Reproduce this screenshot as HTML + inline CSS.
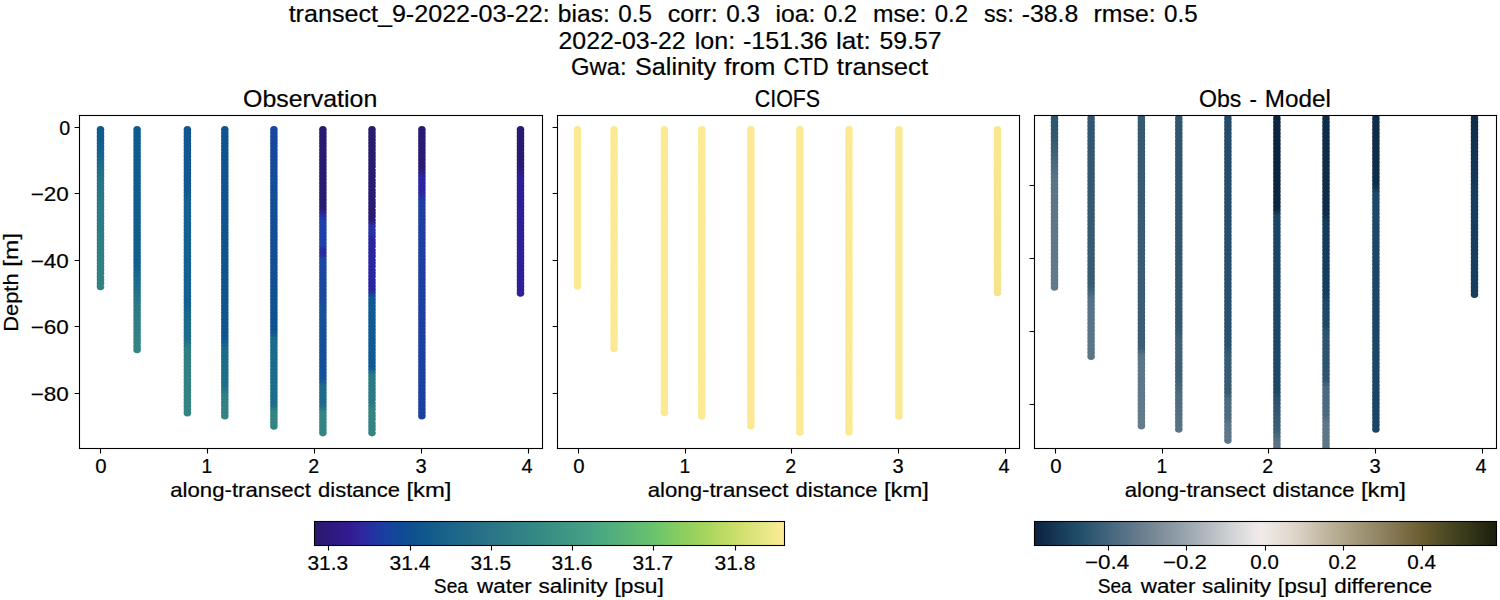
<!DOCTYPE html>
<html><head><meta charset="utf-8"><title>transect</title>
<style>html,body{margin:0;padding:0;background:#fff;}svg{display:block;}text{font-family:"Liberation Sans", sans-serif;fill:#000;white-space:pre;stroke:#000;stroke-width:0.2px;}</style>
</head><body>
<svg width="1500" height="600" viewBox="0 0 1500 600">
<defs><clipPath id="c0"><rect x="79.5" y="115.5" width="463.0" height="333.0"/></clipPath><clipPath id="c1"><rect x="557.5" y="115.5" width="462.0" height="333.0"/></clipPath><clipPath id="c2"><rect x="1034.5" y="115.5" width="462.0" height="333.0"/></clipPath><linearGradient id="g1" gradientUnits="userSpaceOnUse" x1="0" y1="125.90" x2="0" y2="290.30"><stop offset="0.0006" stop-color="#0f5a8c"/><stop offset="0.1344" stop-color="#12608d"/><stop offset="0.2987" stop-color="#237289"/><stop offset="0.4507" stop-color="#2b7a86"/><stop offset="0.9982" stop-color="#338282"/></linearGradient><linearGradient id="g2" gradientUnits="userSpaceOnUse" x1="0" y1="125.90" x2="0" y2="353.30"><stop offset="0.0004" stop-color="#0f5a8f"/><stop offset="0.5985" stop-color="#125f8e"/><stop offset="0.6996" stop-color="#1d6d8a"/><stop offset="0.7876" stop-color="#2a7a86"/><stop offset="0.8755" stop-color="#2f7f84"/><stop offset="0.9987" stop-color="#348483"/></linearGradient><linearGradient id="g3" gradientUnits="userSpaceOnUse" x1="0" y1="125.90" x2="0" y2="416.60"><stop offset="0.0003" stop-color="#0f5890"/><stop offset="0.2205" stop-color="#0f5890"/><stop offset="0.2549" stop-color="#14608e"/><stop offset="0.6161" stop-color="#14608e"/><stop offset="0.6402" stop-color="#1a688a"/><stop offset="0.7365" stop-color="#1e6d89"/><stop offset="0.7709" stop-color="#2e8080"/><stop offset="0.9979" stop-color="#348483"/></linearGradient><linearGradient id="g4" gradientUnits="userSpaceOnUse" x1="0" y1="125.90" x2="0" y2="419.60"><stop offset="0.0003" stop-color="#0e5490"/><stop offset="0.7222" stop-color="#0f5690"/><stop offset="0.7562" stop-color="#1a6a8a"/><stop offset="0.8822" stop-color="#1f6f89"/><stop offset="0.9162" stop-color="#2e8084"/><stop offset="1.0000" stop-color="#348483"/></linearGradient><linearGradient id="g5" gradientUnits="userSpaceOnUse" x1="0" y1="125.90" x2="0" y2="429.70"><stop offset="0.0003" stop-color="#1a44a0"/><stop offset="0.1122" stop-color="#154a9a"/><stop offset="0.2439" stop-color="#124e96"/><stop offset="0.6718" stop-color="#0f5290"/><stop offset="0.7047" stop-color="#1a6a8c"/><stop offset="0.9187" stop-color="#1d6c8a"/><stop offset="0.9417" stop-color="#348483"/><stop offset="1.0000" stop-color="#348483"/></linearGradient><linearGradient id="g6" gradientUnits="userSpaceOnUse" x1="0" y1="125.90" x2="0" y2="436.40"><stop offset="0.0003" stop-color="#2a1a70"/><stop offset="0.2676" stop-color="#2a1a72"/><stop offset="0.2870" stop-color="#2a2aa8"/><stop offset="0.3063" stop-color="#1e40a8"/><stop offset="0.3836" stop-color="#1e40a8"/><stop offset="0.3965" stop-color="#2a2aa0"/><stop offset="0.4158" stop-color="#2a2aa0"/><stop offset="0.4287" stop-color="#1a48a0"/><stop offset="0.5607" stop-color="#1a48a0"/><stop offset="0.5800" stop-color="#165098"/><stop offset="0.8119" stop-color="#12509a"/><stop offset="0.8377" stop-color="#1d6a8c"/><stop offset="0.8989" stop-color="#1d6a8c"/><stop offset="0.9214" stop-color="#348483"/><stop offset="0.9987" stop-color="#348483"/></linearGradient><linearGradient id="g7" gradientUnits="userSpaceOnUse" x1="0" y1="125.90" x2="0" y2="436.40"><stop offset="0.0003" stop-color="#2a1a70"/><stop offset="0.3031" stop-color="#2a1a72"/><stop offset="0.3224" stop-color="#2a30a8"/><stop offset="0.3481" stop-color="#2a30a8"/><stop offset="0.3610" stop-color="#2a24a0"/><stop offset="0.5285" stop-color="#2a26a0"/><stop offset="0.5543" stop-color="#0f5a95"/><stop offset="0.7797" stop-color="#0f5a95"/><stop offset="0.8023" stop-color="#2a7a86"/><stop offset="0.8892" stop-color="#2a7a86"/><stop offset="0.9118" stop-color="#348483"/><stop offset="0.9987" stop-color="#348483"/></linearGradient><linearGradient id="g8" gradientUnits="userSpaceOnUse" x1="0" y1="125.90" x2="0" y2="419.60"><stop offset="0.0003" stop-color="#2a1a74"/><stop offset="0.1433" stop-color="#2a1a74"/><stop offset="0.1706" stop-color="#2c24a0"/><stop offset="0.2251" stop-color="#2c24a0"/><stop offset="0.2523" stop-color="#1e3ea0"/><stop offset="1.0000" stop-color="#1d40a0"/></linearGradient><linearGradient id="g9" gradientUnits="userSpaceOnUse" x1="0" y1="125.90" x2="0" y2="296.80"><stop offset="0.0006" stop-color="#2a1a70"/><stop offset="0.2288" stop-color="#2a1a74"/><stop offset="0.3166" stop-color="#2c2098"/><stop offset="1.0000" stop-color="#2e209a"/></linearGradient><linearGradient id="g10" gradientUnits="userSpaceOnUse" x1="0" y1="125.90" x2="0" y2="296.30"><stop offset="0.0006" stop-color="#fae891"/><stop offset="0.4349" stop-color="#f8e68e"/><stop offset="1.0000" stop-color="#f5e48b"/></linearGradient><linearGradient id="g11" gradientUnits="userSpaceOnUse" x1="0" y1="111.10" x2="0" y2="290.84"><stop offset="0.0273" stop-color="#2e5570"/><stop offset="0.1608" stop-color="#34596f"/><stop offset="0.2999" stop-color="#4a6a80"/><stop offset="0.3833" stop-color="#5a7586"/><stop offset="0.9953" stop-color="#627a8a"/></linearGradient><linearGradient id="g12" gradientUnits="userSpaceOnUse" x1="0" y1="111.10" x2="0" y2="360.00"><stop offset="0.0197" stop-color="#31566f"/><stop offset="0.6987" stop-color="#375b72"/><stop offset="0.7589" stop-color="#56708a"/><stop offset="0.9960" stop-color="#5e7786"/></linearGradient><linearGradient id="g13" gradientUnits="userSpaceOnUse" x1="0" y1="111.10" x2="0" y2="429.49"><stop offset="0.0154" stop-color="#35596f"/><stop offset="0.7441" stop-color="#3b5e76"/><stop offset="0.7692" stop-color="#5a7586"/><stop offset="0.9985" stop-color="#667c8c"/></linearGradient><linearGradient id="g14" gradientUnits="userSpaceOnUse" x1="0" y1="111.10" x2="0" y2="432.78"><stop offset="0.0152" stop-color="#30556f"/><stop offset="0.6743" stop-color="#34586f"/><stop offset="0.7116" stop-color="#3e6178"/><stop offset="0.8328" stop-color="#3e6178"/><stop offset="0.8826" stop-color="#4e6c80"/><stop offset="0.9976" stop-color="#5a7385"/></linearGradient><linearGradient id="g15" gradientUnits="userSpaceOnUse" x1="0" y1="111.10" x2="0" y2="443.87"><stop offset="0.0147" stop-color="#244c6a"/><stop offset="0.7029" stop-color="#2a5270"/><stop offset="0.7329" stop-color="#365b73"/><stop offset="0.8471" stop-color="#365b73"/><stop offset="0.8682" stop-color="#4e6c80"/><stop offset="0.9253" stop-color="#4e6c80"/><stop offset="0.9433" stop-color="#5e7788"/><stop offset="1.0000" stop-color="#5e7788"/></linearGradient><linearGradient id="g16" gradientUnits="userSpaceOnUse" x1="0" y1="111.10" x2="0" y2="451.22"><stop offset="0.0144" stop-color="#0b2540"/><stop offset="0.2849" stop-color="#0b2540"/><stop offset="0.3084" stop-color="#1a4565"/><stop offset="0.8200" stop-color="#1d4868"/><stop offset="0.8494" stop-color="#2a5270"/><stop offset="0.9435" stop-color="#3e6178"/><stop offset="0.9729" stop-color="#5a7385"/><stop offset="0.9964" stop-color="#5a7385"/></linearGradient><linearGradient id="g17" gradientUnits="userSpaceOnUse" x1="0" y1="111.10" x2="0" y2="451.22"><stop offset="0.0144" stop-color="#0f2c48"/><stop offset="0.2996" stop-color="#0f2c48"/><stop offset="0.3231" stop-color="#133a5a"/><stop offset="0.5377" stop-color="#163e5e"/><stop offset="0.5613" stop-color="#1e4868"/><stop offset="0.6289" stop-color="#1e4868"/><stop offset="0.6495" stop-color="#2e5570"/><stop offset="0.7906" stop-color="#2e5570"/><stop offset="0.8112" stop-color="#4a6a80"/><stop offset="0.8964" stop-color="#4a6a80"/><stop offset="0.9170" stop-color="#5e7788"/><stop offset="0.9964" stop-color="#5e7788"/></linearGradient><linearGradient id="g18" gradientUnits="userSpaceOnUse" x1="0" y1="111.10" x2="0" y2="432.78"><stop offset="0.0152" stop-color="#0f2c48"/><stop offset="0.2266" stop-color="#0f2c48"/><stop offset="0.2577" stop-color="#1d4868"/><stop offset="1.0000" stop-color="#1b4565"/></linearGradient><linearGradient id="g19" gradientUnits="userSpaceOnUse" x1="0" y1="111.10" x2="0" y2="297.98"><stop offset="0.0262" stop-color="#102c48"/><stop offset="0.2617" stop-color="#143455"/><stop offset="0.4757" stop-color="#173e5e"/><stop offset="0.9948" stop-color="#173e5e"/></linearGradient><linearGradient id="cm1" x1="0" y1="0" x2="1" y2="0"><stop offset="0.0" stop-color="#2a186c"/><stop offset="0.04" stop-color="#2e1a80"/><stop offset="0.08" stop-color="#331c94"/><stop offset="0.106" stop-color="#2c28a0"/><stop offset="0.129" stop-color="#2035a0"/><stop offset="0.151" stop-color="#1a40a0"/><stop offset="0.184" stop-color="#0f4a96"/><stop offset="0.208" stop-color="#0f5090"/><stop offset="0.242" stop-color="#0f5a8c"/><stop offset="0.287" stop-color="#1a648a"/><stop offset="0.333" stop-color="#226c88"/><stop offset="0.412" stop-color="#2e7d86"/><stop offset="0.48" stop-color="#368a85"/><stop offset="0.524" stop-color="#3d9485"/><stop offset="0.571" stop-color="#449e84"/><stop offset="0.616" stop-color="#4caa80"/><stop offset="0.658" stop-color="#58b478"/><stop offset="0.727" stop-color="#6cc46c"/><stop offset="0.771" stop-color="#86cc62"/><stop offset="0.817" stop-color="#9ed25c"/><stop offset="0.863" stop-color="#b8da62"/><stop offset="0.907" stop-color="#d0e06e"/><stop offset="0.953" stop-color="#e5e684"/><stop offset="0.988" stop-color="#f8ea92"/><stop offset="1.0" stop-color="#fdec98"/></linearGradient><linearGradient id="cm2" x1="0" y1="0" x2="1" y2="0"><stop offset="0.0" stop-color="#0b2240"/><stop offset="0.088" stop-color="#1e4a68"/><stop offset="0.164" stop-color="#45677e"/><stop offset="0.233" stop-color="#6a7e8e"/><stop offset="0.302" stop-color="#8c9aa4"/><stop offset="0.371" stop-color="#b2b8be"/><stop offset="0.44" stop-color="#d8d9db"/><stop offset="0.49" stop-color="#f1ecea"/><stop offset="0.557" stop-color="#e0d8cc"/><stop offset="0.626" stop-color="#c2b8a2"/><stop offset="0.695" stop-color="#a49a7a"/><stop offset="0.764" stop-color="#8a7d5a"/><stop offset="0.834" stop-color="#6c5f32"/><stop offset="0.903" stop-color="#464522"/><stop offset="1.0" stop-color="#1c1e0b"/></linearGradient></defs>
<rect width="1500" height="600" fill="#fff"/>
<g clip-path="url(#c0)">
<path fill="url(#g1)" d="M96.7 129.7a3.8 3.8 0 1 0 7.6 0a3.8 3.8 0 1 0 -7.6 0M96.7 133.0a3.8 3.8 0 1 0 7.6 0a3.8 3.8 0 1 0 -7.6 0M96.7 136.4a3.8 3.8 0 1 0 7.6 0a3.8 3.8 0 1 0 -7.6 0M96.7 139.7a3.8 3.8 0 1 0 7.6 0a3.8 3.8 0 1 0 -7.6 0M96.7 143.0a3.8 3.8 0 1 0 7.6 0a3.8 3.8 0 1 0 -7.6 0M96.7 146.4a3.8 3.8 0 1 0 7.6 0a3.8 3.8 0 1 0 -7.6 0M96.7 149.7a3.8 3.8 0 1 0 7.6 0a3.8 3.8 0 1 0 -7.6 0M96.7 153.1a3.8 3.8 0 1 0 7.6 0a3.8 3.8 0 1 0 -7.6 0M96.7 156.4a3.8 3.8 0 1 0 7.6 0a3.8 3.8 0 1 0 -7.6 0M96.7 159.7a3.8 3.8 0 1 0 7.6 0a3.8 3.8 0 1 0 -7.6 0M96.7 163.1a3.8 3.8 0 1 0 7.6 0a3.8 3.8 0 1 0 -7.6 0M96.7 166.4a3.8 3.8 0 1 0 7.6 0a3.8 3.8 0 1 0 -7.6 0M96.7 169.7a3.8 3.8 0 1 0 7.6 0a3.8 3.8 0 1 0 -7.6 0M96.7 173.1a3.8 3.8 0 1 0 7.6 0a3.8 3.8 0 1 0 -7.6 0M96.7 176.4a3.8 3.8 0 1 0 7.6 0a3.8 3.8 0 1 0 -7.6 0M96.7 179.7a3.8 3.8 0 1 0 7.6 0a3.8 3.8 0 1 0 -7.6 0M96.7 183.1a3.8 3.8 0 1 0 7.6 0a3.8 3.8 0 1 0 -7.6 0M96.7 186.4a3.8 3.8 0 1 0 7.6 0a3.8 3.8 0 1 0 -7.6 0M96.7 189.8a3.8 3.8 0 1 0 7.6 0a3.8 3.8 0 1 0 -7.6 0M96.7 193.1a3.8 3.8 0 1 0 7.6 0a3.8 3.8 0 1 0 -7.6 0M96.7 196.4a3.8 3.8 0 1 0 7.6 0a3.8 3.8 0 1 0 -7.6 0M96.7 199.8a3.8 3.8 0 1 0 7.6 0a3.8 3.8 0 1 0 -7.6 0M96.7 203.1a3.8 3.8 0 1 0 7.6 0a3.8 3.8 0 1 0 -7.6 0M96.7 206.4a3.8 3.8 0 1 0 7.6 0a3.8 3.8 0 1 0 -7.6 0M96.7 209.8a3.8 3.8 0 1 0 7.6 0a3.8 3.8 0 1 0 -7.6 0M96.7 213.1a3.8 3.8 0 1 0 7.6 0a3.8 3.8 0 1 0 -7.6 0M96.7 216.4a3.8 3.8 0 1 0 7.6 0a3.8 3.8 0 1 0 -7.6 0M96.7 219.8a3.8 3.8 0 1 0 7.6 0a3.8 3.8 0 1 0 -7.6 0M96.7 223.1a3.8 3.8 0 1 0 7.6 0a3.8 3.8 0 1 0 -7.6 0M96.7 226.4a3.8 3.8 0 1 0 7.6 0a3.8 3.8 0 1 0 -7.6 0M96.7 229.8a3.8 3.8 0 1 0 7.6 0a3.8 3.8 0 1 0 -7.6 0M96.7 233.1a3.8 3.8 0 1 0 7.6 0a3.8 3.8 0 1 0 -7.6 0M96.7 236.5a3.8 3.8 0 1 0 7.6 0a3.8 3.8 0 1 0 -7.6 0M96.7 239.8a3.8 3.8 0 1 0 7.6 0a3.8 3.8 0 1 0 -7.6 0M96.7 243.1a3.8 3.8 0 1 0 7.6 0a3.8 3.8 0 1 0 -7.6 0M96.7 246.5a3.8 3.8 0 1 0 7.6 0a3.8 3.8 0 1 0 -7.6 0M96.7 249.8a3.8 3.8 0 1 0 7.6 0a3.8 3.8 0 1 0 -7.6 0M96.7 253.1a3.8 3.8 0 1 0 7.6 0a3.8 3.8 0 1 0 -7.6 0M96.7 256.5a3.8 3.8 0 1 0 7.6 0a3.8 3.8 0 1 0 -7.6 0M96.7 259.8a3.8 3.8 0 1 0 7.6 0a3.8 3.8 0 1 0 -7.6 0M96.7 263.1a3.8 3.8 0 1 0 7.6 0a3.8 3.8 0 1 0 -7.6 0M96.7 266.5a3.8 3.8 0 1 0 7.6 0a3.8 3.8 0 1 0 -7.6 0M96.7 269.8a3.8 3.8 0 1 0 7.6 0a3.8 3.8 0 1 0 -7.6 0M96.7 273.2a3.8 3.8 0 1 0 7.6 0a3.8 3.8 0 1 0 -7.6 0M96.7 276.5a3.8 3.8 0 1 0 7.6 0a3.8 3.8 0 1 0 -7.6 0M96.7 279.8a3.8 3.8 0 1 0 7.6 0a3.8 3.8 0 1 0 -7.6 0M96.7 283.2a3.8 3.8 0 1 0 7.6 0a3.8 3.8 0 1 0 -7.6 0M96.7 286.5a3.8 3.8 0 1 0 7.6 0a3.8 3.8 0 1 0 -7.6 0"/>
<path fill="url(#g2)" d="M133.3 129.7a3.8 3.8 0 1 0 7.6 0a3.8 3.8 0 1 0 -7.6 0M133.3 133.0a3.8 3.8 0 1 0 7.6 0a3.8 3.8 0 1 0 -7.6 0M133.3 136.4a3.8 3.8 0 1 0 7.6 0a3.8 3.8 0 1 0 -7.6 0M133.3 139.7a3.8 3.8 0 1 0 7.6 0a3.8 3.8 0 1 0 -7.6 0M133.3 143.0a3.8 3.8 0 1 0 7.6 0a3.8 3.8 0 1 0 -7.6 0M133.3 146.4a3.8 3.8 0 1 0 7.6 0a3.8 3.8 0 1 0 -7.6 0M133.3 149.7a3.8 3.8 0 1 0 7.6 0a3.8 3.8 0 1 0 -7.6 0M133.3 153.0a3.8 3.8 0 1 0 7.6 0a3.8 3.8 0 1 0 -7.6 0M133.3 156.3a3.8 3.8 0 1 0 7.6 0a3.8 3.8 0 1 0 -7.6 0M133.3 159.7a3.8 3.8 0 1 0 7.6 0a3.8 3.8 0 1 0 -7.6 0M133.3 163.0a3.8 3.8 0 1 0 7.6 0a3.8 3.8 0 1 0 -7.6 0M133.3 166.3a3.8 3.8 0 1 0 7.6 0a3.8 3.8 0 1 0 -7.6 0M133.3 169.7a3.8 3.8 0 1 0 7.6 0a3.8 3.8 0 1 0 -7.6 0M133.3 173.0a3.8 3.8 0 1 0 7.6 0a3.8 3.8 0 1 0 -7.6 0M133.3 176.3a3.8 3.8 0 1 0 7.6 0a3.8 3.8 0 1 0 -7.6 0M133.3 179.7a3.8 3.8 0 1 0 7.6 0a3.8 3.8 0 1 0 -7.6 0M133.3 183.0a3.8 3.8 0 1 0 7.6 0a3.8 3.8 0 1 0 -7.6 0M133.3 186.3a3.8 3.8 0 1 0 7.6 0a3.8 3.8 0 1 0 -7.6 0M133.3 189.6a3.8 3.8 0 1 0 7.6 0a3.8 3.8 0 1 0 -7.6 0M133.3 193.0a3.8 3.8 0 1 0 7.6 0a3.8 3.8 0 1 0 -7.6 0M133.3 196.3a3.8 3.8 0 1 0 7.6 0a3.8 3.8 0 1 0 -7.6 0M133.3 199.6a3.8 3.8 0 1 0 7.6 0a3.8 3.8 0 1 0 -7.6 0M133.3 203.0a3.8 3.8 0 1 0 7.6 0a3.8 3.8 0 1 0 -7.6 0M133.3 206.3a3.8 3.8 0 1 0 7.6 0a3.8 3.8 0 1 0 -7.6 0M133.3 209.6a3.8 3.8 0 1 0 7.6 0a3.8 3.8 0 1 0 -7.6 0M133.3 213.0a3.8 3.8 0 1 0 7.6 0a3.8 3.8 0 1 0 -7.6 0M133.3 216.3a3.8 3.8 0 1 0 7.6 0a3.8 3.8 0 1 0 -7.6 0M133.3 219.6a3.8 3.8 0 1 0 7.6 0a3.8 3.8 0 1 0 -7.6 0M133.3 222.9a3.8 3.8 0 1 0 7.6 0a3.8 3.8 0 1 0 -7.6 0M133.3 226.3a3.8 3.8 0 1 0 7.6 0a3.8 3.8 0 1 0 -7.6 0M133.3 229.6a3.8 3.8 0 1 0 7.6 0a3.8 3.8 0 1 0 -7.6 0M133.3 232.9a3.8 3.8 0 1 0 7.6 0a3.8 3.8 0 1 0 -7.6 0M133.3 236.3a3.8 3.8 0 1 0 7.6 0a3.8 3.8 0 1 0 -7.6 0M133.3 239.6a3.8 3.8 0 1 0 7.6 0a3.8 3.8 0 1 0 -7.6 0M133.3 242.9a3.8 3.8 0 1 0 7.6 0a3.8 3.8 0 1 0 -7.6 0M133.3 246.3a3.8 3.8 0 1 0 7.6 0a3.8 3.8 0 1 0 -7.6 0M133.3 249.6a3.8 3.8 0 1 0 7.6 0a3.8 3.8 0 1 0 -7.6 0M133.3 252.9a3.8 3.8 0 1 0 7.6 0a3.8 3.8 0 1 0 -7.6 0M133.3 256.3a3.8 3.8 0 1 0 7.6 0a3.8 3.8 0 1 0 -7.6 0M133.3 259.6a3.8 3.8 0 1 0 7.6 0a3.8 3.8 0 1 0 -7.6 0M133.3 262.9a3.8 3.8 0 1 0 7.6 0a3.8 3.8 0 1 0 -7.6 0M133.3 266.2a3.8 3.8 0 1 0 7.6 0a3.8 3.8 0 1 0 -7.6 0M133.3 269.6a3.8 3.8 0 1 0 7.6 0a3.8 3.8 0 1 0 -7.6 0M133.3 272.9a3.8 3.8 0 1 0 7.6 0a3.8 3.8 0 1 0 -7.6 0M133.3 276.2a3.8 3.8 0 1 0 7.6 0a3.8 3.8 0 1 0 -7.6 0M133.3 279.6a3.8 3.8 0 1 0 7.6 0a3.8 3.8 0 1 0 -7.6 0M133.3 282.9a3.8 3.8 0 1 0 7.6 0a3.8 3.8 0 1 0 -7.6 0M133.3 286.2a3.8 3.8 0 1 0 7.6 0a3.8 3.8 0 1 0 -7.6 0M133.3 289.6a3.8 3.8 0 1 0 7.6 0a3.8 3.8 0 1 0 -7.6 0M133.3 292.9a3.8 3.8 0 1 0 7.6 0a3.8 3.8 0 1 0 -7.6 0M133.3 296.2a3.8 3.8 0 1 0 7.6 0a3.8 3.8 0 1 0 -7.6 0M133.3 299.5a3.8 3.8 0 1 0 7.6 0a3.8 3.8 0 1 0 -7.6 0M133.3 302.9a3.8 3.8 0 1 0 7.6 0a3.8 3.8 0 1 0 -7.6 0M133.3 306.2a3.8 3.8 0 1 0 7.6 0a3.8 3.8 0 1 0 -7.6 0M133.3 309.5a3.8 3.8 0 1 0 7.6 0a3.8 3.8 0 1 0 -7.6 0M133.3 312.9a3.8 3.8 0 1 0 7.6 0a3.8 3.8 0 1 0 -7.6 0M133.3 316.2a3.8 3.8 0 1 0 7.6 0a3.8 3.8 0 1 0 -7.6 0M133.3 319.5a3.8 3.8 0 1 0 7.6 0a3.8 3.8 0 1 0 -7.6 0M133.3 322.9a3.8 3.8 0 1 0 7.6 0a3.8 3.8 0 1 0 -7.6 0M133.3 326.2a3.8 3.8 0 1 0 7.6 0a3.8 3.8 0 1 0 -7.6 0M133.3 329.5a3.8 3.8 0 1 0 7.6 0a3.8 3.8 0 1 0 -7.6 0M133.3 332.8a3.8 3.8 0 1 0 7.6 0a3.8 3.8 0 1 0 -7.6 0M133.3 336.2a3.8 3.8 0 1 0 7.6 0a3.8 3.8 0 1 0 -7.6 0M133.3 339.5a3.8 3.8 0 1 0 7.6 0a3.8 3.8 0 1 0 -7.6 0M133.3 342.8a3.8 3.8 0 1 0 7.6 0a3.8 3.8 0 1 0 -7.6 0M133.3 346.2a3.8 3.8 0 1 0 7.6 0a3.8 3.8 0 1 0 -7.6 0M133.3 349.5a3.8 3.8 0 1 0 7.6 0a3.8 3.8 0 1 0 -7.6 0"/>
<path fill="url(#g3)" d="M183.6 129.7a3.8 3.8 0 1 0 7.6 0a3.8 3.8 0 1 0 -7.6 0M183.6 133.0a3.8 3.8 0 1 0 7.6 0a3.8 3.8 0 1 0 -7.6 0M183.6 136.4a3.8 3.8 0 1 0 7.6 0a3.8 3.8 0 1 0 -7.6 0M183.6 139.7a3.8 3.8 0 1 0 7.6 0a3.8 3.8 0 1 0 -7.6 0M183.6 143.0a3.8 3.8 0 1 0 7.6 0a3.8 3.8 0 1 0 -7.6 0M183.6 146.4a3.8 3.8 0 1 0 7.6 0a3.8 3.8 0 1 0 -7.6 0M183.6 149.7a3.8 3.8 0 1 0 7.6 0a3.8 3.8 0 1 0 -7.6 0M183.6 153.0a3.8 3.8 0 1 0 7.6 0a3.8 3.8 0 1 0 -7.6 0M183.6 156.3a3.8 3.8 0 1 0 7.6 0a3.8 3.8 0 1 0 -7.6 0M183.6 159.7a3.8 3.8 0 1 0 7.6 0a3.8 3.8 0 1 0 -7.6 0M183.6 163.0a3.8 3.8 0 1 0 7.6 0a3.8 3.8 0 1 0 -7.6 0M183.6 166.3a3.8 3.8 0 1 0 7.6 0a3.8 3.8 0 1 0 -7.6 0M183.6 169.7a3.8 3.8 0 1 0 7.6 0a3.8 3.8 0 1 0 -7.6 0M183.6 173.0a3.8 3.8 0 1 0 7.6 0a3.8 3.8 0 1 0 -7.6 0M183.6 176.3a3.8 3.8 0 1 0 7.6 0a3.8 3.8 0 1 0 -7.6 0M183.6 179.7a3.8 3.8 0 1 0 7.6 0a3.8 3.8 0 1 0 -7.6 0M183.6 183.0a3.8 3.8 0 1 0 7.6 0a3.8 3.8 0 1 0 -7.6 0M183.6 186.3a3.8 3.8 0 1 0 7.6 0a3.8 3.8 0 1 0 -7.6 0M183.6 189.7a3.8 3.8 0 1 0 7.6 0a3.8 3.8 0 1 0 -7.6 0M183.6 193.0a3.8 3.8 0 1 0 7.6 0a3.8 3.8 0 1 0 -7.6 0M183.6 196.3a3.8 3.8 0 1 0 7.6 0a3.8 3.8 0 1 0 -7.6 0M183.6 199.6a3.8 3.8 0 1 0 7.6 0a3.8 3.8 0 1 0 -7.6 0M183.6 203.0a3.8 3.8 0 1 0 7.6 0a3.8 3.8 0 1 0 -7.6 0M183.6 206.3a3.8 3.8 0 1 0 7.6 0a3.8 3.8 0 1 0 -7.6 0M183.6 209.6a3.8 3.8 0 1 0 7.6 0a3.8 3.8 0 1 0 -7.6 0M183.6 213.0a3.8 3.8 0 1 0 7.6 0a3.8 3.8 0 1 0 -7.6 0M183.6 216.3a3.8 3.8 0 1 0 7.6 0a3.8 3.8 0 1 0 -7.6 0M183.6 219.6a3.8 3.8 0 1 0 7.6 0a3.8 3.8 0 1 0 -7.6 0M183.6 223.0a3.8 3.8 0 1 0 7.6 0a3.8 3.8 0 1 0 -7.6 0M183.6 226.3a3.8 3.8 0 1 0 7.6 0a3.8 3.8 0 1 0 -7.6 0M183.6 229.6a3.8 3.8 0 1 0 7.6 0a3.8 3.8 0 1 0 -7.6 0M183.6 232.9a3.8 3.8 0 1 0 7.6 0a3.8 3.8 0 1 0 -7.6 0M183.6 236.3a3.8 3.8 0 1 0 7.6 0a3.8 3.8 0 1 0 -7.6 0M183.6 239.6a3.8 3.8 0 1 0 7.6 0a3.8 3.8 0 1 0 -7.6 0M183.6 242.9a3.8 3.8 0 1 0 7.6 0a3.8 3.8 0 1 0 -7.6 0M183.6 246.3a3.8 3.8 0 1 0 7.6 0a3.8 3.8 0 1 0 -7.6 0M183.6 249.6a3.8 3.8 0 1 0 7.6 0a3.8 3.8 0 1 0 -7.6 0M183.6 252.9a3.8 3.8 0 1 0 7.6 0a3.8 3.8 0 1 0 -7.6 0M183.6 256.3a3.8 3.8 0 1 0 7.6 0a3.8 3.8 0 1 0 -7.6 0M183.6 259.6a3.8 3.8 0 1 0 7.6 0a3.8 3.8 0 1 0 -7.6 0M183.6 262.9a3.8 3.8 0 1 0 7.6 0a3.8 3.8 0 1 0 -7.6 0M183.6 266.3a3.8 3.8 0 1 0 7.6 0a3.8 3.8 0 1 0 -7.6 0M183.6 269.6a3.8 3.8 0 1 0 7.6 0a3.8 3.8 0 1 0 -7.6 0M183.6 272.9a3.8 3.8 0 1 0 7.6 0a3.8 3.8 0 1 0 -7.6 0M183.6 276.2a3.8 3.8 0 1 0 7.6 0a3.8 3.8 0 1 0 -7.6 0M183.6 279.6a3.8 3.8 0 1 0 7.6 0a3.8 3.8 0 1 0 -7.6 0M183.6 282.9a3.8 3.8 0 1 0 7.6 0a3.8 3.8 0 1 0 -7.6 0M183.6 286.2a3.8 3.8 0 1 0 7.6 0a3.8 3.8 0 1 0 -7.6 0M183.6 289.6a3.8 3.8 0 1 0 7.6 0a3.8 3.8 0 1 0 -7.6 0M183.6 292.9a3.8 3.8 0 1 0 7.6 0a3.8 3.8 0 1 0 -7.6 0M183.6 296.2a3.8 3.8 0 1 0 7.6 0a3.8 3.8 0 1 0 -7.6 0M183.6 299.6a3.8 3.8 0 1 0 7.6 0a3.8 3.8 0 1 0 -7.6 0M183.6 302.9a3.8 3.8 0 1 0 7.6 0a3.8 3.8 0 1 0 -7.6 0M183.6 306.2a3.8 3.8 0 1 0 7.6 0a3.8 3.8 0 1 0 -7.6 0M183.6 309.6a3.8 3.8 0 1 0 7.6 0a3.8 3.8 0 1 0 -7.6 0M183.6 312.9a3.8 3.8 0 1 0 7.6 0a3.8 3.8 0 1 0 -7.6 0M183.6 316.2a3.8 3.8 0 1 0 7.6 0a3.8 3.8 0 1 0 -7.6 0M183.6 319.5a3.8 3.8 0 1 0 7.6 0a3.8 3.8 0 1 0 -7.6 0M183.6 322.9a3.8 3.8 0 1 0 7.6 0a3.8 3.8 0 1 0 -7.6 0M183.6 326.2a3.8 3.8 0 1 0 7.6 0a3.8 3.8 0 1 0 -7.6 0M183.6 329.5a3.8 3.8 0 1 0 7.6 0a3.8 3.8 0 1 0 -7.6 0M183.6 332.9a3.8 3.8 0 1 0 7.6 0a3.8 3.8 0 1 0 -7.6 0M183.6 336.2a3.8 3.8 0 1 0 7.6 0a3.8 3.8 0 1 0 -7.6 0M183.6 339.5a3.8 3.8 0 1 0 7.6 0a3.8 3.8 0 1 0 -7.6 0M183.6 342.9a3.8 3.8 0 1 0 7.6 0a3.8 3.8 0 1 0 -7.6 0M183.6 346.2a3.8 3.8 0 1 0 7.6 0a3.8 3.8 0 1 0 -7.6 0M183.6 349.5a3.8 3.8 0 1 0 7.6 0a3.8 3.8 0 1 0 -7.6 0M183.6 352.8a3.8 3.8 0 1 0 7.6 0a3.8 3.8 0 1 0 -7.6 0M183.6 356.2a3.8 3.8 0 1 0 7.6 0a3.8 3.8 0 1 0 -7.6 0M183.6 359.5a3.8 3.8 0 1 0 7.6 0a3.8 3.8 0 1 0 -7.6 0M183.6 362.8a3.8 3.8 0 1 0 7.6 0a3.8 3.8 0 1 0 -7.6 0M183.6 366.2a3.8 3.8 0 1 0 7.6 0a3.8 3.8 0 1 0 -7.6 0M183.6 369.5a3.8 3.8 0 1 0 7.6 0a3.8 3.8 0 1 0 -7.6 0M183.6 372.8a3.8 3.8 0 1 0 7.6 0a3.8 3.8 0 1 0 -7.6 0M183.6 376.2a3.8 3.8 0 1 0 7.6 0a3.8 3.8 0 1 0 -7.6 0M183.6 379.5a3.8 3.8 0 1 0 7.6 0a3.8 3.8 0 1 0 -7.6 0M183.6 382.8a3.8 3.8 0 1 0 7.6 0a3.8 3.8 0 1 0 -7.6 0M183.6 386.2a3.8 3.8 0 1 0 7.6 0a3.8 3.8 0 1 0 -7.6 0M183.6 389.5a3.8 3.8 0 1 0 7.6 0a3.8 3.8 0 1 0 -7.6 0M183.6 392.8a3.8 3.8 0 1 0 7.6 0a3.8 3.8 0 1 0 -7.6 0M183.6 396.1a3.8 3.8 0 1 0 7.6 0a3.8 3.8 0 1 0 -7.6 0M183.6 399.5a3.8 3.8 0 1 0 7.6 0a3.8 3.8 0 1 0 -7.6 0M183.6 402.8a3.8 3.8 0 1 0 7.6 0a3.8 3.8 0 1 0 -7.6 0M183.6 406.1a3.8 3.8 0 1 0 7.6 0a3.8 3.8 0 1 0 -7.6 0M183.6 409.5a3.8 3.8 0 1 0 7.6 0a3.8 3.8 0 1 0 -7.6 0M183.6 412.8a3.8 3.8 0 1 0 7.6 0a3.8 3.8 0 1 0 -7.6 0"/>
<path fill="url(#g4)" d="M221.0 129.7a3.8 3.8 0 1 0 7.6 0a3.8 3.8 0 1 0 -7.6 0M221.0 133.0a3.8 3.8 0 1 0 7.6 0a3.8 3.8 0 1 0 -7.6 0M221.0 136.4a3.8 3.8 0 1 0 7.6 0a3.8 3.8 0 1 0 -7.6 0M221.0 139.7a3.8 3.8 0 1 0 7.6 0a3.8 3.8 0 1 0 -7.6 0M221.0 143.0a3.8 3.8 0 1 0 7.6 0a3.8 3.8 0 1 0 -7.6 0M221.0 146.3a3.8 3.8 0 1 0 7.6 0a3.8 3.8 0 1 0 -7.6 0M221.0 149.7a3.8 3.8 0 1 0 7.6 0a3.8 3.8 0 1 0 -7.6 0M221.0 153.0a3.8 3.8 0 1 0 7.6 0a3.8 3.8 0 1 0 -7.6 0M221.0 156.3a3.8 3.8 0 1 0 7.6 0a3.8 3.8 0 1 0 -7.6 0M221.0 159.6a3.8 3.8 0 1 0 7.6 0a3.8 3.8 0 1 0 -7.6 0M221.0 163.0a3.8 3.8 0 1 0 7.6 0a3.8 3.8 0 1 0 -7.6 0M221.0 166.3a3.8 3.8 0 1 0 7.6 0a3.8 3.8 0 1 0 -7.6 0M221.0 169.6a3.8 3.8 0 1 0 7.6 0a3.8 3.8 0 1 0 -7.6 0M221.0 172.9a3.8 3.8 0 1 0 7.6 0a3.8 3.8 0 1 0 -7.6 0M221.0 176.3a3.8 3.8 0 1 0 7.6 0a3.8 3.8 0 1 0 -7.6 0M221.0 179.6a3.8 3.8 0 1 0 7.6 0a3.8 3.8 0 1 0 -7.6 0M221.0 182.9a3.8 3.8 0 1 0 7.6 0a3.8 3.8 0 1 0 -7.6 0M221.0 186.3a3.8 3.8 0 1 0 7.6 0a3.8 3.8 0 1 0 -7.6 0M221.0 189.6a3.8 3.8 0 1 0 7.6 0a3.8 3.8 0 1 0 -7.6 0M221.0 192.9a3.8 3.8 0 1 0 7.6 0a3.8 3.8 0 1 0 -7.6 0M221.0 196.2a3.8 3.8 0 1 0 7.6 0a3.8 3.8 0 1 0 -7.6 0M221.0 199.6a3.8 3.8 0 1 0 7.6 0a3.8 3.8 0 1 0 -7.6 0M221.0 202.9a3.8 3.8 0 1 0 7.6 0a3.8 3.8 0 1 0 -7.6 0M221.0 206.2a3.8 3.8 0 1 0 7.6 0a3.8 3.8 0 1 0 -7.6 0M221.0 209.5a3.8 3.8 0 1 0 7.6 0a3.8 3.8 0 1 0 -7.6 0M221.0 212.9a3.8 3.8 0 1 0 7.6 0a3.8 3.8 0 1 0 -7.6 0M221.0 216.2a3.8 3.8 0 1 0 7.6 0a3.8 3.8 0 1 0 -7.6 0M221.0 219.5a3.8 3.8 0 1 0 7.6 0a3.8 3.8 0 1 0 -7.6 0M221.0 222.8a3.8 3.8 0 1 0 7.6 0a3.8 3.8 0 1 0 -7.6 0M221.0 226.2a3.8 3.8 0 1 0 7.6 0a3.8 3.8 0 1 0 -7.6 0M221.0 229.5a3.8 3.8 0 1 0 7.6 0a3.8 3.8 0 1 0 -7.6 0M221.0 232.8a3.8 3.8 0 1 0 7.6 0a3.8 3.8 0 1 0 -7.6 0M221.0 236.2a3.8 3.8 0 1 0 7.6 0a3.8 3.8 0 1 0 -7.6 0M221.0 239.5a3.8 3.8 0 1 0 7.6 0a3.8 3.8 0 1 0 -7.6 0M221.0 242.8a3.8 3.8 0 1 0 7.6 0a3.8 3.8 0 1 0 -7.6 0M221.0 246.1a3.8 3.8 0 1 0 7.6 0a3.8 3.8 0 1 0 -7.6 0M221.0 249.5a3.8 3.8 0 1 0 7.6 0a3.8 3.8 0 1 0 -7.6 0M221.0 252.8a3.8 3.8 0 1 0 7.6 0a3.8 3.8 0 1 0 -7.6 0M221.0 256.1a3.8 3.8 0 1 0 7.6 0a3.8 3.8 0 1 0 -7.6 0M221.0 259.4a3.8 3.8 0 1 0 7.6 0a3.8 3.8 0 1 0 -7.6 0M221.0 262.8a3.8 3.8 0 1 0 7.6 0a3.8 3.8 0 1 0 -7.6 0M221.0 266.1a3.8 3.8 0 1 0 7.6 0a3.8 3.8 0 1 0 -7.6 0M221.0 269.4a3.8 3.8 0 1 0 7.6 0a3.8 3.8 0 1 0 -7.6 0M221.0 272.8a3.8 3.8 0 1 0 7.6 0a3.8 3.8 0 1 0 -7.6 0M221.0 276.1a3.8 3.8 0 1 0 7.6 0a3.8 3.8 0 1 0 -7.6 0M221.0 279.4a3.8 3.8 0 1 0 7.6 0a3.8 3.8 0 1 0 -7.6 0M221.0 282.7a3.8 3.8 0 1 0 7.6 0a3.8 3.8 0 1 0 -7.6 0M221.0 286.1a3.8 3.8 0 1 0 7.6 0a3.8 3.8 0 1 0 -7.6 0M221.0 289.4a3.8 3.8 0 1 0 7.6 0a3.8 3.8 0 1 0 -7.6 0M221.0 292.7a3.8 3.8 0 1 0 7.6 0a3.8 3.8 0 1 0 -7.6 0M221.0 296.0a3.8 3.8 0 1 0 7.6 0a3.8 3.8 0 1 0 -7.6 0M221.0 299.4a3.8 3.8 0 1 0 7.6 0a3.8 3.8 0 1 0 -7.6 0M221.0 302.7a3.8 3.8 0 1 0 7.6 0a3.8 3.8 0 1 0 -7.6 0M221.0 306.0a3.8 3.8 0 1 0 7.6 0a3.8 3.8 0 1 0 -7.6 0M221.0 309.3a3.8 3.8 0 1 0 7.6 0a3.8 3.8 0 1 0 -7.6 0M221.0 312.7a3.8 3.8 0 1 0 7.6 0a3.8 3.8 0 1 0 -7.6 0M221.0 316.0a3.8 3.8 0 1 0 7.6 0a3.8 3.8 0 1 0 -7.6 0M221.0 319.3a3.8 3.8 0 1 0 7.6 0a3.8 3.8 0 1 0 -7.6 0M221.0 322.7a3.8 3.8 0 1 0 7.6 0a3.8 3.8 0 1 0 -7.6 0M221.0 326.0a3.8 3.8 0 1 0 7.6 0a3.8 3.8 0 1 0 -7.6 0M221.0 329.3a3.8 3.8 0 1 0 7.6 0a3.8 3.8 0 1 0 -7.6 0M221.0 332.6a3.8 3.8 0 1 0 7.6 0a3.8 3.8 0 1 0 -7.6 0M221.0 336.0a3.8 3.8 0 1 0 7.6 0a3.8 3.8 0 1 0 -7.6 0M221.0 339.3a3.8 3.8 0 1 0 7.6 0a3.8 3.8 0 1 0 -7.6 0M221.0 342.6a3.8 3.8 0 1 0 7.6 0a3.8 3.8 0 1 0 -7.6 0M221.0 345.9a3.8 3.8 0 1 0 7.6 0a3.8 3.8 0 1 0 -7.6 0M221.0 349.3a3.8 3.8 0 1 0 7.6 0a3.8 3.8 0 1 0 -7.6 0M221.0 352.6a3.8 3.8 0 1 0 7.6 0a3.8 3.8 0 1 0 -7.6 0M221.0 355.9a3.8 3.8 0 1 0 7.6 0a3.8 3.8 0 1 0 -7.6 0M221.0 359.2a3.8 3.8 0 1 0 7.6 0a3.8 3.8 0 1 0 -7.6 0M221.0 362.6a3.8 3.8 0 1 0 7.6 0a3.8 3.8 0 1 0 -7.6 0M221.0 365.9a3.8 3.8 0 1 0 7.6 0a3.8 3.8 0 1 0 -7.6 0M221.0 369.2a3.8 3.8 0 1 0 7.6 0a3.8 3.8 0 1 0 -7.6 0M221.0 372.6a3.8 3.8 0 1 0 7.6 0a3.8 3.8 0 1 0 -7.6 0M221.0 375.9a3.8 3.8 0 1 0 7.6 0a3.8 3.8 0 1 0 -7.6 0M221.0 379.2a3.8 3.8 0 1 0 7.6 0a3.8 3.8 0 1 0 -7.6 0M221.0 382.5a3.8 3.8 0 1 0 7.6 0a3.8 3.8 0 1 0 -7.6 0M221.0 385.9a3.8 3.8 0 1 0 7.6 0a3.8 3.8 0 1 0 -7.6 0M221.0 389.2a3.8 3.8 0 1 0 7.6 0a3.8 3.8 0 1 0 -7.6 0M221.0 392.5a3.8 3.8 0 1 0 7.6 0a3.8 3.8 0 1 0 -7.6 0M221.0 395.8a3.8 3.8 0 1 0 7.6 0a3.8 3.8 0 1 0 -7.6 0M221.0 399.2a3.8 3.8 0 1 0 7.6 0a3.8 3.8 0 1 0 -7.6 0M221.0 402.5a3.8 3.8 0 1 0 7.6 0a3.8 3.8 0 1 0 -7.6 0M221.0 405.8a3.8 3.8 0 1 0 7.6 0a3.8 3.8 0 1 0 -7.6 0M221.0 409.1a3.8 3.8 0 1 0 7.6 0a3.8 3.8 0 1 0 -7.6 0M221.0 412.5a3.8 3.8 0 1 0 7.6 0a3.8 3.8 0 1 0 -7.6 0M221.0 415.8a3.8 3.8 0 1 0 7.6 0a3.8 3.8 0 1 0 -7.6 0"/>
<path fill="url(#g5)" d="M270.1 129.7a3.8 3.8 0 1 0 7.6 0a3.8 3.8 0 1 0 -7.6 0M270.1 133.0a3.8 3.8 0 1 0 7.6 0a3.8 3.8 0 1 0 -7.6 0M270.1 136.4a3.8 3.8 0 1 0 7.6 0a3.8 3.8 0 1 0 -7.6 0M270.1 139.7a3.8 3.8 0 1 0 7.6 0a3.8 3.8 0 1 0 -7.6 0M270.1 143.0a3.8 3.8 0 1 0 7.6 0a3.8 3.8 0 1 0 -7.6 0M270.1 146.3a3.8 3.8 0 1 0 7.6 0a3.8 3.8 0 1 0 -7.6 0M270.1 149.7a3.8 3.8 0 1 0 7.6 0a3.8 3.8 0 1 0 -7.6 0M270.1 153.0a3.8 3.8 0 1 0 7.6 0a3.8 3.8 0 1 0 -7.6 0M270.1 156.3a3.8 3.8 0 1 0 7.6 0a3.8 3.8 0 1 0 -7.6 0M270.1 159.7a3.8 3.8 0 1 0 7.6 0a3.8 3.8 0 1 0 -7.6 0M270.1 163.0a3.8 3.8 0 1 0 7.6 0a3.8 3.8 0 1 0 -7.6 0M270.1 166.3a3.8 3.8 0 1 0 7.6 0a3.8 3.8 0 1 0 -7.6 0M270.1 169.6a3.8 3.8 0 1 0 7.6 0a3.8 3.8 0 1 0 -7.6 0M270.1 173.0a3.8 3.8 0 1 0 7.6 0a3.8 3.8 0 1 0 -7.6 0M270.1 176.3a3.8 3.8 0 1 0 7.6 0a3.8 3.8 0 1 0 -7.6 0M270.1 179.6a3.8 3.8 0 1 0 7.6 0a3.8 3.8 0 1 0 -7.6 0M270.1 182.9a3.8 3.8 0 1 0 7.6 0a3.8 3.8 0 1 0 -7.6 0M270.1 186.3a3.8 3.8 0 1 0 7.6 0a3.8 3.8 0 1 0 -7.6 0M270.1 189.6a3.8 3.8 0 1 0 7.6 0a3.8 3.8 0 1 0 -7.6 0M270.1 192.9a3.8 3.8 0 1 0 7.6 0a3.8 3.8 0 1 0 -7.6 0M270.1 196.3a3.8 3.8 0 1 0 7.6 0a3.8 3.8 0 1 0 -7.6 0M270.1 199.6a3.8 3.8 0 1 0 7.6 0a3.8 3.8 0 1 0 -7.6 0M270.1 202.9a3.8 3.8 0 1 0 7.6 0a3.8 3.8 0 1 0 -7.6 0M270.1 206.2a3.8 3.8 0 1 0 7.6 0a3.8 3.8 0 1 0 -7.6 0M270.1 209.6a3.8 3.8 0 1 0 7.6 0a3.8 3.8 0 1 0 -7.6 0M270.1 212.9a3.8 3.8 0 1 0 7.6 0a3.8 3.8 0 1 0 -7.6 0M270.1 216.2a3.8 3.8 0 1 0 7.6 0a3.8 3.8 0 1 0 -7.6 0M270.1 219.6a3.8 3.8 0 1 0 7.6 0a3.8 3.8 0 1 0 -7.6 0M270.1 222.9a3.8 3.8 0 1 0 7.6 0a3.8 3.8 0 1 0 -7.6 0M270.1 226.2a3.8 3.8 0 1 0 7.6 0a3.8 3.8 0 1 0 -7.6 0M270.1 229.5a3.8 3.8 0 1 0 7.6 0a3.8 3.8 0 1 0 -7.6 0M270.1 232.9a3.8 3.8 0 1 0 7.6 0a3.8 3.8 0 1 0 -7.6 0M270.1 236.2a3.8 3.8 0 1 0 7.6 0a3.8 3.8 0 1 0 -7.6 0M270.1 239.5a3.8 3.8 0 1 0 7.6 0a3.8 3.8 0 1 0 -7.6 0M270.1 242.9a3.8 3.8 0 1 0 7.6 0a3.8 3.8 0 1 0 -7.6 0M270.1 246.2a3.8 3.8 0 1 0 7.6 0a3.8 3.8 0 1 0 -7.6 0M270.1 249.5a3.8 3.8 0 1 0 7.6 0a3.8 3.8 0 1 0 -7.6 0M270.1 252.8a3.8 3.8 0 1 0 7.6 0a3.8 3.8 0 1 0 -7.6 0M270.1 256.2a3.8 3.8 0 1 0 7.6 0a3.8 3.8 0 1 0 -7.6 0M270.1 259.5a3.8 3.8 0 1 0 7.6 0a3.8 3.8 0 1 0 -7.6 0M270.1 262.8a3.8 3.8 0 1 0 7.6 0a3.8 3.8 0 1 0 -7.6 0M270.1 266.2a3.8 3.8 0 1 0 7.6 0a3.8 3.8 0 1 0 -7.6 0M270.1 269.5a3.8 3.8 0 1 0 7.6 0a3.8 3.8 0 1 0 -7.6 0M270.1 272.8a3.8 3.8 0 1 0 7.6 0a3.8 3.8 0 1 0 -7.6 0M270.1 276.1a3.8 3.8 0 1 0 7.6 0a3.8 3.8 0 1 0 -7.6 0M270.1 279.5a3.8 3.8 0 1 0 7.6 0a3.8 3.8 0 1 0 -7.6 0M270.1 282.8a3.8 3.8 0 1 0 7.6 0a3.8 3.8 0 1 0 -7.6 0M270.1 286.1a3.8 3.8 0 1 0 7.6 0a3.8 3.8 0 1 0 -7.6 0M270.1 289.4a3.8 3.8 0 1 0 7.6 0a3.8 3.8 0 1 0 -7.6 0M270.1 292.8a3.8 3.8 0 1 0 7.6 0a3.8 3.8 0 1 0 -7.6 0M270.1 296.1a3.8 3.8 0 1 0 7.6 0a3.8 3.8 0 1 0 -7.6 0M270.1 299.4a3.8 3.8 0 1 0 7.6 0a3.8 3.8 0 1 0 -7.6 0M270.1 302.8a3.8 3.8 0 1 0 7.6 0a3.8 3.8 0 1 0 -7.6 0M270.1 306.1a3.8 3.8 0 1 0 7.6 0a3.8 3.8 0 1 0 -7.6 0M270.1 309.4a3.8 3.8 0 1 0 7.6 0a3.8 3.8 0 1 0 -7.6 0M270.1 312.7a3.8 3.8 0 1 0 7.6 0a3.8 3.8 0 1 0 -7.6 0M270.1 316.1a3.8 3.8 0 1 0 7.6 0a3.8 3.8 0 1 0 -7.6 0M270.1 319.4a3.8 3.8 0 1 0 7.6 0a3.8 3.8 0 1 0 -7.6 0M270.1 322.7a3.8 3.8 0 1 0 7.6 0a3.8 3.8 0 1 0 -7.6 0M270.1 326.1a3.8 3.8 0 1 0 7.6 0a3.8 3.8 0 1 0 -7.6 0M270.1 329.4a3.8 3.8 0 1 0 7.6 0a3.8 3.8 0 1 0 -7.6 0M270.1 332.7a3.8 3.8 0 1 0 7.6 0a3.8 3.8 0 1 0 -7.6 0M270.1 336.0a3.8 3.8 0 1 0 7.6 0a3.8 3.8 0 1 0 -7.6 0M270.1 339.4a3.8 3.8 0 1 0 7.6 0a3.8 3.8 0 1 0 -7.6 0M270.1 342.7a3.8 3.8 0 1 0 7.6 0a3.8 3.8 0 1 0 -7.6 0M270.1 346.0a3.8 3.8 0 1 0 7.6 0a3.8 3.8 0 1 0 -7.6 0M270.1 349.4a3.8 3.8 0 1 0 7.6 0a3.8 3.8 0 1 0 -7.6 0M270.1 352.7a3.8 3.8 0 1 0 7.6 0a3.8 3.8 0 1 0 -7.6 0M270.1 356.0a3.8 3.8 0 1 0 7.6 0a3.8 3.8 0 1 0 -7.6 0M270.1 359.3a3.8 3.8 0 1 0 7.6 0a3.8 3.8 0 1 0 -7.6 0M270.1 362.7a3.8 3.8 0 1 0 7.6 0a3.8 3.8 0 1 0 -7.6 0M270.1 366.0a3.8 3.8 0 1 0 7.6 0a3.8 3.8 0 1 0 -7.6 0M270.1 369.3a3.8 3.8 0 1 0 7.6 0a3.8 3.8 0 1 0 -7.6 0M270.1 372.7a3.8 3.8 0 1 0 7.6 0a3.8 3.8 0 1 0 -7.6 0M270.1 376.0a3.8 3.8 0 1 0 7.6 0a3.8 3.8 0 1 0 -7.6 0M270.1 379.3a3.8 3.8 0 1 0 7.6 0a3.8 3.8 0 1 0 -7.6 0M270.1 382.6a3.8 3.8 0 1 0 7.6 0a3.8 3.8 0 1 0 -7.6 0M270.1 386.0a3.8 3.8 0 1 0 7.6 0a3.8 3.8 0 1 0 -7.6 0M270.1 389.3a3.8 3.8 0 1 0 7.6 0a3.8 3.8 0 1 0 -7.6 0M270.1 392.6a3.8 3.8 0 1 0 7.6 0a3.8 3.8 0 1 0 -7.6 0M270.1 395.9a3.8 3.8 0 1 0 7.6 0a3.8 3.8 0 1 0 -7.6 0M270.1 399.3a3.8 3.8 0 1 0 7.6 0a3.8 3.8 0 1 0 -7.6 0M270.1 402.6a3.8 3.8 0 1 0 7.6 0a3.8 3.8 0 1 0 -7.6 0M270.1 405.9a3.8 3.8 0 1 0 7.6 0a3.8 3.8 0 1 0 -7.6 0M270.1 409.3a3.8 3.8 0 1 0 7.6 0a3.8 3.8 0 1 0 -7.6 0M270.1 412.6a3.8 3.8 0 1 0 7.6 0a3.8 3.8 0 1 0 -7.6 0M270.1 415.9a3.8 3.8 0 1 0 7.6 0a3.8 3.8 0 1 0 -7.6 0M270.1 419.2a3.8 3.8 0 1 0 7.6 0a3.8 3.8 0 1 0 -7.6 0M270.1 422.6a3.8 3.8 0 1 0 7.6 0a3.8 3.8 0 1 0 -7.6 0M270.1 425.9a3.8 3.8 0 1 0 7.6 0a3.8 3.8 0 1 0 -7.6 0"/>
<path fill="url(#g6)" d="M319.1 129.7a3.8 3.8 0 1 0 7.6 0a3.8 3.8 0 1 0 -7.6 0M319.1 133.0a3.8 3.8 0 1 0 7.6 0a3.8 3.8 0 1 0 -7.6 0M319.1 136.4a3.8 3.8 0 1 0 7.6 0a3.8 3.8 0 1 0 -7.6 0M319.1 139.7a3.8 3.8 0 1 0 7.6 0a3.8 3.8 0 1 0 -7.6 0M319.1 143.0a3.8 3.8 0 1 0 7.6 0a3.8 3.8 0 1 0 -7.6 0M319.1 146.3a3.8 3.8 0 1 0 7.6 0a3.8 3.8 0 1 0 -7.6 0M319.1 149.7a3.8 3.8 0 1 0 7.6 0a3.8 3.8 0 1 0 -7.6 0M319.1 153.0a3.8 3.8 0 1 0 7.6 0a3.8 3.8 0 1 0 -7.6 0M319.1 156.3a3.8 3.8 0 1 0 7.6 0a3.8 3.8 0 1 0 -7.6 0M319.1 159.7a3.8 3.8 0 1 0 7.6 0a3.8 3.8 0 1 0 -7.6 0M319.1 163.0a3.8 3.8 0 1 0 7.6 0a3.8 3.8 0 1 0 -7.6 0M319.1 166.3a3.8 3.8 0 1 0 7.6 0a3.8 3.8 0 1 0 -7.6 0M319.1 169.6a3.8 3.8 0 1 0 7.6 0a3.8 3.8 0 1 0 -7.6 0M319.1 173.0a3.8 3.8 0 1 0 7.6 0a3.8 3.8 0 1 0 -7.6 0M319.1 176.3a3.8 3.8 0 1 0 7.6 0a3.8 3.8 0 1 0 -7.6 0M319.1 179.6a3.8 3.8 0 1 0 7.6 0a3.8 3.8 0 1 0 -7.6 0M319.1 183.0a3.8 3.8 0 1 0 7.6 0a3.8 3.8 0 1 0 -7.6 0M319.1 186.3a3.8 3.8 0 1 0 7.6 0a3.8 3.8 0 1 0 -7.6 0M319.1 189.6a3.8 3.8 0 1 0 7.6 0a3.8 3.8 0 1 0 -7.6 0M319.1 192.9a3.8 3.8 0 1 0 7.6 0a3.8 3.8 0 1 0 -7.6 0M319.1 196.3a3.8 3.8 0 1 0 7.6 0a3.8 3.8 0 1 0 -7.6 0M319.1 199.6a3.8 3.8 0 1 0 7.6 0a3.8 3.8 0 1 0 -7.6 0M319.1 202.9a3.8 3.8 0 1 0 7.6 0a3.8 3.8 0 1 0 -7.6 0M319.1 206.3a3.8 3.8 0 1 0 7.6 0a3.8 3.8 0 1 0 -7.6 0M319.1 209.6a3.8 3.8 0 1 0 7.6 0a3.8 3.8 0 1 0 -7.6 0M319.1 212.9a3.8 3.8 0 1 0 7.6 0a3.8 3.8 0 1 0 -7.6 0M319.1 216.2a3.8 3.8 0 1 0 7.6 0a3.8 3.8 0 1 0 -7.6 0M319.1 219.6a3.8 3.8 0 1 0 7.6 0a3.8 3.8 0 1 0 -7.6 0M319.1 222.9a3.8 3.8 0 1 0 7.6 0a3.8 3.8 0 1 0 -7.6 0M319.1 226.2a3.8 3.8 0 1 0 7.6 0a3.8 3.8 0 1 0 -7.6 0M319.1 229.6a3.8 3.8 0 1 0 7.6 0a3.8 3.8 0 1 0 -7.6 0M319.1 232.9a3.8 3.8 0 1 0 7.6 0a3.8 3.8 0 1 0 -7.6 0M319.1 236.2a3.8 3.8 0 1 0 7.6 0a3.8 3.8 0 1 0 -7.6 0M319.1 239.5a3.8 3.8 0 1 0 7.6 0a3.8 3.8 0 1 0 -7.6 0M319.1 242.9a3.8 3.8 0 1 0 7.6 0a3.8 3.8 0 1 0 -7.6 0M319.1 246.2a3.8 3.8 0 1 0 7.6 0a3.8 3.8 0 1 0 -7.6 0M319.1 249.5a3.8 3.8 0 1 0 7.6 0a3.8 3.8 0 1 0 -7.6 0M319.1 252.9a3.8 3.8 0 1 0 7.6 0a3.8 3.8 0 1 0 -7.6 0M319.1 256.2a3.8 3.8 0 1 0 7.6 0a3.8 3.8 0 1 0 -7.6 0M319.1 259.5a3.8 3.8 0 1 0 7.6 0a3.8 3.8 0 1 0 -7.6 0M319.1 262.8a3.8 3.8 0 1 0 7.6 0a3.8 3.8 0 1 0 -7.6 0M319.1 266.2a3.8 3.8 0 1 0 7.6 0a3.8 3.8 0 1 0 -7.6 0M319.1 269.5a3.8 3.8 0 1 0 7.6 0a3.8 3.8 0 1 0 -7.6 0M319.1 272.8a3.8 3.8 0 1 0 7.6 0a3.8 3.8 0 1 0 -7.6 0M319.1 276.2a3.8 3.8 0 1 0 7.6 0a3.8 3.8 0 1 0 -7.6 0M319.1 279.5a3.8 3.8 0 1 0 7.6 0a3.8 3.8 0 1 0 -7.6 0M319.1 282.8a3.8 3.8 0 1 0 7.6 0a3.8 3.8 0 1 0 -7.6 0M319.1 286.1a3.8 3.8 0 1 0 7.6 0a3.8 3.8 0 1 0 -7.6 0M319.1 289.5a3.8 3.8 0 1 0 7.6 0a3.8 3.8 0 1 0 -7.6 0M319.1 292.8a3.8 3.8 0 1 0 7.6 0a3.8 3.8 0 1 0 -7.6 0M319.1 296.1a3.8 3.8 0 1 0 7.6 0a3.8 3.8 0 1 0 -7.6 0M319.1 299.5a3.8 3.8 0 1 0 7.6 0a3.8 3.8 0 1 0 -7.6 0M319.1 302.8a3.8 3.8 0 1 0 7.6 0a3.8 3.8 0 1 0 -7.6 0M319.1 306.1a3.8 3.8 0 1 0 7.6 0a3.8 3.8 0 1 0 -7.6 0M319.1 309.4a3.8 3.8 0 1 0 7.6 0a3.8 3.8 0 1 0 -7.6 0M319.1 312.8a3.8 3.8 0 1 0 7.6 0a3.8 3.8 0 1 0 -7.6 0M319.1 316.1a3.8 3.8 0 1 0 7.6 0a3.8 3.8 0 1 0 -7.6 0M319.1 319.4a3.8 3.8 0 1 0 7.6 0a3.8 3.8 0 1 0 -7.6 0M319.1 322.8a3.8 3.8 0 1 0 7.6 0a3.8 3.8 0 1 0 -7.6 0M319.1 326.1a3.8 3.8 0 1 0 7.6 0a3.8 3.8 0 1 0 -7.6 0M319.1 329.4a3.8 3.8 0 1 0 7.6 0a3.8 3.8 0 1 0 -7.6 0M319.1 332.7a3.8 3.8 0 1 0 7.6 0a3.8 3.8 0 1 0 -7.6 0M319.1 336.1a3.8 3.8 0 1 0 7.6 0a3.8 3.8 0 1 0 -7.6 0M319.1 339.4a3.8 3.8 0 1 0 7.6 0a3.8 3.8 0 1 0 -7.6 0M319.1 342.7a3.8 3.8 0 1 0 7.6 0a3.8 3.8 0 1 0 -7.6 0M319.1 346.1a3.8 3.8 0 1 0 7.6 0a3.8 3.8 0 1 0 -7.6 0M319.1 349.4a3.8 3.8 0 1 0 7.6 0a3.8 3.8 0 1 0 -7.6 0M319.1 352.7a3.8 3.8 0 1 0 7.6 0a3.8 3.8 0 1 0 -7.6 0M319.1 356.0a3.8 3.8 0 1 0 7.6 0a3.8 3.8 0 1 0 -7.6 0M319.1 359.4a3.8 3.8 0 1 0 7.6 0a3.8 3.8 0 1 0 -7.6 0M319.1 362.7a3.8 3.8 0 1 0 7.6 0a3.8 3.8 0 1 0 -7.6 0M319.1 366.0a3.8 3.8 0 1 0 7.6 0a3.8 3.8 0 1 0 -7.6 0M319.1 369.4a3.8 3.8 0 1 0 7.6 0a3.8 3.8 0 1 0 -7.6 0M319.1 372.7a3.8 3.8 0 1 0 7.6 0a3.8 3.8 0 1 0 -7.6 0M319.1 376.0a3.8 3.8 0 1 0 7.6 0a3.8 3.8 0 1 0 -7.6 0M319.1 379.3a3.8 3.8 0 1 0 7.6 0a3.8 3.8 0 1 0 -7.6 0M319.1 382.7a3.8 3.8 0 1 0 7.6 0a3.8 3.8 0 1 0 -7.6 0M319.1 386.0a3.8 3.8 0 1 0 7.6 0a3.8 3.8 0 1 0 -7.6 0M319.1 389.3a3.8 3.8 0 1 0 7.6 0a3.8 3.8 0 1 0 -7.6 0M319.1 392.7a3.8 3.8 0 1 0 7.6 0a3.8 3.8 0 1 0 -7.6 0M319.1 396.0a3.8 3.8 0 1 0 7.6 0a3.8 3.8 0 1 0 -7.6 0M319.1 399.3a3.8 3.8 0 1 0 7.6 0a3.8 3.8 0 1 0 -7.6 0M319.1 402.6a3.8 3.8 0 1 0 7.6 0a3.8 3.8 0 1 0 -7.6 0M319.1 406.0a3.8 3.8 0 1 0 7.6 0a3.8 3.8 0 1 0 -7.6 0M319.1 409.3a3.8 3.8 0 1 0 7.6 0a3.8 3.8 0 1 0 -7.6 0M319.1 412.6a3.8 3.8 0 1 0 7.6 0a3.8 3.8 0 1 0 -7.6 0M319.1 416.0a3.8 3.8 0 1 0 7.6 0a3.8 3.8 0 1 0 -7.6 0M319.1 419.3a3.8 3.8 0 1 0 7.6 0a3.8 3.8 0 1 0 -7.6 0M319.1 422.6a3.8 3.8 0 1 0 7.6 0a3.8 3.8 0 1 0 -7.6 0M319.1 425.9a3.8 3.8 0 1 0 7.6 0a3.8 3.8 0 1 0 -7.6 0M319.1 429.3a3.8 3.8 0 1 0 7.6 0a3.8 3.8 0 1 0 -7.6 0M319.1 432.6a3.8 3.8 0 1 0 7.6 0a3.8 3.8 0 1 0 -7.6 0"/>
<path fill="url(#g7)" d="M368.2 129.7a3.8 3.8 0 1 0 7.6 0a3.8 3.8 0 1 0 -7.6 0M368.2 133.0a3.8 3.8 0 1 0 7.6 0a3.8 3.8 0 1 0 -7.6 0M368.2 136.4a3.8 3.8 0 1 0 7.6 0a3.8 3.8 0 1 0 -7.6 0M368.2 139.7a3.8 3.8 0 1 0 7.6 0a3.8 3.8 0 1 0 -7.6 0M368.2 143.0a3.8 3.8 0 1 0 7.6 0a3.8 3.8 0 1 0 -7.6 0M368.2 146.3a3.8 3.8 0 1 0 7.6 0a3.8 3.8 0 1 0 -7.6 0M368.2 149.7a3.8 3.8 0 1 0 7.6 0a3.8 3.8 0 1 0 -7.6 0M368.2 153.0a3.8 3.8 0 1 0 7.6 0a3.8 3.8 0 1 0 -7.6 0M368.2 156.3a3.8 3.8 0 1 0 7.6 0a3.8 3.8 0 1 0 -7.6 0M368.2 159.7a3.8 3.8 0 1 0 7.6 0a3.8 3.8 0 1 0 -7.6 0M368.2 163.0a3.8 3.8 0 1 0 7.6 0a3.8 3.8 0 1 0 -7.6 0M368.2 166.3a3.8 3.8 0 1 0 7.6 0a3.8 3.8 0 1 0 -7.6 0M368.2 169.6a3.8 3.8 0 1 0 7.6 0a3.8 3.8 0 1 0 -7.6 0M368.2 173.0a3.8 3.8 0 1 0 7.6 0a3.8 3.8 0 1 0 -7.6 0M368.2 176.3a3.8 3.8 0 1 0 7.6 0a3.8 3.8 0 1 0 -7.6 0M368.2 179.6a3.8 3.8 0 1 0 7.6 0a3.8 3.8 0 1 0 -7.6 0M368.2 183.0a3.8 3.8 0 1 0 7.6 0a3.8 3.8 0 1 0 -7.6 0M368.2 186.3a3.8 3.8 0 1 0 7.6 0a3.8 3.8 0 1 0 -7.6 0M368.2 189.6a3.8 3.8 0 1 0 7.6 0a3.8 3.8 0 1 0 -7.6 0M368.2 192.9a3.8 3.8 0 1 0 7.6 0a3.8 3.8 0 1 0 -7.6 0M368.2 196.3a3.8 3.8 0 1 0 7.6 0a3.8 3.8 0 1 0 -7.6 0M368.2 199.6a3.8 3.8 0 1 0 7.6 0a3.8 3.8 0 1 0 -7.6 0M368.2 202.9a3.8 3.8 0 1 0 7.6 0a3.8 3.8 0 1 0 -7.6 0M368.2 206.3a3.8 3.8 0 1 0 7.6 0a3.8 3.8 0 1 0 -7.6 0M368.2 209.6a3.8 3.8 0 1 0 7.6 0a3.8 3.8 0 1 0 -7.6 0M368.2 212.9a3.8 3.8 0 1 0 7.6 0a3.8 3.8 0 1 0 -7.6 0M368.2 216.2a3.8 3.8 0 1 0 7.6 0a3.8 3.8 0 1 0 -7.6 0M368.2 219.6a3.8 3.8 0 1 0 7.6 0a3.8 3.8 0 1 0 -7.6 0M368.2 222.9a3.8 3.8 0 1 0 7.6 0a3.8 3.8 0 1 0 -7.6 0M368.2 226.2a3.8 3.8 0 1 0 7.6 0a3.8 3.8 0 1 0 -7.6 0M368.2 229.6a3.8 3.8 0 1 0 7.6 0a3.8 3.8 0 1 0 -7.6 0M368.2 232.9a3.8 3.8 0 1 0 7.6 0a3.8 3.8 0 1 0 -7.6 0M368.2 236.2a3.8 3.8 0 1 0 7.6 0a3.8 3.8 0 1 0 -7.6 0M368.2 239.5a3.8 3.8 0 1 0 7.6 0a3.8 3.8 0 1 0 -7.6 0M368.2 242.9a3.8 3.8 0 1 0 7.6 0a3.8 3.8 0 1 0 -7.6 0M368.2 246.2a3.8 3.8 0 1 0 7.6 0a3.8 3.8 0 1 0 -7.6 0M368.2 249.5a3.8 3.8 0 1 0 7.6 0a3.8 3.8 0 1 0 -7.6 0M368.2 252.9a3.8 3.8 0 1 0 7.6 0a3.8 3.8 0 1 0 -7.6 0M368.2 256.2a3.8 3.8 0 1 0 7.6 0a3.8 3.8 0 1 0 -7.6 0M368.2 259.5a3.8 3.8 0 1 0 7.6 0a3.8 3.8 0 1 0 -7.6 0M368.2 262.8a3.8 3.8 0 1 0 7.6 0a3.8 3.8 0 1 0 -7.6 0M368.2 266.2a3.8 3.8 0 1 0 7.6 0a3.8 3.8 0 1 0 -7.6 0M368.2 269.5a3.8 3.8 0 1 0 7.6 0a3.8 3.8 0 1 0 -7.6 0M368.2 272.8a3.8 3.8 0 1 0 7.6 0a3.8 3.8 0 1 0 -7.6 0M368.2 276.2a3.8 3.8 0 1 0 7.6 0a3.8 3.8 0 1 0 -7.6 0M368.2 279.5a3.8 3.8 0 1 0 7.6 0a3.8 3.8 0 1 0 -7.6 0M368.2 282.8a3.8 3.8 0 1 0 7.6 0a3.8 3.8 0 1 0 -7.6 0M368.2 286.1a3.8 3.8 0 1 0 7.6 0a3.8 3.8 0 1 0 -7.6 0M368.2 289.5a3.8 3.8 0 1 0 7.6 0a3.8 3.8 0 1 0 -7.6 0M368.2 292.8a3.8 3.8 0 1 0 7.6 0a3.8 3.8 0 1 0 -7.6 0M368.2 296.1a3.8 3.8 0 1 0 7.6 0a3.8 3.8 0 1 0 -7.6 0M368.2 299.5a3.8 3.8 0 1 0 7.6 0a3.8 3.8 0 1 0 -7.6 0M368.2 302.8a3.8 3.8 0 1 0 7.6 0a3.8 3.8 0 1 0 -7.6 0M368.2 306.1a3.8 3.8 0 1 0 7.6 0a3.8 3.8 0 1 0 -7.6 0M368.2 309.4a3.8 3.8 0 1 0 7.6 0a3.8 3.8 0 1 0 -7.6 0M368.2 312.8a3.8 3.8 0 1 0 7.6 0a3.8 3.8 0 1 0 -7.6 0M368.2 316.1a3.8 3.8 0 1 0 7.6 0a3.8 3.8 0 1 0 -7.6 0M368.2 319.4a3.8 3.8 0 1 0 7.6 0a3.8 3.8 0 1 0 -7.6 0M368.2 322.8a3.8 3.8 0 1 0 7.6 0a3.8 3.8 0 1 0 -7.6 0M368.2 326.1a3.8 3.8 0 1 0 7.6 0a3.8 3.8 0 1 0 -7.6 0M368.2 329.4a3.8 3.8 0 1 0 7.6 0a3.8 3.8 0 1 0 -7.6 0M368.2 332.7a3.8 3.8 0 1 0 7.6 0a3.8 3.8 0 1 0 -7.6 0M368.2 336.1a3.8 3.8 0 1 0 7.6 0a3.8 3.8 0 1 0 -7.6 0M368.2 339.4a3.8 3.8 0 1 0 7.6 0a3.8 3.8 0 1 0 -7.6 0M368.2 342.7a3.8 3.8 0 1 0 7.6 0a3.8 3.8 0 1 0 -7.6 0M368.2 346.1a3.8 3.8 0 1 0 7.6 0a3.8 3.8 0 1 0 -7.6 0M368.2 349.4a3.8 3.8 0 1 0 7.6 0a3.8 3.8 0 1 0 -7.6 0M368.2 352.7a3.8 3.8 0 1 0 7.6 0a3.8 3.8 0 1 0 -7.6 0M368.2 356.0a3.8 3.8 0 1 0 7.6 0a3.8 3.8 0 1 0 -7.6 0M368.2 359.4a3.8 3.8 0 1 0 7.6 0a3.8 3.8 0 1 0 -7.6 0M368.2 362.7a3.8 3.8 0 1 0 7.6 0a3.8 3.8 0 1 0 -7.6 0M368.2 366.0a3.8 3.8 0 1 0 7.6 0a3.8 3.8 0 1 0 -7.6 0M368.2 369.4a3.8 3.8 0 1 0 7.6 0a3.8 3.8 0 1 0 -7.6 0M368.2 372.7a3.8 3.8 0 1 0 7.6 0a3.8 3.8 0 1 0 -7.6 0M368.2 376.0a3.8 3.8 0 1 0 7.6 0a3.8 3.8 0 1 0 -7.6 0M368.2 379.3a3.8 3.8 0 1 0 7.6 0a3.8 3.8 0 1 0 -7.6 0M368.2 382.7a3.8 3.8 0 1 0 7.6 0a3.8 3.8 0 1 0 -7.6 0M368.2 386.0a3.8 3.8 0 1 0 7.6 0a3.8 3.8 0 1 0 -7.6 0M368.2 389.3a3.8 3.8 0 1 0 7.6 0a3.8 3.8 0 1 0 -7.6 0M368.2 392.7a3.8 3.8 0 1 0 7.6 0a3.8 3.8 0 1 0 -7.6 0M368.2 396.0a3.8 3.8 0 1 0 7.6 0a3.8 3.8 0 1 0 -7.6 0M368.2 399.3a3.8 3.8 0 1 0 7.6 0a3.8 3.8 0 1 0 -7.6 0M368.2 402.6a3.8 3.8 0 1 0 7.6 0a3.8 3.8 0 1 0 -7.6 0M368.2 406.0a3.8 3.8 0 1 0 7.6 0a3.8 3.8 0 1 0 -7.6 0M368.2 409.3a3.8 3.8 0 1 0 7.6 0a3.8 3.8 0 1 0 -7.6 0M368.2 412.6a3.8 3.8 0 1 0 7.6 0a3.8 3.8 0 1 0 -7.6 0M368.2 416.0a3.8 3.8 0 1 0 7.6 0a3.8 3.8 0 1 0 -7.6 0M368.2 419.3a3.8 3.8 0 1 0 7.6 0a3.8 3.8 0 1 0 -7.6 0M368.2 422.6a3.8 3.8 0 1 0 7.6 0a3.8 3.8 0 1 0 -7.6 0M368.2 425.9a3.8 3.8 0 1 0 7.6 0a3.8 3.8 0 1 0 -7.6 0M368.2 429.3a3.8 3.8 0 1 0 7.6 0a3.8 3.8 0 1 0 -7.6 0M368.2 432.6a3.8 3.8 0 1 0 7.6 0a3.8 3.8 0 1 0 -7.6 0"/>
<path fill="url(#g8)" d="M418.1 129.7a3.8 3.8 0 1 0 7.6 0a3.8 3.8 0 1 0 -7.6 0M418.1 133.0a3.8 3.8 0 1 0 7.6 0a3.8 3.8 0 1 0 -7.6 0M418.1 136.4a3.8 3.8 0 1 0 7.6 0a3.8 3.8 0 1 0 -7.6 0M418.1 139.7a3.8 3.8 0 1 0 7.6 0a3.8 3.8 0 1 0 -7.6 0M418.1 143.0a3.8 3.8 0 1 0 7.6 0a3.8 3.8 0 1 0 -7.6 0M418.1 146.3a3.8 3.8 0 1 0 7.6 0a3.8 3.8 0 1 0 -7.6 0M418.1 149.7a3.8 3.8 0 1 0 7.6 0a3.8 3.8 0 1 0 -7.6 0M418.1 153.0a3.8 3.8 0 1 0 7.6 0a3.8 3.8 0 1 0 -7.6 0M418.1 156.3a3.8 3.8 0 1 0 7.6 0a3.8 3.8 0 1 0 -7.6 0M418.1 159.6a3.8 3.8 0 1 0 7.6 0a3.8 3.8 0 1 0 -7.6 0M418.1 163.0a3.8 3.8 0 1 0 7.6 0a3.8 3.8 0 1 0 -7.6 0M418.1 166.3a3.8 3.8 0 1 0 7.6 0a3.8 3.8 0 1 0 -7.6 0M418.1 169.6a3.8 3.8 0 1 0 7.6 0a3.8 3.8 0 1 0 -7.6 0M418.1 172.9a3.8 3.8 0 1 0 7.6 0a3.8 3.8 0 1 0 -7.6 0M418.1 176.3a3.8 3.8 0 1 0 7.6 0a3.8 3.8 0 1 0 -7.6 0M418.1 179.6a3.8 3.8 0 1 0 7.6 0a3.8 3.8 0 1 0 -7.6 0M418.1 182.9a3.8 3.8 0 1 0 7.6 0a3.8 3.8 0 1 0 -7.6 0M418.1 186.3a3.8 3.8 0 1 0 7.6 0a3.8 3.8 0 1 0 -7.6 0M418.1 189.6a3.8 3.8 0 1 0 7.6 0a3.8 3.8 0 1 0 -7.6 0M418.1 192.9a3.8 3.8 0 1 0 7.6 0a3.8 3.8 0 1 0 -7.6 0M418.1 196.2a3.8 3.8 0 1 0 7.6 0a3.8 3.8 0 1 0 -7.6 0M418.1 199.6a3.8 3.8 0 1 0 7.6 0a3.8 3.8 0 1 0 -7.6 0M418.1 202.9a3.8 3.8 0 1 0 7.6 0a3.8 3.8 0 1 0 -7.6 0M418.1 206.2a3.8 3.8 0 1 0 7.6 0a3.8 3.8 0 1 0 -7.6 0M418.1 209.5a3.8 3.8 0 1 0 7.6 0a3.8 3.8 0 1 0 -7.6 0M418.1 212.9a3.8 3.8 0 1 0 7.6 0a3.8 3.8 0 1 0 -7.6 0M418.1 216.2a3.8 3.8 0 1 0 7.6 0a3.8 3.8 0 1 0 -7.6 0M418.1 219.5a3.8 3.8 0 1 0 7.6 0a3.8 3.8 0 1 0 -7.6 0M418.1 222.8a3.8 3.8 0 1 0 7.6 0a3.8 3.8 0 1 0 -7.6 0M418.1 226.2a3.8 3.8 0 1 0 7.6 0a3.8 3.8 0 1 0 -7.6 0M418.1 229.5a3.8 3.8 0 1 0 7.6 0a3.8 3.8 0 1 0 -7.6 0M418.1 232.8a3.8 3.8 0 1 0 7.6 0a3.8 3.8 0 1 0 -7.6 0M418.1 236.2a3.8 3.8 0 1 0 7.6 0a3.8 3.8 0 1 0 -7.6 0M418.1 239.5a3.8 3.8 0 1 0 7.6 0a3.8 3.8 0 1 0 -7.6 0M418.1 242.8a3.8 3.8 0 1 0 7.6 0a3.8 3.8 0 1 0 -7.6 0M418.1 246.1a3.8 3.8 0 1 0 7.6 0a3.8 3.8 0 1 0 -7.6 0M418.1 249.5a3.8 3.8 0 1 0 7.6 0a3.8 3.8 0 1 0 -7.6 0M418.1 252.8a3.8 3.8 0 1 0 7.6 0a3.8 3.8 0 1 0 -7.6 0M418.1 256.1a3.8 3.8 0 1 0 7.6 0a3.8 3.8 0 1 0 -7.6 0M418.1 259.4a3.8 3.8 0 1 0 7.6 0a3.8 3.8 0 1 0 -7.6 0M418.1 262.8a3.8 3.8 0 1 0 7.6 0a3.8 3.8 0 1 0 -7.6 0M418.1 266.1a3.8 3.8 0 1 0 7.6 0a3.8 3.8 0 1 0 -7.6 0M418.1 269.4a3.8 3.8 0 1 0 7.6 0a3.8 3.8 0 1 0 -7.6 0M418.1 272.8a3.8 3.8 0 1 0 7.6 0a3.8 3.8 0 1 0 -7.6 0M418.1 276.1a3.8 3.8 0 1 0 7.6 0a3.8 3.8 0 1 0 -7.6 0M418.1 279.4a3.8 3.8 0 1 0 7.6 0a3.8 3.8 0 1 0 -7.6 0M418.1 282.7a3.8 3.8 0 1 0 7.6 0a3.8 3.8 0 1 0 -7.6 0M418.1 286.1a3.8 3.8 0 1 0 7.6 0a3.8 3.8 0 1 0 -7.6 0M418.1 289.4a3.8 3.8 0 1 0 7.6 0a3.8 3.8 0 1 0 -7.6 0M418.1 292.7a3.8 3.8 0 1 0 7.6 0a3.8 3.8 0 1 0 -7.6 0M418.1 296.0a3.8 3.8 0 1 0 7.6 0a3.8 3.8 0 1 0 -7.6 0M418.1 299.4a3.8 3.8 0 1 0 7.6 0a3.8 3.8 0 1 0 -7.6 0M418.1 302.7a3.8 3.8 0 1 0 7.6 0a3.8 3.8 0 1 0 -7.6 0M418.1 306.0a3.8 3.8 0 1 0 7.6 0a3.8 3.8 0 1 0 -7.6 0M418.1 309.3a3.8 3.8 0 1 0 7.6 0a3.8 3.8 0 1 0 -7.6 0M418.1 312.7a3.8 3.8 0 1 0 7.6 0a3.8 3.8 0 1 0 -7.6 0M418.1 316.0a3.8 3.8 0 1 0 7.6 0a3.8 3.8 0 1 0 -7.6 0M418.1 319.3a3.8 3.8 0 1 0 7.6 0a3.8 3.8 0 1 0 -7.6 0M418.1 322.7a3.8 3.8 0 1 0 7.6 0a3.8 3.8 0 1 0 -7.6 0M418.1 326.0a3.8 3.8 0 1 0 7.6 0a3.8 3.8 0 1 0 -7.6 0M418.1 329.3a3.8 3.8 0 1 0 7.6 0a3.8 3.8 0 1 0 -7.6 0M418.1 332.6a3.8 3.8 0 1 0 7.6 0a3.8 3.8 0 1 0 -7.6 0M418.1 336.0a3.8 3.8 0 1 0 7.6 0a3.8 3.8 0 1 0 -7.6 0M418.1 339.3a3.8 3.8 0 1 0 7.6 0a3.8 3.8 0 1 0 -7.6 0M418.1 342.6a3.8 3.8 0 1 0 7.6 0a3.8 3.8 0 1 0 -7.6 0M418.1 345.9a3.8 3.8 0 1 0 7.6 0a3.8 3.8 0 1 0 -7.6 0M418.1 349.3a3.8 3.8 0 1 0 7.6 0a3.8 3.8 0 1 0 -7.6 0M418.1 352.6a3.8 3.8 0 1 0 7.6 0a3.8 3.8 0 1 0 -7.6 0M418.1 355.9a3.8 3.8 0 1 0 7.6 0a3.8 3.8 0 1 0 -7.6 0M418.1 359.2a3.8 3.8 0 1 0 7.6 0a3.8 3.8 0 1 0 -7.6 0M418.1 362.6a3.8 3.8 0 1 0 7.6 0a3.8 3.8 0 1 0 -7.6 0M418.1 365.9a3.8 3.8 0 1 0 7.6 0a3.8 3.8 0 1 0 -7.6 0M418.1 369.2a3.8 3.8 0 1 0 7.6 0a3.8 3.8 0 1 0 -7.6 0M418.1 372.6a3.8 3.8 0 1 0 7.6 0a3.8 3.8 0 1 0 -7.6 0M418.1 375.9a3.8 3.8 0 1 0 7.6 0a3.8 3.8 0 1 0 -7.6 0M418.1 379.2a3.8 3.8 0 1 0 7.6 0a3.8 3.8 0 1 0 -7.6 0M418.1 382.5a3.8 3.8 0 1 0 7.6 0a3.8 3.8 0 1 0 -7.6 0M418.1 385.9a3.8 3.8 0 1 0 7.6 0a3.8 3.8 0 1 0 -7.6 0M418.1 389.2a3.8 3.8 0 1 0 7.6 0a3.8 3.8 0 1 0 -7.6 0M418.1 392.5a3.8 3.8 0 1 0 7.6 0a3.8 3.8 0 1 0 -7.6 0M418.1 395.8a3.8 3.8 0 1 0 7.6 0a3.8 3.8 0 1 0 -7.6 0M418.1 399.2a3.8 3.8 0 1 0 7.6 0a3.8 3.8 0 1 0 -7.6 0M418.1 402.5a3.8 3.8 0 1 0 7.6 0a3.8 3.8 0 1 0 -7.6 0M418.1 405.8a3.8 3.8 0 1 0 7.6 0a3.8 3.8 0 1 0 -7.6 0M418.1 409.1a3.8 3.8 0 1 0 7.6 0a3.8 3.8 0 1 0 -7.6 0M418.1 412.5a3.8 3.8 0 1 0 7.6 0a3.8 3.8 0 1 0 -7.6 0M418.1 415.8a3.8 3.8 0 1 0 7.6 0a3.8 3.8 0 1 0 -7.6 0"/>
<path fill="url(#g9)" d="M516.7 129.7a3.8 3.8 0 1 0 7.6 0a3.8 3.8 0 1 0 -7.6 0M516.7 133.0a3.8 3.8 0 1 0 7.6 0a3.8 3.8 0 1 0 -7.6 0M516.7 136.4a3.8 3.8 0 1 0 7.6 0a3.8 3.8 0 1 0 -7.6 0M516.7 139.7a3.8 3.8 0 1 0 7.6 0a3.8 3.8 0 1 0 -7.6 0M516.7 143.0a3.8 3.8 0 1 0 7.6 0a3.8 3.8 0 1 0 -7.6 0M516.7 146.4a3.8 3.8 0 1 0 7.6 0a3.8 3.8 0 1 0 -7.6 0M516.7 149.7a3.8 3.8 0 1 0 7.6 0a3.8 3.8 0 1 0 -7.6 0M516.7 153.0a3.8 3.8 0 1 0 7.6 0a3.8 3.8 0 1 0 -7.6 0M516.7 156.4a3.8 3.8 0 1 0 7.6 0a3.8 3.8 0 1 0 -7.6 0M516.7 159.7a3.8 3.8 0 1 0 7.6 0a3.8 3.8 0 1 0 -7.6 0M516.7 163.0a3.8 3.8 0 1 0 7.6 0a3.8 3.8 0 1 0 -7.6 0M516.7 166.4a3.8 3.8 0 1 0 7.6 0a3.8 3.8 0 1 0 -7.6 0M516.7 169.7a3.8 3.8 0 1 0 7.6 0a3.8 3.8 0 1 0 -7.6 0M516.7 173.0a3.8 3.8 0 1 0 7.6 0a3.8 3.8 0 1 0 -7.6 0M516.7 176.4a3.8 3.8 0 1 0 7.6 0a3.8 3.8 0 1 0 -7.6 0M516.7 179.7a3.8 3.8 0 1 0 7.6 0a3.8 3.8 0 1 0 -7.6 0M516.7 183.0a3.8 3.8 0 1 0 7.6 0a3.8 3.8 0 1 0 -7.6 0M516.7 186.4a3.8 3.8 0 1 0 7.6 0a3.8 3.8 0 1 0 -7.6 0M516.7 189.7a3.8 3.8 0 1 0 7.6 0a3.8 3.8 0 1 0 -7.6 0M516.7 193.0a3.8 3.8 0 1 0 7.6 0a3.8 3.8 0 1 0 -7.6 0M516.7 196.4a3.8 3.8 0 1 0 7.6 0a3.8 3.8 0 1 0 -7.6 0M516.7 199.7a3.8 3.8 0 1 0 7.6 0a3.8 3.8 0 1 0 -7.6 0M516.7 203.0a3.8 3.8 0 1 0 7.6 0a3.8 3.8 0 1 0 -7.6 0M516.7 206.4a3.8 3.8 0 1 0 7.6 0a3.8 3.8 0 1 0 -7.6 0M516.7 209.7a3.8 3.8 0 1 0 7.6 0a3.8 3.8 0 1 0 -7.6 0M516.7 213.0a3.8 3.8 0 1 0 7.6 0a3.8 3.8 0 1 0 -7.6 0M516.7 216.3a3.8 3.8 0 1 0 7.6 0a3.8 3.8 0 1 0 -7.6 0M516.7 219.7a3.8 3.8 0 1 0 7.6 0a3.8 3.8 0 1 0 -7.6 0M516.7 223.0a3.8 3.8 0 1 0 7.6 0a3.8 3.8 0 1 0 -7.6 0M516.7 226.3a3.8 3.8 0 1 0 7.6 0a3.8 3.8 0 1 0 -7.6 0M516.7 229.7a3.8 3.8 0 1 0 7.6 0a3.8 3.8 0 1 0 -7.6 0M516.7 233.0a3.8 3.8 0 1 0 7.6 0a3.8 3.8 0 1 0 -7.6 0M516.7 236.3a3.8 3.8 0 1 0 7.6 0a3.8 3.8 0 1 0 -7.6 0M516.7 239.7a3.8 3.8 0 1 0 7.6 0a3.8 3.8 0 1 0 -7.6 0M516.7 243.0a3.8 3.8 0 1 0 7.6 0a3.8 3.8 0 1 0 -7.6 0M516.7 246.3a3.8 3.8 0 1 0 7.6 0a3.8 3.8 0 1 0 -7.6 0M516.7 249.7a3.8 3.8 0 1 0 7.6 0a3.8 3.8 0 1 0 -7.6 0M516.7 253.0a3.8 3.8 0 1 0 7.6 0a3.8 3.8 0 1 0 -7.6 0M516.7 256.3a3.8 3.8 0 1 0 7.6 0a3.8 3.8 0 1 0 -7.6 0M516.7 259.7a3.8 3.8 0 1 0 7.6 0a3.8 3.8 0 1 0 -7.6 0M516.7 263.0a3.8 3.8 0 1 0 7.6 0a3.8 3.8 0 1 0 -7.6 0M516.7 266.3a3.8 3.8 0 1 0 7.6 0a3.8 3.8 0 1 0 -7.6 0M516.7 269.7a3.8 3.8 0 1 0 7.6 0a3.8 3.8 0 1 0 -7.6 0M516.7 273.0a3.8 3.8 0 1 0 7.6 0a3.8 3.8 0 1 0 -7.6 0M516.7 276.3a3.8 3.8 0 1 0 7.6 0a3.8 3.8 0 1 0 -7.6 0M516.7 279.7a3.8 3.8 0 1 0 7.6 0a3.8 3.8 0 1 0 -7.6 0M516.7 283.0a3.8 3.8 0 1 0 7.6 0a3.8 3.8 0 1 0 -7.6 0M516.7 286.3a3.8 3.8 0 1 0 7.6 0a3.8 3.8 0 1 0 -7.6 0M516.7 289.7a3.8 3.8 0 1 0 7.6 0a3.8 3.8 0 1 0 -7.6 0M516.7 293.0a3.8 3.8 0 1 0 7.6 0a3.8 3.8 0 1 0 -7.6 0"/>
</g>
<g clip-path="url(#c1)">
<path fill="#fce993" d="M573.7 129.7a3.8 3.8 0 1 0 7.6 0a3.8 3.8 0 1 0 -7.6 0M573.7 133.0a3.8 3.8 0 1 0 7.6 0a3.8 3.8 0 1 0 -7.6 0M573.7 136.4a3.8 3.8 0 1 0 7.6 0a3.8 3.8 0 1 0 -7.6 0M573.7 139.7a3.8 3.8 0 1 0 7.6 0a3.8 3.8 0 1 0 -7.6 0M573.7 143.0a3.8 3.8 0 1 0 7.6 0a3.8 3.8 0 1 0 -7.6 0M573.7 146.3a3.8 3.8 0 1 0 7.6 0a3.8 3.8 0 1 0 -7.6 0M573.7 149.7a3.8 3.8 0 1 0 7.6 0a3.8 3.8 0 1 0 -7.6 0M573.7 153.0a3.8 3.8 0 1 0 7.6 0a3.8 3.8 0 1 0 -7.6 0M573.7 156.3a3.8 3.8 0 1 0 7.6 0a3.8 3.8 0 1 0 -7.6 0M573.7 159.6a3.8 3.8 0 1 0 7.6 0a3.8 3.8 0 1 0 -7.6 0M573.7 163.0a3.8 3.8 0 1 0 7.6 0a3.8 3.8 0 1 0 -7.6 0M573.7 166.3a3.8 3.8 0 1 0 7.6 0a3.8 3.8 0 1 0 -7.6 0M573.7 169.6a3.8 3.8 0 1 0 7.6 0a3.8 3.8 0 1 0 -7.6 0M573.7 172.9a3.8 3.8 0 1 0 7.6 0a3.8 3.8 0 1 0 -7.6 0M573.7 176.3a3.8 3.8 0 1 0 7.6 0a3.8 3.8 0 1 0 -7.6 0M573.7 179.6a3.8 3.8 0 1 0 7.6 0a3.8 3.8 0 1 0 -7.6 0M573.7 182.9a3.8 3.8 0 1 0 7.6 0a3.8 3.8 0 1 0 -7.6 0M573.7 186.2a3.8 3.8 0 1 0 7.6 0a3.8 3.8 0 1 0 -7.6 0M573.7 189.6a3.8 3.8 0 1 0 7.6 0a3.8 3.8 0 1 0 -7.6 0M573.7 192.9a3.8 3.8 0 1 0 7.6 0a3.8 3.8 0 1 0 -7.6 0M573.7 196.2a3.8 3.8 0 1 0 7.6 0a3.8 3.8 0 1 0 -7.6 0M573.7 199.5a3.8 3.8 0 1 0 7.6 0a3.8 3.8 0 1 0 -7.6 0M573.7 202.9a3.8 3.8 0 1 0 7.6 0a3.8 3.8 0 1 0 -7.6 0M573.7 206.2a3.8 3.8 0 1 0 7.6 0a3.8 3.8 0 1 0 -7.6 0M573.7 209.5a3.8 3.8 0 1 0 7.6 0a3.8 3.8 0 1 0 -7.6 0M573.7 212.8a3.8 3.8 0 1 0 7.6 0a3.8 3.8 0 1 0 -7.6 0M573.7 216.2a3.8 3.8 0 1 0 7.6 0a3.8 3.8 0 1 0 -7.6 0M573.7 219.5a3.8 3.8 0 1 0 7.6 0a3.8 3.8 0 1 0 -7.6 0M573.7 222.8a3.8 3.8 0 1 0 7.6 0a3.8 3.8 0 1 0 -7.6 0M573.7 226.1a3.8 3.8 0 1 0 7.6 0a3.8 3.8 0 1 0 -7.6 0M573.7 229.5a3.8 3.8 0 1 0 7.6 0a3.8 3.8 0 1 0 -7.6 0M573.7 232.8a3.8 3.8 0 1 0 7.6 0a3.8 3.8 0 1 0 -7.6 0M573.7 236.1a3.8 3.8 0 1 0 7.6 0a3.8 3.8 0 1 0 -7.6 0M573.7 239.4a3.8 3.8 0 1 0 7.6 0a3.8 3.8 0 1 0 -7.6 0M573.7 242.8a3.8 3.8 0 1 0 7.6 0a3.8 3.8 0 1 0 -7.6 0M573.7 246.1a3.8 3.8 0 1 0 7.6 0a3.8 3.8 0 1 0 -7.6 0M573.7 249.4a3.8 3.8 0 1 0 7.6 0a3.8 3.8 0 1 0 -7.6 0M573.7 252.7a3.8 3.8 0 1 0 7.6 0a3.8 3.8 0 1 0 -7.6 0M573.7 256.1a3.8 3.8 0 1 0 7.6 0a3.8 3.8 0 1 0 -7.6 0M573.7 259.4a3.8 3.8 0 1 0 7.6 0a3.8 3.8 0 1 0 -7.6 0M573.7 262.7a3.8 3.8 0 1 0 7.6 0a3.8 3.8 0 1 0 -7.6 0M573.7 266.0a3.8 3.8 0 1 0 7.6 0a3.8 3.8 0 1 0 -7.6 0M573.7 269.4a3.8 3.8 0 1 0 7.6 0a3.8 3.8 0 1 0 -7.6 0M573.7 272.7a3.8 3.8 0 1 0 7.6 0a3.8 3.8 0 1 0 -7.6 0M573.7 276.0a3.8 3.8 0 1 0 7.6 0a3.8 3.8 0 1 0 -7.6 0M573.7 279.3a3.8 3.8 0 1 0 7.6 0a3.8 3.8 0 1 0 -7.6 0M573.7 282.7a3.8 3.8 0 1 0 7.6 0a3.8 3.8 0 1 0 -7.6 0M573.7 286.0a3.8 3.8 0 1 0 7.6 0a3.8 3.8 0 1 0 -7.6 0"/>
<path fill="#fce993" d="M610.3 129.7a3.8 3.8 0 1 0 7.6 0a3.8 3.8 0 1 0 -7.6 0M610.3 133.0a3.8 3.8 0 1 0 7.6 0a3.8 3.8 0 1 0 -7.6 0M610.3 136.3a3.8 3.8 0 1 0 7.6 0a3.8 3.8 0 1 0 -7.6 0M610.3 139.6a3.8 3.8 0 1 0 7.6 0a3.8 3.8 0 1 0 -7.6 0M610.3 143.0a3.8 3.8 0 1 0 7.6 0a3.8 3.8 0 1 0 -7.6 0M610.3 146.3a3.8 3.8 0 1 0 7.6 0a3.8 3.8 0 1 0 -7.6 0M610.3 149.6a3.8 3.8 0 1 0 7.6 0a3.8 3.8 0 1 0 -7.6 0M610.3 152.9a3.8 3.8 0 1 0 7.6 0a3.8 3.8 0 1 0 -7.6 0M610.3 156.2a3.8 3.8 0 1 0 7.6 0a3.8 3.8 0 1 0 -7.6 0M610.3 159.5a3.8 3.8 0 1 0 7.6 0a3.8 3.8 0 1 0 -7.6 0M610.3 162.9a3.8 3.8 0 1 0 7.6 0a3.8 3.8 0 1 0 -7.6 0M610.3 166.2a3.8 3.8 0 1 0 7.6 0a3.8 3.8 0 1 0 -7.6 0M610.3 169.5a3.8 3.8 0 1 0 7.6 0a3.8 3.8 0 1 0 -7.6 0M610.3 172.8a3.8 3.8 0 1 0 7.6 0a3.8 3.8 0 1 0 -7.6 0M610.3 176.1a3.8 3.8 0 1 0 7.6 0a3.8 3.8 0 1 0 -7.6 0M610.3 179.4a3.8 3.8 0 1 0 7.6 0a3.8 3.8 0 1 0 -7.6 0M610.3 182.7a3.8 3.8 0 1 0 7.6 0a3.8 3.8 0 1 0 -7.6 0M610.3 186.1a3.8 3.8 0 1 0 7.6 0a3.8 3.8 0 1 0 -7.6 0M610.3 189.4a3.8 3.8 0 1 0 7.6 0a3.8 3.8 0 1 0 -7.6 0M610.3 192.7a3.8 3.8 0 1 0 7.6 0a3.8 3.8 0 1 0 -7.6 0M610.3 196.0a3.8 3.8 0 1 0 7.6 0a3.8 3.8 0 1 0 -7.6 0M610.3 199.3a3.8 3.8 0 1 0 7.6 0a3.8 3.8 0 1 0 -7.6 0M610.3 202.6a3.8 3.8 0 1 0 7.6 0a3.8 3.8 0 1 0 -7.6 0M610.3 205.9a3.8 3.8 0 1 0 7.6 0a3.8 3.8 0 1 0 -7.6 0M610.3 209.3a3.8 3.8 0 1 0 7.6 0a3.8 3.8 0 1 0 -7.6 0M610.3 212.6a3.8 3.8 0 1 0 7.6 0a3.8 3.8 0 1 0 -7.6 0M610.3 215.9a3.8 3.8 0 1 0 7.6 0a3.8 3.8 0 1 0 -7.6 0M610.3 219.2a3.8 3.8 0 1 0 7.6 0a3.8 3.8 0 1 0 -7.6 0M610.3 222.5a3.8 3.8 0 1 0 7.6 0a3.8 3.8 0 1 0 -7.6 0M610.3 225.8a3.8 3.8 0 1 0 7.6 0a3.8 3.8 0 1 0 -7.6 0M610.3 229.2a3.8 3.8 0 1 0 7.6 0a3.8 3.8 0 1 0 -7.6 0M610.3 232.5a3.8 3.8 0 1 0 7.6 0a3.8 3.8 0 1 0 -7.6 0M610.3 235.8a3.8 3.8 0 1 0 7.6 0a3.8 3.8 0 1 0 -7.6 0M610.3 239.1a3.8 3.8 0 1 0 7.6 0a3.8 3.8 0 1 0 -7.6 0M610.3 242.4a3.8 3.8 0 1 0 7.6 0a3.8 3.8 0 1 0 -7.6 0M610.3 245.7a3.8 3.8 0 1 0 7.6 0a3.8 3.8 0 1 0 -7.6 0M610.3 249.0a3.8 3.8 0 1 0 7.6 0a3.8 3.8 0 1 0 -7.6 0M610.3 252.4a3.8 3.8 0 1 0 7.6 0a3.8 3.8 0 1 0 -7.6 0M610.3 255.7a3.8 3.8 0 1 0 7.6 0a3.8 3.8 0 1 0 -7.6 0M610.3 259.0a3.8 3.8 0 1 0 7.6 0a3.8 3.8 0 1 0 -7.6 0M610.3 262.3a3.8 3.8 0 1 0 7.6 0a3.8 3.8 0 1 0 -7.6 0M610.3 265.6a3.8 3.8 0 1 0 7.6 0a3.8 3.8 0 1 0 -7.6 0M610.3 268.9a3.8 3.8 0 1 0 7.6 0a3.8 3.8 0 1 0 -7.6 0M610.3 272.3a3.8 3.8 0 1 0 7.6 0a3.8 3.8 0 1 0 -7.6 0M610.3 275.6a3.8 3.8 0 1 0 7.6 0a3.8 3.8 0 1 0 -7.6 0M610.3 278.9a3.8 3.8 0 1 0 7.6 0a3.8 3.8 0 1 0 -7.6 0M610.3 282.2a3.8 3.8 0 1 0 7.6 0a3.8 3.8 0 1 0 -7.6 0M610.3 285.5a3.8 3.8 0 1 0 7.6 0a3.8 3.8 0 1 0 -7.6 0M610.3 288.8a3.8 3.8 0 1 0 7.6 0a3.8 3.8 0 1 0 -7.6 0M610.3 292.1a3.8 3.8 0 1 0 7.6 0a3.8 3.8 0 1 0 -7.6 0M610.3 295.5a3.8 3.8 0 1 0 7.6 0a3.8 3.8 0 1 0 -7.6 0M610.3 298.8a3.8 3.8 0 1 0 7.6 0a3.8 3.8 0 1 0 -7.6 0M610.3 302.1a3.8 3.8 0 1 0 7.6 0a3.8 3.8 0 1 0 -7.6 0M610.3 305.4a3.8 3.8 0 1 0 7.6 0a3.8 3.8 0 1 0 -7.6 0M610.3 308.7a3.8 3.8 0 1 0 7.6 0a3.8 3.8 0 1 0 -7.6 0M610.3 312.0a3.8 3.8 0 1 0 7.6 0a3.8 3.8 0 1 0 -7.6 0M610.3 315.3a3.8 3.8 0 1 0 7.6 0a3.8 3.8 0 1 0 -7.6 0M610.3 318.7a3.8 3.8 0 1 0 7.6 0a3.8 3.8 0 1 0 -7.6 0M610.3 322.0a3.8 3.8 0 1 0 7.6 0a3.8 3.8 0 1 0 -7.6 0M610.3 325.3a3.8 3.8 0 1 0 7.6 0a3.8 3.8 0 1 0 -7.6 0M610.3 328.6a3.8 3.8 0 1 0 7.6 0a3.8 3.8 0 1 0 -7.6 0M610.3 331.9a3.8 3.8 0 1 0 7.6 0a3.8 3.8 0 1 0 -7.6 0M610.3 335.2a3.8 3.8 0 1 0 7.6 0a3.8 3.8 0 1 0 -7.6 0M610.3 338.6a3.8 3.8 0 1 0 7.6 0a3.8 3.8 0 1 0 -7.6 0M610.3 341.9a3.8 3.8 0 1 0 7.6 0a3.8 3.8 0 1 0 -7.6 0M610.3 345.2a3.8 3.8 0 1 0 7.6 0a3.8 3.8 0 1 0 -7.6 0M610.3 348.5a3.8 3.8 0 1 0 7.6 0a3.8 3.8 0 1 0 -7.6 0"/>
<path fill="#fce993" d="M660.6 129.7a3.8 3.8 0 1 0 7.6 0a3.8 3.8 0 1 0 -7.6 0M660.6 133.0a3.8 3.8 0 1 0 7.6 0a3.8 3.8 0 1 0 -7.6 0M660.6 136.4a3.8 3.8 0 1 0 7.6 0a3.8 3.8 0 1 0 -7.6 0M660.6 139.7a3.8 3.8 0 1 0 7.6 0a3.8 3.8 0 1 0 -7.6 0M660.6 143.0a3.8 3.8 0 1 0 7.6 0a3.8 3.8 0 1 0 -7.6 0M660.6 146.3a3.8 3.8 0 1 0 7.6 0a3.8 3.8 0 1 0 -7.6 0M660.6 149.7a3.8 3.8 0 1 0 7.6 0a3.8 3.8 0 1 0 -7.6 0M660.6 153.0a3.8 3.8 0 1 0 7.6 0a3.8 3.8 0 1 0 -7.6 0M660.6 156.3a3.8 3.8 0 1 0 7.6 0a3.8 3.8 0 1 0 -7.6 0M660.6 159.6a3.8 3.8 0 1 0 7.6 0a3.8 3.8 0 1 0 -7.6 0M660.6 163.0a3.8 3.8 0 1 0 7.6 0a3.8 3.8 0 1 0 -7.6 0M660.6 166.3a3.8 3.8 0 1 0 7.6 0a3.8 3.8 0 1 0 -7.6 0M660.6 169.6a3.8 3.8 0 1 0 7.6 0a3.8 3.8 0 1 0 -7.6 0M660.6 173.0a3.8 3.8 0 1 0 7.6 0a3.8 3.8 0 1 0 -7.6 0M660.6 176.3a3.8 3.8 0 1 0 7.6 0a3.8 3.8 0 1 0 -7.6 0M660.6 179.6a3.8 3.8 0 1 0 7.6 0a3.8 3.8 0 1 0 -7.6 0M660.6 182.9a3.8 3.8 0 1 0 7.6 0a3.8 3.8 0 1 0 -7.6 0M660.6 186.3a3.8 3.8 0 1 0 7.6 0a3.8 3.8 0 1 0 -7.6 0M660.6 189.6a3.8 3.8 0 1 0 7.6 0a3.8 3.8 0 1 0 -7.6 0M660.6 192.9a3.8 3.8 0 1 0 7.6 0a3.8 3.8 0 1 0 -7.6 0M660.6 196.2a3.8 3.8 0 1 0 7.6 0a3.8 3.8 0 1 0 -7.6 0M660.6 199.6a3.8 3.8 0 1 0 7.6 0a3.8 3.8 0 1 0 -7.6 0M660.6 202.9a3.8 3.8 0 1 0 7.6 0a3.8 3.8 0 1 0 -7.6 0M660.6 206.2a3.8 3.8 0 1 0 7.6 0a3.8 3.8 0 1 0 -7.6 0M660.6 209.5a3.8 3.8 0 1 0 7.6 0a3.8 3.8 0 1 0 -7.6 0M660.6 212.9a3.8 3.8 0 1 0 7.6 0a3.8 3.8 0 1 0 -7.6 0M660.6 216.2a3.8 3.8 0 1 0 7.6 0a3.8 3.8 0 1 0 -7.6 0M660.6 219.5a3.8 3.8 0 1 0 7.6 0a3.8 3.8 0 1 0 -7.6 0M660.6 222.9a3.8 3.8 0 1 0 7.6 0a3.8 3.8 0 1 0 -7.6 0M660.6 226.2a3.8 3.8 0 1 0 7.6 0a3.8 3.8 0 1 0 -7.6 0M660.6 229.5a3.8 3.8 0 1 0 7.6 0a3.8 3.8 0 1 0 -7.6 0M660.6 232.8a3.8 3.8 0 1 0 7.6 0a3.8 3.8 0 1 0 -7.6 0M660.6 236.2a3.8 3.8 0 1 0 7.6 0a3.8 3.8 0 1 0 -7.6 0M660.6 239.5a3.8 3.8 0 1 0 7.6 0a3.8 3.8 0 1 0 -7.6 0M660.6 242.8a3.8 3.8 0 1 0 7.6 0a3.8 3.8 0 1 0 -7.6 0M660.6 246.1a3.8 3.8 0 1 0 7.6 0a3.8 3.8 0 1 0 -7.6 0M660.6 249.5a3.8 3.8 0 1 0 7.6 0a3.8 3.8 0 1 0 -7.6 0M660.6 252.8a3.8 3.8 0 1 0 7.6 0a3.8 3.8 0 1 0 -7.6 0M660.6 256.1a3.8 3.8 0 1 0 7.6 0a3.8 3.8 0 1 0 -7.6 0M660.6 259.5a3.8 3.8 0 1 0 7.6 0a3.8 3.8 0 1 0 -7.6 0M660.6 262.8a3.8 3.8 0 1 0 7.6 0a3.8 3.8 0 1 0 -7.6 0M660.6 266.1a3.8 3.8 0 1 0 7.6 0a3.8 3.8 0 1 0 -7.6 0M660.6 269.4a3.8 3.8 0 1 0 7.6 0a3.8 3.8 0 1 0 -7.6 0M660.6 272.8a3.8 3.8 0 1 0 7.6 0a3.8 3.8 0 1 0 -7.6 0M660.6 276.1a3.8 3.8 0 1 0 7.6 0a3.8 3.8 0 1 0 -7.6 0M660.6 279.4a3.8 3.8 0 1 0 7.6 0a3.8 3.8 0 1 0 -7.6 0M660.6 282.7a3.8 3.8 0 1 0 7.6 0a3.8 3.8 0 1 0 -7.6 0M660.6 286.1a3.8 3.8 0 1 0 7.6 0a3.8 3.8 0 1 0 -7.6 0M660.6 289.4a3.8 3.8 0 1 0 7.6 0a3.8 3.8 0 1 0 -7.6 0M660.6 292.7a3.8 3.8 0 1 0 7.6 0a3.8 3.8 0 1 0 -7.6 0M660.6 296.1a3.8 3.8 0 1 0 7.6 0a3.8 3.8 0 1 0 -7.6 0M660.6 299.4a3.8 3.8 0 1 0 7.6 0a3.8 3.8 0 1 0 -7.6 0M660.6 302.7a3.8 3.8 0 1 0 7.6 0a3.8 3.8 0 1 0 -7.6 0M660.6 306.0a3.8 3.8 0 1 0 7.6 0a3.8 3.8 0 1 0 -7.6 0M660.6 309.4a3.8 3.8 0 1 0 7.6 0a3.8 3.8 0 1 0 -7.6 0M660.6 312.7a3.8 3.8 0 1 0 7.6 0a3.8 3.8 0 1 0 -7.6 0M660.6 316.0a3.8 3.8 0 1 0 7.6 0a3.8 3.8 0 1 0 -7.6 0M660.6 319.3a3.8 3.8 0 1 0 7.6 0a3.8 3.8 0 1 0 -7.6 0M660.6 322.7a3.8 3.8 0 1 0 7.6 0a3.8 3.8 0 1 0 -7.6 0M660.6 326.0a3.8 3.8 0 1 0 7.6 0a3.8 3.8 0 1 0 -7.6 0M660.6 329.3a3.8 3.8 0 1 0 7.6 0a3.8 3.8 0 1 0 -7.6 0M660.6 332.7a3.8 3.8 0 1 0 7.6 0a3.8 3.8 0 1 0 -7.6 0M660.6 336.0a3.8 3.8 0 1 0 7.6 0a3.8 3.8 0 1 0 -7.6 0M660.6 339.3a3.8 3.8 0 1 0 7.6 0a3.8 3.8 0 1 0 -7.6 0M660.6 342.6a3.8 3.8 0 1 0 7.6 0a3.8 3.8 0 1 0 -7.6 0M660.6 346.0a3.8 3.8 0 1 0 7.6 0a3.8 3.8 0 1 0 -7.6 0M660.6 349.3a3.8 3.8 0 1 0 7.6 0a3.8 3.8 0 1 0 -7.6 0M660.6 352.6a3.8 3.8 0 1 0 7.6 0a3.8 3.8 0 1 0 -7.6 0M660.6 355.9a3.8 3.8 0 1 0 7.6 0a3.8 3.8 0 1 0 -7.6 0M660.6 359.3a3.8 3.8 0 1 0 7.6 0a3.8 3.8 0 1 0 -7.6 0M660.6 362.6a3.8 3.8 0 1 0 7.6 0a3.8 3.8 0 1 0 -7.6 0M660.6 365.9a3.8 3.8 0 1 0 7.6 0a3.8 3.8 0 1 0 -7.6 0M660.6 369.2a3.8 3.8 0 1 0 7.6 0a3.8 3.8 0 1 0 -7.6 0M660.6 372.6a3.8 3.8 0 1 0 7.6 0a3.8 3.8 0 1 0 -7.6 0M660.6 375.9a3.8 3.8 0 1 0 7.6 0a3.8 3.8 0 1 0 -7.6 0M660.6 379.2a3.8 3.8 0 1 0 7.6 0a3.8 3.8 0 1 0 -7.6 0M660.6 382.6a3.8 3.8 0 1 0 7.6 0a3.8 3.8 0 1 0 -7.6 0M660.6 385.9a3.8 3.8 0 1 0 7.6 0a3.8 3.8 0 1 0 -7.6 0M660.6 389.2a3.8 3.8 0 1 0 7.6 0a3.8 3.8 0 1 0 -7.6 0M660.6 392.5a3.8 3.8 0 1 0 7.6 0a3.8 3.8 0 1 0 -7.6 0M660.6 395.9a3.8 3.8 0 1 0 7.6 0a3.8 3.8 0 1 0 -7.6 0M660.6 399.2a3.8 3.8 0 1 0 7.6 0a3.8 3.8 0 1 0 -7.6 0M660.6 402.5a3.8 3.8 0 1 0 7.6 0a3.8 3.8 0 1 0 -7.6 0M660.6 405.8a3.8 3.8 0 1 0 7.6 0a3.8 3.8 0 1 0 -7.6 0M660.6 409.2a3.8 3.8 0 1 0 7.6 0a3.8 3.8 0 1 0 -7.6 0M660.6 412.5a3.8 3.8 0 1 0 7.6 0a3.8 3.8 0 1 0 -7.6 0"/>
<path fill="#fce993" d="M698.0 129.7a3.8 3.8 0 1 0 7.6 0a3.8 3.8 0 1 0 -7.6 0M698.0 133.0a3.8 3.8 0 1 0 7.6 0a3.8 3.8 0 1 0 -7.6 0M698.0 136.4a3.8 3.8 0 1 0 7.6 0a3.8 3.8 0 1 0 -7.6 0M698.0 139.7a3.8 3.8 0 1 0 7.6 0a3.8 3.8 0 1 0 -7.6 0M698.0 143.0a3.8 3.8 0 1 0 7.6 0a3.8 3.8 0 1 0 -7.6 0M698.0 146.3a3.8 3.8 0 1 0 7.6 0a3.8 3.8 0 1 0 -7.6 0M698.0 149.7a3.8 3.8 0 1 0 7.6 0a3.8 3.8 0 1 0 -7.6 0M698.0 153.0a3.8 3.8 0 1 0 7.6 0a3.8 3.8 0 1 0 -7.6 0M698.0 156.3a3.8 3.8 0 1 0 7.6 0a3.8 3.8 0 1 0 -7.6 0M698.0 159.7a3.8 3.8 0 1 0 7.6 0a3.8 3.8 0 1 0 -7.6 0M698.0 163.0a3.8 3.8 0 1 0 7.6 0a3.8 3.8 0 1 0 -7.6 0M698.0 166.3a3.8 3.8 0 1 0 7.6 0a3.8 3.8 0 1 0 -7.6 0M698.0 169.6a3.8 3.8 0 1 0 7.6 0a3.8 3.8 0 1 0 -7.6 0M698.0 173.0a3.8 3.8 0 1 0 7.6 0a3.8 3.8 0 1 0 -7.6 0M698.0 176.3a3.8 3.8 0 1 0 7.6 0a3.8 3.8 0 1 0 -7.6 0M698.0 179.6a3.8 3.8 0 1 0 7.6 0a3.8 3.8 0 1 0 -7.6 0M698.0 183.0a3.8 3.8 0 1 0 7.6 0a3.8 3.8 0 1 0 -7.6 0M698.0 186.3a3.8 3.8 0 1 0 7.6 0a3.8 3.8 0 1 0 -7.6 0M698.0 189.6a3.8 3.8 0 1 0 7.6 0a3.8 3.8 0 1 0 -7.6 0M698.0 193.0a3.8 3.8 0 1 0 7.6 0a3.8 3.8 0 1 0 -7.6 0M698.0 196.3a3.8 3.8 0 1 0 7.6 0a3.8 3.8 0 1 0 -7.6 0M698.0 199.6a3.8 3.8 0 1 0 7.6 0a3.8 3.8 0 1 0 -7.6 0M698.0 202.9a3.8 3.8 0 1 0 7.6 0a3.8 3.8 0 1 0 -7.6 0M698.0 206.3a3.8 3.8 0 1 0 7.6 0a3.8 3.8 0 1 0 -7.6 0M698.0 209.6a3.8 3.8 0 1 0 7.6 0a3.8 3.8 0 1 0 -7.6 0M698.0 212.9a3.8 3.8 0 1 0 7.6 0a3.8 3.8 0 1 0 -7.6 0M698.0 216.3a3.8 3.8 0 1 0 7.6 0a3.8 3.8 0 1 0 -7.6 0M698.0 219.6a3.8 3.8 0 1 0 7.6 0a3.8 3.8 0 1 0 -7.6 0M698.0 222.9a3.8 3.8 0 1 0 7.6 0a3.8 3.8 0 1 0 -7.6 0M698.0 226.2a3.8 3.8 0 1 0 7.6 0a3.8 3.8 0 1 0 -7.6 0M698.0 229.6a3.8 3.8 0 1 0 7.6 0a3.8 3.8 0 1 0 -7.6 0M698.0 232.9a3.8 3.8 0 1 0 7.6 0a3.8 3.8 0 1 0 -7.6 0M698.0 236.2a3.8 3.8 0 1 0 7.6 0a3.8 3.8 0 1 0 -7.6 0M698.0 239.6a3.8 3.8 0 1 0 7.6 0a3.8 3.8 0 1 0 -7.6 0M698.0 242.9a3.8 3.8 0 1 0 7.6 0a3.8 3.8 0 1 0 -7.6 0M698.0 246.2a3.8 3.8 0 1 0 7.6 0a3.8 3.8 0 1 0 -7.6 0M698.0 249.5a3.8 3.8 0 1 0 7.6 0a3.8 3.8 0 1 0 -7.6 0M698.0 252.9a3.8 3.8 0 1 0 7.6 0a3.8 3.8 0 1 0 -7.6 0M698.0 256.2a3.8 3.8 0 1 0 7.6 0a3.8 3.8 0 1 0 -7.6 0M698.0 259.5a3.8 3.8 0 1 0 7.6 0a3.8 3.8 0 1 0 -7.6 0M698.0 262.9a3.8 3.8 0 1 0 7.6 0a3.8 3.8 0 1 0 -7.6 0M698.0 266.2a3.8 3.8 0 1 0 7.6 0a3.8 3.8 0 1 0 -7.6 0M698.0 269.5a3.8 3.8 0 1 0 7.6 0a3.8 3.8 0 1 0 -7.6 0M698.0 272.9a3.8 3.8 0 1 0 7.6 0a3.8 3.8 0 1 0 -7.6 0M698.0 276.2a3.8 3.8 0 1 0 7.6 0a3.8 3.8 0 1 0 -7.6 0M698.0 279.5a3.8 3.8 0 1 0 7.6 0a3.8 3.8 0 1 0 -7.6 0M698.0 282.8a3.8 3.8 0 1 0 7.6 0a3.8 3.8 0 1 0 -7.6 0M698.0 286.2a3.8 3.8 0 1 0 7.6 0a3.8 3.8 0 1 0 -7.6 0M698.0 289.5a3.8 3.8 0 1 0 7.6 0a3.8 3.8 0 1 0 -7.6 0M698.0 292.8a3.8 3.8 0 1 0 7.6 0a3.8 3.8 0 1 0 -7.6 0M698.0 296.2a3.8 3.8 0 1 0 7.6 0a3.8 3.8 0 1 0 -7.6 0M698.0 299.5a3.8 3.8 0 1 0 7.6 0a3.8 3.8 0 1 0 -7.6 0M698.0 302.8a3.8 3.8 0 1 0 7.6 0a3.8 3.8 0 1 0 -7.6 0M698.0 306.1a3.8 3.8 0 1 0 7.6 0a3.8 3.8 0 1 0 -7.6 0M698.0 309.5a3.8 3.8 0 1 0 7.6 0a3.8 3.8 0 1 0 -7.6 0M698.0 312.8a3.8 3.8 0 1 0 7.6 0a3.8 3.8 0 1 0 -7.6 0M698.0 316.1a3.8 3.8 0 1 0 7.6 0a3.8 3.8 0 1 0 -7.6 0M698.0 319.5a3.8 3.8 0 1 0 7.6 0a3.8 3.8 0 1 0 -7.6 0M698.0 322.8a3.8 3.8 0 1 0 7.6 0a3.8 3.8 0 1 0 -7.6 0M698.0 326.1a3.8 3.8 0 1 0 7.6 0a3.8 3.8 0 1 0 -7.6 0M698.0 329.4a3.8 3.8 0 1 0 7.6 0a3.8 3.8 0 1 0 -7.6 0M698.0 332.8a3.8 3.8 0 1 0 7.6 0a3.8 3.8 0 1 0 -7.6 0M698.0 336.1a3.8 3.8 0 1 0 7.6 0a3.8 3.8 0 1 0 -7.6 0M698.0 339.4a3.8 3.8 0 1 0 7.6 0a3.8 3.8 0 1 0 -7.6 0M698.0 342.8a3.8 3.8 0 1 0 7.6 0a3.8 3.8 0 1 0 -7.6 0M698.0 346.1a3.8 3.8 0 1 0 7.6 0a3.8 3.8 0 1 0 -7.6 0M698.0 349.4a3.8 3.8 0 1 0 7.6 0a3.8 3.8 0 1 0 -7.6 0M698.0 352.7a3.8 3.8 0 1 0 7.6 0a3.8 3.8 0 1 0 -7.6 0M698.0 356.1a3.8 3.8 0 1 0 7.6 0a3.8 3.8 0 1 0 -7.6 0M698.0 359.4a3.8 3.8 0 1 0 7.6 0a3.8 3.8 0 1 0 -7.6 0M698.0 362.7a3.8 3.8 0 1 0 7.6 0a3.8 3.8 0 1 0 -7.6 0M698.0 366.1a3.8 3.8 0 1 0 7.6 0a3.8 3.8 0 1 0 -7.6 0M698.0 369.4a3.8 3.8 0 1 0 7.6 0a3.8 3.8 0 1 0 -7.6 0M698.0 372.7a3.8 3.8 0 1 0 7.6 0a3.8 3.8 0 1 0 -7.6 0M698.0 376.1a3.8 3.8 0 1 0 7.6 0a3.8 3.8 0 1 0 -7.6 0M698.0 379.4a3.8 3.8 0 1 0 7.6 0a3.8 3.8 0 1 0 -7.6 0M698.0 382.7a3.8 3.8 0 1 0 7.6 0a3.8 3.8 0 1 0 -7.6 0M698.0 386.0a3.8 3.8 0 1 0 7.6 0a3.8 3.8 0 1 0 -7.6 0M698.0 389.4a3.8 3.8 0 1 0 7.6 0a3.8 3.8 0 1 0 -7.6 0M698.0 392.7a3.8 3.8 0 1 0 7.6 0a3.8 3.8 0 1 0 -7.6 0M698.0 396.0a3.8 3.8 0 1 0 7.6 0a3.8 3.8 0 1 0 -7.6 0M698.0 399.4a3.8 3.8 0 1 0 7.6 0a3.8 3.8 0 1 0 -7.6 0M698.0 402.7a3.8 3.8 0 1 0 7.6 0a3.8 3.8 0 1 0 -7.6 0M698.0 406.0a3.8 3.8 0 1 0 7.6 0a3.8 3.8 0 1 0 -7.6 0M698.0 409.3a3.8 3.8 0 1 0 7.6 0a3.8 3.8 0 1 0 -7.6 0M698.0 412.7a3.8 3.8 0 1 0 7.6 0a3.8 3.8 0 1 0 -7.6 0M698.0 416.0a3.8 3.8 0 1 0 7.6 0a3.8 3.8 0 1 0 -7.6 0"/>
<path fill="#fce993" d="M747.1 129.7a3.8 3.8 0 1 0 7.6 0a3.8 3.8 0 1 0 -7.6 0M747.1 133.0a3.8 3.8 0 1 0 7.6 0a3.8 3.8 0 1 0 -7.6 0M747.1 136.3a3.8 3.8 0 1 0 7.6 0a3.8 3.8 0 1 0 -7.6 0M747.1 139.7a3.8 3.8 0 1 0 7.6 0a3.8 3.8 0 1 0 -7.6 0M747.1 143.0a3.8 3.8 0 1 0 7.6 0a3.8 3.8 0 1 0 -7.6 0M747.1 146.3a3.8 3.8 0 1 0 7.6 0a3.8 3.8 0 1 0 -7.6 0M747.1 149.6a3.8 3.8 0 1 0 7.6 0a3.8 3.8 0 1 0 -7.6 0M747.1 153.0a3.8 3.8 0 1 0 7.6 0a3.8 3.8 0 1 0 -7.6 0M747.1 156.3a3.8 3.8 0 1 0 7.6 0a3.8 3.8 0 1 0 -7.6 0M747.1 159.6a3.8 3.8 0 1 0 7.6 0a3.8 3.8 0 1 0 -7.6 0M747.1 162.9a3.8 3.8 0 1 0 7.6 0a3.8 3.8 0 1 0 -7.6 0M747.1 166.3a3.8 3.8 0 1 0 7.6 0a3.8 3.8 0 1 0 -7.6 0M747.1 169.6a3.8 3.8 0 1 0 7.6 0a3.8 3.8 0 1 0 -7.6 0M747.1 172.9a3.8 3.8 0 1 0 7.6 0a3.8 3.8 0 1 0 -7.6 0M747.1 176.2a3.8 3.8 0 1 0 7.6 0a3.8 3.8 0 1 0 -7.6 0M747.1 179.6a3.8 3.8 0 1 0 7.6 0a3.8 3.8 0 1 0 -7.6 0M747.1 182.9a3.8 3.8 0 1 0 7.6 0a3.8 3.8 0 1 0 -7.6 0M747.1 186.2a3.8 3.8 0 1 0 7.6 0a3.8 3.8 0 1 0 -7.6 0M747.1 189.5a3.8 3.8 0 1 0 7.6 0a3.8 3.8 0 1 0 -7.6 0M747.1 192.9a3.8 3.8 0 1 0 7.6 0a3.8 3.8 0 1 0 -7.6 0M747.1 196.2a3.8 3.8 0 1 0 7.6 0a3.8 3.8 0 1 0 -7.6 0M747.1 199.5a3.8 3.8 0 1 0 7.6 0a3.8 3.8 0 1 0 -7.6 0M747.1 202.8a3.8 3.8 0 1 0 7.6 0a3.8 3.8 0 1 0 -7.6 0M747.1 206.2a3.8 3.8 0 1 0 7.6 0a3.8 3.8 0 1 0 -7.6 0M747.1 209.5a3.8 3.8 0 1 0 7.6 0a3.8 3.8 0 1 0 -7.6 0M747.1 212.8a3.8 3.8 0 1 0 7.6 0a3.8 3.8 0 1 0 -7.6 0M747.1 216.1a3.8 3.8 0 1 0 7.6 0a3.8 3.8 0 1 0 -7.6 0M747.1 219.5a3.8 3.8 0 1 0 7.6 0a3.8 3.8 0 1 0 -7.6 0M747.1 222.8a3.8 3.8 0 1 0 7.6 0a3.8 3.8 0 1 0 -7.6 0M747.1 226.1a3.8 3.8 0 1 0 7.6 0a3.8 3.8 0 1 0 -7.6 0M747.1 229.4a3.8 3.8 0 1 0 7.6 0a3.8 3.8 0 1 0 -7.6 0M747.1 232.8a3.8 3.8 0 1 0 7.6 0a3.8 3.8 0 1 0 -7.6 0M747.1 236.1a3.8 3.8 0 1 0 7.6 0a3.8 3.8 0 1 0 -7.6 0M747.1 239.4a3.8 3.8 0 1 0 7.6 0a3.8 3.8 0 1 0 -7.6 0M747.1 242.7a3.8 3.8 0 1 0 7.6 0a3.8 3.8 0 1 0 -7.6 0M747.1 246.1a3.8 3.8 0 1 0 7.6 0a3.8 3.8 0 1 0 -7.6 0M747.1 249.4a3.8 3.8 0 1 0 7.6 0a3.8 3.8 0 1 0 -7.6 0M747.1 252.7a3.8 3.8 0 1 0 7.6 0a3.8 3.8 0 1 0 -7.6 0M747.1 256.0a3.8 3.8 0 1 0 7.6 0a3.8 3.8 0 1 0 -7.6 0M747.1 259.4a3.8 3.8 0 1 0 7.6 0a3.8 3.8 0 1 0 -7.6 0M747.1 262.7a3.8 3.8 0 1 0 7.6 0a3.8 3.8 0 1 0 -7.6 0M747.1 266.0a3.8 3.8 0 1 0 7.6 0a3.8 3.8 0 1 0 -7.6 0M747.1 269.3a3.8 3.8 0 1 0 7.6 0a3.8 3.8 0 1 0 -7.6 0M747.1 272.7a3.8 3.8 0 1 0 7.6 0a3.8 3.8 0 1 0 -7.6 0M747.1 276.0a3.8 3.8 0 1 0 7.6 0a3.8 3.8 0 1 0 -7.6 0M747.1 279.3a3.8 3.8 0 1 0 7.6 0a3.8 3.8 0 1 0 -7.6 0M747.1 282.6a3.8 3.8 0 1 0 7.6 0a3.8 3.8 0 1 0 -7.6 0M747.1 286.0a3.8 3.8 0 1 0 7.6 0a3.8 3.8 0 1 0 -7.6 0M747.1 289.3a3.8 3.8 0 1 0 7.6 0a3.8 3.8 0 1 0 -7.6 0M747.1 292.6a3.8 3.8 0 1 0 7.6 0a3.8 3.8 0 1 0 -7.6 0M747.1 295.9a3.8 3.8 0 1 0 7.6 0a3.8 3.8 0 1 0 -7.6 0M747.1 299.3a3.8 3.8 0 1 0 7.6 0a3.8 3.8 0 1 0 -7.6 0M747.1 302.6a3.8 3.8 0 1 0 7.6 0a3.8 3.8 0 1 0 -7.6 0M747.1 305.9a3.8 3.8 0 1 0 7.6 0a3.8 3.8 0 1 0 -7.6 0M747.1 309.2a3.8 3.8 0 1 0 7.6 0a3.8 3.8 0 1 0 -7.6 0M747.1 312.6a3.8 3.8 0 1 0 7.6 0a3.8 3.8 0 1 0 -7.6 0M747.1 315.9a3.8 3.8 0 1 0 7.6 0a3.8 3.8 0 1 0 -7.6 0M747.1 319.2a3.8 3.8 0 1 0 7.6 0a3.8 3.8 0 1 0 -7.6 0M747.1 322.5a3.8 3.8 0 1 0 7.6 0a3.8 3.8 0 1 0 -7.6 0M747.1 325.9a3.8 3.8 0 1 0 7.6 0a3.8 3.8 0 1 0 -7.6 0M747.1 329.2a3.8 3.8 0 1 0 7.6 0a3.8 3.8 0 1 0 -7.6 0M747.1 332.5a3.8 3.8 0 1 0 7.6 0a3.8 3.8 0 1 0 -7.6 0M747.1 335.8a3.8 3.8 0 1 0 7.6 0a3.8 3.8 0 1 0 -7.6 0M747.1 339.2a3.8 3.8 0 1 0 7.6 0a3.8 3.8 0 1 0 -7.6 0M747.1 342.5a3.8 3.8 0 1 0 7.6 0a3.8 3.8 0 1 0 -7.6 0M747.1 345.8a3.8 3.8 0 1 0 7.6 0a3.8 3.8 0 1 0 -7.6 0M747.1 349.1a3.8 3.8 0 1 0 7.6 0a3.8 3.8 0 1 0 -7.6 0M747.1 352.5a3.8 3.8 0 1 0 7.6 0a3.8 3.8 0 1 0 -7.6 0M747.1 355.8a3.8 3.8 0 1 0 7.6 0a3.8 3.8 0 1 0 -7.6 0M747.1 359.1a3.8 3.8 0 1 0 7.6 0a3.8 3.8 0 1 0 -7.6 0M747.1 362.4a3.8 3.8 0 1 0 7.6 0a3.8 3.8 0 1 0 -7.6 0M747.1 365.8a3.8 3.8 0 1 0 7.6 0a3.8 3.8 0 1 0 -7.6 0M747.1 369.1a3.8 3.8 0 1 0 7.6 0a3.8 3.8 0 1 0 -7.6 0M747.1 372.4a3.8 3.8 0 1 0 7.6 0a3.8 3.8 0 1 0 -7.6 0M747.1 375.7a3.8 3.8 0 1 0 7.6 0a3.8 3.8 0 1 0 -7.6 0M747.1 379.1a3.8 3.8 0 1 0 7.6 0a3.8 3.8 0 1 0 -7.6 0M747.1 382.4a3.8 3.8 0 1 0 7.6 0a3.8 3.8 0 1 0 -7.6 0M747.1 385.7a3.8 3.8 0 1 0 7.6 0a3.8 3.8 0 1 0 -7.6 0M747.1 389.0a3.8 3.8 0 1 0 7.6 0a3.8 3.8 0 1 0 -7.6 0M747.1 392.4a3.8 3.8 0 1 0 7.6 0a3.8 3.8 0 1 0 -7.6 0M747.1 395.7a3.8 3.8 0 1 0 7.6 0a3.8 3.8 0 1 0 -7.6 0M747.1 399.0a3.8 3.8 0 1 0 7.6 0a3.8 3.8 0 1 0 -7.6 0M747.1 402.3a3.8 3.8 0 1 0 7.6 0a3.8 3.8 0 1 0 -7.6 0M747.1 405.7a3.8 3.8 0 1 0 7.6 0a3.8 3.8 0 1 0 -7.6 0M747.1 409.0a3.8 3.8 0 1 0 7.6 0a3.8 3.8 0 1 0 -7.6 0M747.1 412.3a3.8 3.8 0 1 0 7.6 0a3.8 3.8 0 1 0 -7.6 0M747.1 415.6a3.8 3.8 0 1 0 7.6 0a3.8 3.8 0 1 0 -7.6 0M747.1 419.0a3.8 3.8 0 1 0 7.6 0a3.8 3.8 0 1 0 -7.6 0M747.1 422.3a3.8 3.8 0 1 0 7.6 0a3.8 3.8 0 1 0 -7.6 0M747.1 425.6a3.8 3.8 0 1 0 7.6 0a3.8 3.8 0 1 0 -7.6 0"/>
<path fill="#fce993" d="M796.1 129.7a3.8 3.8 0 1 0 7.6 0a3.8 3.8 0 1 0 -7.6 0M796.1 133.0a3.8 3.8 0 1 0 7.6 0a3.8 3.8 0 1 0 -7.6 0M796.1 136.3a3.8 3.8 0 1 0 7.6 0a3.8 3.8 0 1 0 -7.6 0M796.1 139.7a3.8 3.8 0 1 0 7.6 0a3.8 3.8 0 1 0 -7.6 0M796.1 143.0a3.8 3.8 0 1 0 7.6 0a3.8 3.8 0 1 0 -7.6 0M796.1 146.3a3.8 3.8 0 1 0 7.6 0a3.8 3.8 0 1 0 -7.6 0M796.1 149.6a3.8 3.8 0 1 0 7.6 0a3.8 3.8 0 1 0 -7.6 0M796.1 153.0a3.8 3.8 0 1 0 7.6 0a3.8 3.8 0 1 0 -7.6 0M796.1 156.3a3.8 3.8 0 1 0 7.6 0a3.8 3.8 0 1 0 -7.6 0M796.1 159.6a3.8 3.8 0 1 0 7.6 0a3.8 3.8 0 1 0 -7.6 0M796.1 162.9a3.8 3.8 0 1 0 7.6 0a3.8 3.8 0 1 0 -7.6 0M796.1 166.2a3.8 3.8 0 1 0 7.6 0a3.8 3.8 0 1 0 -7.6 0M796.1 169.6a3.8 3.8 0 1 0 7.6 0a3.8 3.8 0 1 0 -7.6 0M796.1 172.9a3.8 3.8 0 1 0 7.6 0a3.8 3.8 0 1 0 -7.6 0M796.1 176.2a3.8 3.8 0 1 0 7.6 0a3.8 3.8 0 1 0 -7.6 0M796.1 179.5a3.8 3.8 0 1 0 7.6 0a3.8 3.8 0 1 0 -7.6 0M796.1 182.9a3.8 3.8 0 1 0 7.6 0a3.8 3.8 0 1 0 -7.6 0M796.1 186.2a3.8 3.8 0 1 0 7.6 0a3.8 3.8 0 1 0 -7.6 0M796.1 189.5a3.8 3.8 0 1 0 7.6 0a3.8 3.8 0 1 0 -7.6 0M796.1 192.8a3.8 3.8 0 1 0 7.6 0a3.8 3.8 0 1 0 -7.6 0M796.1 196.1a3.8 3.8 0 1 0 7.6 0a3.8 3.8 0 1 0 -7.6 0M796.1 199.5a3.8 3.8 0 1 0 7.6 0a3.8 3.8 0 1 0 -7.6 0M796.1 202.8a3.8 3.8 0 1 0 7.6 0a3.8 3.8 0 1 0 -7.6 0M796.1 206.1a3.8 3.8 0 1 0 7.6 0a3.8 3.8 0 1 0 -7.6 0M796.1 209.4a3.8 3.8 0 1 0 7.6 0a3.8 3.8 0 1 0 -7.6 0M796.1 212.7a3.8 3.8 0 1 0 7.6 0a3.8 3.8 0 1 0 -7.6 0M796.1 216.1a3.8 3.8 0 1 0 7.6 0a3.8 3.8 0 1 0 -7.6 0M796.1 219.4a3.8 3.8 0 1 0 7.6 0a3.8 3.8 0 1 0 -7.6 0M796.1 222.7a3.8 3.8 0 1 0 7.6 0a3.8 3.8 0 1 0 -7.6 0M796.1 226.0a3.8 3.8 0 1 0 7.6 0a3.8 3.8 0 1 0 -7.6 0M796.1 229.4a3.8 3.8 0 1 0 7.6 0a3.8 3.8 0 1 0 -7.6 0M796.1 232.7a3.8 3.8 0 1 0 7.6 0a3.8 3.8 0 1 0 -7.6 0M796.1 236.0a3.8 3.8 0 1 0 7.6 0a3.8 3.8 0 1 0 -7.6 0M796.1 239.3a3.8 3.8 0 1 0 7.6 0a3.8 3.8 0 1 0 -7.6 0M796.1 242.6a3.8 3.8 0 1 0 7.6 0a3.8 3.8 0 1 0 -7.6 0M796.1 246.0a3.8 3.8 0 1 0 7.6 0a3.8 3.8 0 1 0 -7.6 0M796.1 249.3a3.8 3.8 0 1 0 7.6 0a3.8 3.8 0 1 0 -7.6 0M796.1 252.6a3.8 3.8 0 1 0 7.6 0a3.8 3.8 0 1 0 -7.6 0M796.1 255.9a3.8 3.8 0 1 0 7.6 0a3.8 3.8 0 1 0 -7.6 0M796.1 259.3a3.8 3.8 0 1 0 7.6 0a3.8 3.8 0 1 0 -7.6 0M796.1 262.6a3.8 3.8 0 1 0 7.6 0a3.8 3.8 0 1 0 -7.6 0M796.1 265.9a3.8 3.8 0 1 0 7.6 0a3.8 3.8 0 1 0 -7.6 0M796.1 269.2a3.8 3.8 0 1 0 7.6 0a3.8 3.8 0 1 0 -7.6 0M796.1 272.5a3.8 3.8 0 1 0 7.6 0a3.8 3.8 0 1 0 -7.6 0M796.1 275.9a3.8 3.8 0 1 0 7.6 0a3.8 3.8 0 1 0 -7.6 0M796.1 279.2a3.8 3.8 0 1 0 7.6 0a3.8 3.8 0 1 0 -7.6 0M796.1 282.5a3.8 3.8 0 1 0 7.6 0a3.8 3.8 0 1 0 -7.6 0M796.1 285.8a3.8 3.8 0 1 0 7.6 0a3.8 3.8 0 1 0 -7.6 0M796.1 289.2a3.8 3.8 0 1 0 7.6 0a3.8 3.8 0 1 0 -7.6 0M796.1 292.5a3.8 3.8 0 1 0 7.6 0a3.8 3.8 0 1 0 -7.6 0M796.1 295.8a3.8 3.8 0 1 0 7.6 0a3.8 3.8 0 1 0 -7.6 0M796.1 299.1a3.8 3.8 0 1 0 7.6 0a3.8 3.8 0 1 0 -7.6 0M796.1 302.4a3.8 3.8 0 1 0 7.6 0a3.8 3.8 0 1 0 -7.6 0M796.1 305.8a3.8 3.8 0 1 0 7.6 0a3.8 3.8 0 1 0 -7.6 0M796.1 309.1a3.8 3.8 0 1 0 7.6 0a3.8 3.8 0 1 0 -7.6 0M796.1 312.4a3.8 3.8 0 1 0 7.6 0a3.8 3.8 0 1 0 -7.6 0M796.1 315.7a3.8 3.8 0 1 0 7.6 0a3.8 3.8 0 1 0 -7.6 0M796.1 319.1a3.8 3.8 0 1 0 7.6 0a3.8 3.8 0 1 0 -7.6 0M796.1 322.4a3.8 3.8 0 1 0 7.6 0a3.8 3.8 0 1 0 -7.6 0M796.1 325.7a3.8 3.8 0 1 0 7.6 0a3.8 3.8 0 1 0 -7.6 0M796.1 329.0a3.8 3.8 0 1 0 7.6 0a3.8 3.8 0 1 0 -7.6 0M796.1 332.3a3.8 3.8 0 1 0 7.6 0a3.8 3.8 0 1 0 -7.6 0M796.1 335.7a3.8 3.8 0 1 0 7.6 0a3.8 3.8 0 1 0 -7.6 0M796.1 339.0a3.8 3.8 0 1 0 7.6 0a3.8 3.8 0 1 0 -7.6 0M796.1 342.3a3.8 3.8 0 1 0 7.6 0a3.8 3.8 0 1 0 -7.6 0M796.1 345.6a3.8 3.8 0 1 0 7.6 0a3.8 3.8 0 1 0 -7.6 0M796.1 349.0a3.8 3.8 0 1 0 7.6 0a3.8 3.8 0 1 0 -7.6 0M796.1 352.3a3.8 3.8 0 1 0 7.6 0a3.8 3.8 0 1 0 -7.6 0M796.1 355.6a3.8 3.8 0 1 0 7.6 0a3.8 3.8 0 1 0 -7.6 0M796.1 358.9a3.8 3.8 0 1 0 7.6 0a3.8 3.8 0 1 0 -7.6 0M796.1 362.2a3.8 3.8 0 1 0 7.6 0a3.8 3.8 0 1 0 -7.6 0M796.1 365.6a3.8 3.8 0 1 0 7.6 0a3.8 3.8 0 1 0 -7.6 0M796.1 368.9a3.8 3.8 0 1 0 7.6 0a3.8 3.8 0 1 0 -7.6 0M796.1 372.2a3.8 3.8 0 1 0 7.6 0a3.8 3.8 0 1 0 -7.6 0M796.1 375.5a3.8 3.8 0 1 0 7.6 0a3.8 3.8 0 1 0 -7.6 0M796.1 378.8a3.8 3.8 0 1 0 7.6 0a3.8 3.8 0 1 0 -7.6 0M796.1 382.2a3.8 3.8 0 1 0 7.6 0a3.8 3.8 0 1 0 -7.6 0M796.1 385.5a3.8 3.8 0 1 0 7.6 0a3.8 3.8 0 1 0 -7.6 0M796.1 388.8a3.8 3.8 0 1 0 7.6 0a3.8 3.8 0 1 0 -7.6 0M796.1 392.1a3.8 3.8 0 1 0 7.6 0a3.8 3.8 0 1 0 -7.6 0M796.1 395.5a3.8 3.8 0 1 0 7.6 0a3.8 3.8 0 1 0 -7.6 0M796.1 398.8a3.8 3.8 0 1 0 7.6 0a3.8 3.8 0 1 0 -7.6 0M796.1 402.1a3.8 3.8 0 1 0 7.6 0a3.8 3.8 0 1 0 -7.6 0M796.1 405.4a3.8 3.8 0 1 0 7.6 0a3.8 3.8 0 1 0 -7.6 0M796.1 408.7a3.8 3.8 0 1 0 7.6 0a3.8 3.8 0 1 0 -7.6 0M796.1 412.1a3.8 3.8 0 1 0 7.6 0a3.8 3.8 0 1 0 -7.6 0M796.1 415.4a3.8 3.8 0 1 0 7.6 0a3.8 3.8 0 1 0 -7.6 0M796.1 418.7a3.8 3.8 0 1 0 7.6 0a3.8 3.8 0 1 0 -7.6 0M796.1 422.0a3.8 3.8 0 1 0 7.6 0a3.8 3.8 0 1 0 -7.6 0M796.1 425.4a3.8 3.8 0 1 0 7.6 0a3.8 3.8 0 1 0 -7.6 0M796.1 428.7a3.8 3.8 0 1 0 7.6 0a3.8 3.8 0 1 0 -7.6 0M796.1 432.0a3.8 3.8 0 1 0 7.6 0a3.8 3.8 0 1 0 -7.6 0"/>
<path fill="#fce993" d="M845.2 129.7a3.8 3.8 0 1 0 7.6 0a3.8 3.8 0 1 0 -7.6 0M845.2 133.0a3.8 3.8 0 1 0 7.6 0a3.8 3.8 0 1 0 -7.6 0M845.2 136.3a3.8 3.8 0 1 0 7.6 0a3.8 3.8 0 1 0 -7.6 0M845.2 139.7a3.8 3.8 0 1 0 7.6 0a3.8 3.8 0 1 0 -7.6 0M845.2 143.0a3.8 3.8 0 1 0 7.6 0a3.8 3.8 0 1 0 -7.6 0M845.2 146.3a3.8 3.8 0 1 0 7.6 0a3.8 3.8 0 1 0 -7.6 0M845.2 149.6a3.8 3.8 0 1 0 7.6 0a3.8 3.8 0 1 0 -7.6 0M845.2 153.0a3.8 3.8 0 1 0 7.6 0a3.8 3.8 0 1 0 -7.6 0M845.2 156.3a3.8 3.8 0 1 0 7.6 0a3.8 3.8 0 1 0 -7.6 0M845.2 159.6a3.8 3.8 0 1 0 7.6 0a3.8 3.8 0 1 0 -7.6 0M845.2 162.9a3.8 3.8 0 1 0 7.6 0a3.8 3.8 0 1 0 -7.6 0M845.2 166.2a3.8 3.8 0 1 0 7.6 0a3.8 3.8 0 1 0 -7.6 0M845.2 169.6a3.8 3.8 0 1 0 7.6 0a3.8 3.8 0 1 0 -7.6 0M845.2 172.9a3.8 3.8 0 1 0 7.6 0a3.8 3.8 0 1 0 -7.6 0M845.2 176.2a3.8 3.8 0 1 0 7.6 0a3.8 3.8 0 1 0 -7.6 0M845.2 179.5a3.8 3.8 0 1 0 7.6 0a3.8 3.8 0 1 0 -7.6 0M845.2 182.9a3.8 3.8 0 1 0 7.6 0a3.8 3.8 0 1 0 -7.6 0M845.2 186.2a3.8 3.8 0 1 0 7.6 0a3.8 3.8 0 1 0 -7.6 0M845.2 189.5a3.8 3.8 0 1 0 7.6 0a3.8 3.8 0 1 0 -7.6 0M845.2 192.8a3.8 3.8 0 1 0 7.6 0a3.8 3.8 0 1 0 -7.6 0M845.2 196.1a3.8 3.8 0 1 0 7.6 0a3.8 3.8 0 1 0 -7.6 0M845.2 199.5a3.8 3.8 0 1 0 7.6 0a3.8 3.8 0 1 0 -7.6 0M845.2 202.8a3.8 3.8 0 1 0 7.6 0a3.8 3.8 0 1 0 -7.6 0M845.2 206.1a3.8 3.8 0 1 0 7.6 0a3.8 3.8 0 1 0 -7.6 0M845.2 209.4a3.8 3.8 0 1 0 7.6 0a3.8 3.8 0 1 0 -7.6 0M845.2 212.7a3.8 3.8 0 1 0 7.6 0a3.8 3.8 0 1 0 -7.6 0M845.2 216.1a3.8 3.8 0 1 0 7.6 0a3.8 3.8 0 1 0 -7.6 0M845.2 219.4a3.8 3.8 0 1 0 7.6 0a3.8 3.8 0 1 0 -7.6 0M845.2 222.7a3.8 3.8 0 1 0 7.6 0a3.8 3.8 0 1 0 -7.6 0M845.2 226.0a3.8 3.8 0 1 0 7.6 0a3.8 3.8 0 1 0 -7.6 0M845.2 229.4a3.8 3.8 0 1 0 7.6 0a3.8 3.8 0 1 0 -7.6 0M845.2 232.7a3.8 3.8 0 1 0 7.6 0a3.8 3.8 0 1 0 -7.6 0M845.2 236.0a3.8 3.8 0 1 0 7.6 0a3.8 3.8 0 1 0 -7.6 0M845.2 239.3a3.8 3.8 0 1 0 7.6 0a3.8 3.8 0 1 0 -7.6 0M845.2 242.6a3.8 3.8 0 1 0 7.6 0a3.8 3.8 0 1 0 -7.6 0M845.2 246.0a3.8 3.8 0 1 0 7.6 0a3.8 3.8 0 1 0 -7.6 0M845.2 249.3a3.8 3.8 0 1 0 7.6 0a3.8 3.8 0 1 0 -7.6 0M845.2 252.6a3.8 3.8 0 1 0 7.6 0a3.8 3.8 0 1 0 -7.6 0M845.2 255.9a3.8 3.8 0 1 0 7.6 0a3.8 3.8 0 1 0 -7.6 0M845.2 259.3a3.8 3.8 0 1 0 7.6 0a3.8 3.8 0 1 0 -7.6 0M845.2 262.6a3.8 3.8 0 1 0 7.6 0a3.8 3.8 0 1 0 -7.6 0M845.2 265.9a3.8 3.8 0 1 0 7.6 0a3.8 3.8 0 1 0 -7.6 0M845.2 269.2a3.8 3.8 0 1 0 7.6 0a3.8 3.8 0 1 0 -7.6 0M845.2 272.5a3.8 3.8 0 1 0 7.6 0a3.8 3.8 0 1 0 -7.6 0M845.2 275.9a3.8 3.8 0 1 0 7.6 0a3.8 3.8 0 1 0 -7.6 0M845.2 279.2a3.8 3.8 0 1 0 7.6 0a3.8 3.8 0 1 0 -7.6 0M845.2 282.5a3.8 3.8 0 1 0 7.6 0a3.8 3.8 0 1 0 -7.6 0M845.2 285.8a3.8 3.8 0 1 0 7.6 0a3.8 3.8 0 1 0 -7.6 0M845.2 289.2a3.8 3.8 0 1 0 7.6 0a3.8 3.8 0 1 0 -7.6 0M845.2 292.5a3.8 3.8 0 1 0 7.6 0a3.8 3.8 0 1 0 -7.6 0M845.2 295.8a3.8 3.8 0 1 0 7.6 0a3.8 3.8 0 1 0 -7.6 0M845.2 299.1a3.8 3.8 0 1 0 7.6 0a3.8 3.8 0 1 0 -7.6 0M845.2 302.4a3.8 3.8 0 1 0 7.6 0a3.8 3.8 0 1 0 -7.6 0M845.2 305.8a3.8 3.8 0 1 0 7.6 0a3.8 3.8 0 1 0 -7.6 0M845.2 309.1a3.8 3.8 0 1 0 7.6 0a3.8 3.8 0 1 0 -7.6 0M845.2 312.4a3.8 3.8 0 1 0 7.6 0a3.8 3.8 0 1 0 -7.6 0M845.2 315.7a3.8 3.8 0 1 0 7.6 0a3.8 3.8 0 1 0 -7.6 0M845.2 319.1a3.8 3.8 0 1 0 7.6 0a3.8 3.8 0 1 0 -7.6 0M845.2 322.4a3.8 3.8 0 1 0 7.6 0a3.8 3.8 0 1 0 -7.6 0M845.2 325.7a3.8 3.8 0 1 0 7.6 0a3.8 3.8 0 1 0 -7.6 0M845.2 329.0a3.8 3.8 0 1 0 7.6 0a3.8 3.8 0 1 0 -7.6 0M845.2 332.3a3.8 3.8 0 1 0 7.6 0a3.8 3.8 0 1 0 -7.6 0M845.2 335.7a3.8 3.8 0 1 0 7.6 0a3.8 3.8 0 1 0 -7.6 0M845.2 339.0a3.8 3.8 0 1 0 7.6 0a3.8 3.8 0 1 0 -7.6 0M845.2 342.3a3.8 3.8 0 1 0 7.6 0a3.8 3.8 0 1 0 -7.6 0M845.2 345.6a3.8 3.8 0 1 0 7.6 0a3.8 3.8 0 1 0 -7.6 0M845.2 349.0a3.8 3.8 0 1 0 7.6 0a3.8 3.8 0 1 0 -7.6 0M845.2 352.3a3.8 3.8 0 1 0 7.6 0a3.8 3.8 0 1 0 -7.6 0M845.2 355.6a3.8 3.8 0 1 0 7.6 0a3.8 3.8 0 1 0 -7.6 0M845.2 358.9a3.8 3.8 0 1 0 7.6 0a3.8 3.8 0 1 0 -7.6 0M845.2 362.2a3.8 3.8 0 1 0 7.6 0a3.8 3.8 0 1 0 -7.6 0M845.2 365.6a3.8 3.8 0 1 0 7.6 0a3.8 3.8 0 1 0 -7.6 0M845.2 368.9a3.8 3.8 0 1 0 7.6 0a3.8 3.8 0 1 0 -7.6 0M845.2 372.2a3.8 3.8 0 1 0 7.6 0a3.8 3.8 0 1 0 -7.6 0M845.2 375.5a3.8 3.8 0 1 0 7.6 0a3.8 3.8 0 1 0 -7.6 0M845.2 378.8a3.8 3.8 0 1 0 7.6 0a3.8 3.8 0 1 0 -7.6 0M845.2 382.2a3.8 3.8 0 1 0 7.6 0a3.8 3.8 0 1 0 -7.6 0M845.2 385.5a3.8 3.8 0 1 0 7.6 0a3.8 3.8 0 1 0 -7.6 0M845.2 388.8a3.8 3.8 0 1 0 7.6 0a3.8 3.8 0 1 0 -7.6 0M845.2 392.1a3.8 3.8 0 1 0 7.6 0a3.8 3.8 0 1 0 -7.6 0M845.2 395.5a3.8 3.8 0 1 0 7.6 0a3.8 3.8 0 1 0 -7.6 0M845.2 398.8a3.8 3.8 0 1 0 7.6 0a3.8 3.8 0 1 0 -7.6 0M845.2 402.1a3.8 3.8 0 1 0 7.6 0a3.8 3.8 0 1 0 -7.6 0M845.2 405.4a3.8 3.8 0 1 0 7.6 0a3.8 3.8 0 1 0 -7.6 0M845.2 408.7a3.8 3.8 0 1 0 7.6 0a3.8 3.8 0 1 0 -7.6 0M845.2 412.1a3.8 3.8 0 1 0 7.6 0a3.8 3.8 0 1 0 -7.6 0M845.2 415.4a3.8 3.8 0 1 0 7.6 0a3.8 3.8 0 1 0 -7.6 0M845.2 418.7a3.8 3.8 0 1 0 7.6 0a3.8 3.8 0 1 0 -7.6 0M845.2 422.0a3.8 3.8 0 1 0 7.6 0a3.8 3.8 0 1 0 -7.6 0M845.2 425.4a3.8 3.8 0 1 0 7.6 0a3.8 3.8 0 1 0 -7.6 0M845.2 428.7a3.8 3.8 0 1 0 7.6 0a3.8 3.8 0 1 0 -7.6 0M845.2 432.0a3.8 3.8 0 1 0 7.6 0a3.8 3.8 0 1 0 -7.6 0"/>
<path fill="#fce993" d="M895.1 129.7a3.8 3.8 0 1 0 7.6 0a3.8 3.8 0 1 0 -7.6 0M895.1 133.0a3.8 3.8 0 1 0 7.6 0a3.8 3.8 0 1 0 -7.6 0M895.1 136.4a3.8 3.8 0 1 0 7.6 0a3.8 3.8 0 1 0 -7.6 0M895.1 139.7a3.8 3.8 0 1 0 7.6 0a3.8 3.8 0 1 0 -7.6 0M895.1 143.0a3.8 3.8 0 1 0 7.6 0a3.8 3.8 0 1 0 -7.6 0M895.1 146.3a3.8 3.8 0 1 0 7.6 0a3.8 3.8 0 1 0 -7.6 0M895.1 149.7a3.8 3.8 0 1 0 7.6 0a3.8 3.8 0 1 0 -7.6 0M895.1 153.0a3.8 3.8 0 1 0 7.6 0a3.8 3.8 0 1 0 -7.6 0M895.1 156.3a3.8 3.8 0 1 0 7.6 0a3.8 3.8 0 1 0 -7.6 0M895.1 159.7a3.8 3.8 0 1 0 7.6 0a3.8 3.8 0 1 0 -7.6 0M895.1 163.0a3.8 3.8 0 1 0 7.6 0a3.8 3.8 0 1 0 -7.6 0M895.1 166.3a3.8 3.8 0 1 0 7.6 0a3.8 3.8 0 1 0 -7.6 0M895.1 169.6a3.8 3.8 0 1 0 7.6 0a3.8 3.8 0 1 0 -7.6 0M895.1 173.0a3.8 3.8 0 1 0 7.6 0a3.8 3.8 0 1 0 -7.6 0M895.1 176.3a3.8 3.8 0 1 0 7.6 0a3.8 3.8 0 1 0 -7.6 0M895.1 179.6a3.8 3.8 0 1 0 7.6 0a3.8 3.8 0 1 0 -7.6 0M895.1 183.0a3.8 3.8 0 1 0 7.6 0a3.8 3.8 0 1 0 -7.6 0M895.1 186.3a3.8 3.8 0 1 0 7.6 0a3.8 3.8 0 1 0 -7.6 0M895.1 189.6a3.8 3.8 0 1 0 7.6 0a3.8 3.8 0 1 0 -7.6 0M895.1 193.0a3.8 3.8 0 1 0 7.6 0a3.8 3.8 0 1 0 -7.6 0M895.1 196.3a3.8 3.8 0 1 0 7.6 0a3.8 3.8 0 1 0 -7.6 0M895.1 199.6a3.8 3.8 0 1 0 7.6 0a3.8 3.8 0 1 0 -7.6 0M895.1 202.9a3.8 3.8 0 1 0 7.6 0a3.8 3.8 0 1 0 -7.6 0M895.1 206.3a3.8 3.8 0 1 0 7.6 0a3.8 3.8 0 1 0 -7.6 0M895.1 209.6a3.8 3.8 0 1 0 7.6 0a3.8 3.8 0 1 0 -7.6 0M895.1 212.9a3.8 3.8 0 1 0 7.6 0a3.8 3.8 0 1 0 -7.6 0M895.1 216.3a3.8 3.8 0 1 0 7.6 0a3.8 3.8 0 1 0 -7.6 0M895.1 219.6a3.8 3.8 0 1 0 7.6 0a3.8 3.8 0 1 0 -7.6 0M895.1 222.9a3.8 3.8 0 1 0 7.6 0a3.8 3.8 0 1 0 -7.6 0M895.1 226.2a3.8 3.8 0 1 0 7.6 0a3.8 3.8 0 1 0 -7.6 0M895.1 229.6a3.8 3.8 0 1 0 7.6 0a3.8 3.8 0 1 0 -7.6 0M895.1 232.9a3.8 3.8 0 1 0 7.6 0a3.8 3.8 0 1 0 -7.6 0M895.1 236.2a3.8 3.8 0 1 0 7.6 0a3.8 3.8 0 1 0 -7.6 0M895.1 239.6a3.8 3.8 0 1 0 7.6 0a3.8 3.8 0 1 0 -7.6 0M895.1 242.9a3.8 3.8 0 1 0 7.6 0a3.8 3.8 0 1 0 -7.6 0M895.1 246.2a3.8 3.8 0 1 0 7.6 0a3.8 3.8 0 1 0 -7.6 0M895.1 249.5a3.8 3.8 0 1 0 7.6 0a3.8 3.8 0 1 0 -7.6 0M895.1 252.9a3.8 3.8 0 1 0 7.6 0a3.8 3.8 0 1 0 -7.6 0M895.1 256.2a3.8 3.8 0 1 0 7.6 0a3.8 3.8 0 1 0 -7.6 0M895.1 259.5a3.8 3.8 0 1 0 7.6 0a3.8 3.8 0 1 0 -7.6 0M895.1 262.9a3.8 3.8 0 1 0 7.6 0a3.8 3.8 0 1 0 -7.6 0M895.1 266.2a3.8 3.8 0 1 0 7.6 0a3.8 3.8 0 1 0 -7.6 0M895.1 269.5a3.8 3.8 0 1 0 7.6 0a3.8 3.8 0 1 0 -7.6 0M895.1 272.9a3.8 3.8 0 1 0 7.6 0a3.8 3.8 0 1 0 -7.6 0M895.1 276.2a3.8 3.8 0 1 0 7.6 0a3.8 3.8 0 1 0 -7.6 0M895.1 279.5a3.8 3.8 0 1 0 7.6 0a3.8 3.8 0 1 0 -7.6 0M895.1 282.8a3.8 3.8 0 1 0 7.6 0a3.8 3.8 0 1 0 -7.6 0M895.1 286.2a3.8 3.8 0 1 0 7.6 0a3.8 3.8 0 1 0 -7.6 0M895.1 289.5a3.8 3.8 0 1 0 7.6 0a3.8 3.8 0 1 0 -7.6 0M895.1 292.8a3.8 3.8 0 1 0 7.6 0a3.8 3.8 0 1 0 -7.6 0M895.1 296.2a3.8 3.8 0 1 0 7.6 0a3.8 3.8 0 1 0 -7.6 0M895.1 299.5a3.8 3.8 0 1 0 7.6 0a3.8 3.8 0 1 0 -7.6 0M895.1 302.8a3.8 3.8 0 1 0 7.6 0a3.8 3.8 0 1 0 -7.6 0M895.1 306.1a3.8 3.8 0 1 0 7.6 0a3.8 3.8 0 1 0 -7.6 0M895.1 309.5a3.8 3.8 0 1 0 7.6 0a3.8 3.8 0 1 0 -7.6 0M895.1 312.8a3.8 3.8 0 1 0 7.6 0a3.8 3.8 0 1 0 -7.6 0M895.1 316.1a3.8 3.8 0 1 0 7.6 0a3.8 3.8 0 1 0 -7.6 0M895.1 319.5a3.8 3.8 0 1 0 7.6 0a3.8 3.8 0 1 0 -7.6 0M895.1 322.8a3.8 3.8 0 1 0 7.6 0a3.8 3.8 0 1 0 -7.6 0M895.1 326.1a3.8 3.8 0 1 0 7.6 0a3.8 3.8 0 1 0 -7.6 0M895.1 329.4a3.8 3.8 0 1 0 7.6 0a3.8 3.8 0 1 0 -7.6 0M895.1 332.8a3.8 3.8 0 1 0 7.6 0a3.8 3.8 0 1 0 -7.6 0M895.1 336.1a3.8 3.8 0 1 0 7.6 0a3.8 3.8 0 1 0 -7.6 0M895.1 339.4a3.8 3.8 0 1 0 7.6 0a3.8 3.8 0 1 0 -7.6 0M895.1 342.8a3.8 3.8 0 1 0 7.6 0a3.8 3.8 0 1 0 -7.6 0M895.1 346.1a3.8 3.8 0 1 0 7.6 0a3.8 3.8 0 1 0 -7.6 0M895.1 349.4a3.8 3.8 0 1 0 7.6 0a3.8 3.8 0 1 0 -7.6 0M895.1 352.7a3.8 3.8 0 1 0 7.6 0a3.8 3.8 0 1 0 -7.6 0M895.1 356.1a3.8 3.8 0 1 0 7.6 0a3.8 3.8 0 1 0 -7.6 0M895.1 359.4a3.8 3.8 0 1 0 7.6 0a3.8 3.8 0 1 0 -7.6 0M895.1 362.7a3.8 3.8 0 1 0 7.6 0a3.8 3.8 0 1 0 -7.6 0M895.1 366.1a3.8 3.8 0 1 0 7.6 0a3.8 3.8 0 1 0 -7.6 0M895.1 369.4a3.8 3.8 0 1 0 7.6 0a3.8 3.8 0 1 0 -7.6 0M895.1 372.7a3.8 3.8 0 1 0 7.6 0a3.8 3.8 0 1 0 -7.6 0M895.1 376.1a3.8 3.8 0 1 0 7.6 0a3.8 3.8 0 1 0 -7.6 0M895.1 379.4a3.8 3.8 0 1 0 7.6 0a3.8 3.8 0 1 0 -7.6 0M895.1 382.7a3.8 3.8 0 1 0 7.6 0a3.8 3.8 0 1 0 -7.6 0M895.1 386.0a3.8 3.8 0 1 0 7.6 0a3.8 3.8 0 1 0 -7.6 0M895.1 389.4a3.8 3.8 0 1 0 7.6 0a3.8 3.8 0 1 0 -7.6 0M895.1 392.7a3.8 3.8 0 1 0 7.6 0a3.8 3.8 0 1 0 -7.6 0M895.1 396.0a3.8 3.8 0 1 0 7.6 0a3.8 3.8 0 1 0 -7.6 0M895.1 399.4a3.8 3.8 0 1 0 7.6 0a3.8 3.8 0 1 0 -7.6 0M895.1 402.7a3.8 3.8 0 1 0 7.6 0a3.8 3.8 0 1 0 -7.6 0M895.1 406.0a3.8 3.8 0 1 0 7.6 0a3.8 3.8 0 1 0 -7.6 0M895.1 409.3a3.8 3.8 0 1 0 7.6 0a3.8 3.8 0 1 0 -7.6 0M895.1 412.7a3.8 3.8 0 1 0 7.6 0a3.8 3.8 0 1 0 -7.6 0M895.1 416.0a3.8 3.8 0 1 0 7.6 0a3.8 3.8 0 1 0 -7.6 0"/>
<path fill="url(#g10)" d="M993.7 129.7a3.8 3.8 0 1 0 7.6 0a3.8 3.8 0 1 0 -7.6 0M993.7 133.0a3.8 3.8 0 1 0 7.6 0a3.8 3.8 0 1 0 -7.6 0M993.7 136.3a3.8 3.8 0 1 0 7.6 0a3.8 3.8 0 1 0 -7.6 0M993.7 139.7a3.8 3.8 0 1 0 7.6 0a3.8 3.8 0 1 0 -7.6 0M993.7 143.0a3.8 3.8 0 1 0 7.6 0a3.8 3.8 0 1 0 -7.6 0M993.7 146.3a3.8 3.8 0 1 0 7.6 0a3.8 3.8 0 1 0 -7.6 0M993.7 149.6a3.8 3.8 0 1 0 7.6 0a3.8 3.8 0 1 0 -7.6 0M993.7 153.0a3.8 3.8 0 1 0 7.6 0a3.8 3.8 0 1 0 -7.6 0M993.7 156.3a3.8 3.8 0 1 0 7.6 0a3.8 3.8 0 1 0 -7.6 0M993.7 159.6a3.8 3.8 0 1 0 7.6 0a3.8 3.8 0 1 0 -7.6 0M993.7 162.9a3.8 3.8 0 1 0 7.6 0a3.8 3.8 0 1 0 -7.6 0M993.7 166.2a3.8 3.8 0 1 0 7.6 0a3.8 3.8 0 1 0 -7.6 0M993.7 169.6a3.8 3.8 0 1 0 7.6 0a3.8 3.8 0 1 0 -7.6 0M993.7 172.9a3.8 3.8 0 1 0 7.6 0a3.8 3.8 0 1 0 -7.6 0M993.7 176.2a3.8 3.8 0 1 0 7.6 0a3.8 3.8 0 1 0 -7.6 0M993.7 179.5a3.8 3.8 0 1 0 7.6 0a3.8 3.8 0 1 0 -7.6 0M993.7 182.9a3.8 3.8 0 1 0 7.6 0a3.8 3.8 0 1 0 -7.6 0M993.7 186.2a3.8 3.8 0 1 0 7.6 0a3.8 3.8 0 1 0 -7.6 0M993.7 189.5a3.8 3.8 0 1 0 7.6 0a3.8 3.8 0 1 0 -7.6 0M993.7 192.8a3.8 3.8 0 1 0 7.6 0a3.8 3.8 0 1 0 -7.6 0M993.7 196.1a3.8 3.8 0 1 0 7.6 0a3.8 3.8 0 1 0 -7.6 0M993.7 199.5a3.8 3.8 0 1 0 7.6 0a3.8 3.8 0 1 0 -7.6 0M993.7 202.8a3.8 3.8 0 1 0 7.6 0a3.8 3.8 0 1 0 -7.6 0M993.7 206.1a3.8 3.8 0 1 0 7.6 0a3.8 3.8 0 1 0 -7.6 0M993.7 209.4a3.8 3.8 0 1 0 7.6 0a3.8 3.8 0 1 0 -7.6 0M993.7 212.8a3.8 3.8 0 1 0 7.6 0a3.8 3.8 0 1 0 -7.6 0M993.7 216.1a3.8 3.8 0 1 0 7.6 0a3.8 3.8 0 1 0 -7.6 0M993.7 219.4a3.8 3.8 0 1 0 7.6 0a3.8 3.8 0 1 0 -7.6 0M993.7 222.7a3.8 3.8 0 1 0 7.6 0a3.8 3.8 0 1 0 -7.6 0M993.7 226.1a3.8 3.8 0 1 0 7.6 0a3.8 3.8 0 1 0 -7.6 0M993.7 229.4a3.8 3.8 0 1 0 7.6 0a3.8 3.8 0 1 0 -7.6 0M993.7 232.7a3.8 3.8 0 1 0 7.6 0a3.8 3.8 0 1 0 -7.6 0M993.7 236.0a3.8 3.8 0 1 0 7.6 0a3.8 3.8 0 1 0 -7.6 0M993.7 239.3a3.8 3.8 0 1 0 7.6 0a3.8 3.8 0 1 0 -7.6 0M993.7 242.7a3.8 3.8 0 1 0 7.6 0a3.8 3.8 0 1 0 -7.6 0M993.7 246.0a3.8 3.8 0 1 0 7.6 0a3.8 3.8 0 1 0 -7.6 0M993.7 249.3a3.8 3.8 0 1 0 7.6 0a3.8 3.8 0 1 0 -7.6 0M993.7 252.6a3.8 3.8 0 1 0 7.6 0a3.8 3.8 0 1 0 -7.6 0M993.7 256.0a3.8 3.8 0 1 0 7.6 0a3.8 3.8 0 1 0 -7.6 0M993.7 259.3a3.8 3.8 0 1 0 7.6 0a3.8 3.8 0 1 0 -7.6 0M993.7 262.6a3.8 3.8 0 1 0 7.6 0a3.8 3.8 0 1 0 -7.6 0M993.7 265.9a3.8 3.8 0 1 0 7.6 0a3.8 3.8 0 1 0 -7.6 0M993.7 269.2a3.8 3.8 0 1 0 7.6 0a3.8 3.8 0 1 0 -7.6 0M993.7 272.6a3.8 3.8 0 1 0 7.6 0a3.8 3.8 0 1 0 -7.6 0M993.7 275.9a3.8 3.8 0 1 0 7.6 0a3.8 3.8 0 1 0 -7.6 0M993.7 279.2a3.8 3.8 0 1 0 7.6 0a3.8 3.8 0 1 0 -7.6 0M993.7 282.5a3.8 3.8 0 1 0 7.6 0a3.8 3.8 0 1 0 -7.6 0M993.7 285.9a3.8 3.8 0 1 0 7.6 0a3.8 3.8 0 1 0 -7.6 0M993.7 289.2a3.8 3.8 0 1 0 7.6 0a3.8 3.8 0 1 0 -7.6 0M993.7 292.5a3.8 3.8 0 1 0 7.6 0a3.8 3.8 0 1 0 -7.6 0"/>
</g>
<g clip-path="url(#c2)">
<path fill="url(#g11)" d="M1050.7 114.9a3.8 3.8 0 1 0 7.6 0a3.8 3.8 0 1 0 -7.6 0M1050.7 118.6a3.8 3.8 0 1 0 7.6 0a3.8 3.8 0 1 0 -7.6 0M1050.7 122.2a3.8 3.8 0 1 0 7.6 0a3.8 3.8 0 1 0 -7.6 0M1050.7 125.9a3.8 3.8 0 1 0 7.6 0a3.8 3.8 0 1 0 -7.6 0M1050.7 129.6a3.8 3.8 0 1 0 7.6 0a3.8 3.8 0 1 0 -7.6 0M1050.7 133.2a3.8 3.8 0 1 0 7.6 0a3.8 3.8 0 1 0 -7.6 0M1050.7 136.9a3.8 3.8 0 1 0 7.6 0a3.8 3.8 0 1 0 -7.6 0M1050.7 140.5a3.8 3.8 0 1 0 7.6 0a3.8 3.8 0 1 0 -7.6 0M1050.7 144.2a3.8 3.8 0 1 0 7.6 0a3.8 3.8 0 1 0 -7.6 0M1050.7 147.9a3.8 3.8 0 1 0 7.6 0a3.8 3.8 0 1 0 -7.6 0M1050.7 151.5a3.8 3.8 0 1 0 7.6 0a3.8 3.8 0 1 0 -7.6 0M1050.7 155.2a3.8 3.8 0 1 0 7.6 0a3.8 3.8 0 1 0 -7.6 0M1050.7 158.9a3.8 3.8 0 1 0 7.6 0a3.8 3.8 0 1 0 -7.6 0M1050.7 162.5a3.8 3.8 0 1 0 7.6 0a3.8 3.8 0 1 0 -7.6 0M1050.7 166.2a3.8 3.8 0 1 0 7.6 0a3.8 3.8 0 1 0 -7.6 0M1050.7 169.8a3.8 3.8 0 1 0 7.6 0a3.8 3.8 0 1 0 -7.6 0M1050.7 173.5a3.8 3.8 0 1 0 7.6 0a3.8 3.8 0 1 0 -7.6 0M1050.7 177.2a3.8 3.8 0 1 0 7.6 0a3.8 3.8 0 1 0 -7.6 0M1050.7 180.8a3.8 3.8 0 1 0 7.6 0a3.8 3.8 0 1 0 -7.6 0M1050.7 184.5a3.8 3.8 0 1 0 7.6 0a3.8 3.8 0 1 0 -7.6 0M1050.7 188.2a3.8 3.8 0 1 0 7.6 0a3.8 3.8 0 1 0 -7.6 0M1050.7 191.8a3.8 3.8 0 1 0 7.6 0a3.8 3.8 0 1 0 -7.6 0M1050.7 195.5a3.8 3.8 0 1 0 7.6 0a3.8 3.8 0 1 0 -7.6 0M1050.7 199.1a3.8 3.8 0 1 0 7.6 0a3.8 3.8 0 1 0 -7.6 0M1050.7 202.8a3.8 3.8 0 1 0 7.6 0a3.8 3.8 0 1 0 -7.6 0M1050.7 206.5a3.8 3.8 0 1 0 7.6 0a3.8 3.8 0 1 0 -7.6 0M1050.7 210.1a3.8 3.8 0 1 0 7.6 0a3.8 3.8 0 1 0 -7.6 0M1050.7 213.8a3.8 3.8 0 1 0 7.6 0a3.8 3.8 0 1 0 -7.6 0M1050.7 217.5a3.8 3.8 0 1 0 7.6 0a3.8 3.8 0 1 0 -7.6 0M1050.7 221.1a3.8 3.8 0 1 0 7.6 0a3.8 3.8 0 1 0 -7.6 0M1050.7 224.8a3.8 3.8 0 1 0 7.6 0a3.8 3.8 0 1 0 -7.6 0M1050.7 228.4a3.8 3.8 0 1 0 7.6 0a3.8 3.8 0 1 0 -7.6 0M1050.7 232.1a3.8 3.8 0 1 0 7.6 0a3.8 3.8 0 1 0 -7.6 0M1050.7 235.8a3.8 3.8 0 1 0 7.6 0a3.8 3.8 0 1 0 -7.6 0M1050.7 239.4a3.8 3.8 0 1 0 7.6 0a3.8 3.8 0 1 0 -7.6 0M1050.7 243.1a3.8 3.8 0 1 0 7.6 0a3.8 3.8 0 1 0 -7.6 0M1050.7 246.8a3.8 3.8 0 1 0 7.6 0a3.8 3.8 0 1 0 -7.6 0M1050.7 250.4a3.8 3.8 0 1 0 7.6 0a3.8 3.8 0 1 0 -7.6 0M1050.7 254.1a3.8 3.8 0 1 0 7.6 0a3.8 3.8 0 1 0 -7.6 0M1050.7 257.7a3.8 3.8 0 1 0 7.6 0a3.8 3.8 0 1 0 -7.6 0M1050.7 261.4a3.8 3.8 0 1 0 7.6 0a3.8 3.8 0 1 0 -7.6 0M1050.7 265.1a3.8 3.8 0 1 0 7.6 0a3.8 3.8 0 1 0 -7.6 0M1050.7 268.7a3.8 3.8 0 1 0 7.6 0a3.8 3.8 0 1 0 -7.6 0M1050.7 272.4a3.8 3.8 0 1 0 7.6 0a3.8 3.8 0 1 0 -7.6 0M1050.7 276.1a3.8 3.8 0 1 0 7.6 0a3.8 3.8 0 1 0 -7.6 0M1050.7 279.7a3.8 3.8 0 1 0 7.6 0a3.8 3.8 0 1 0 -7.6 0M1050.7 283.4a3.8 3.8 0 1 0 7.6 0a3.8 3.8 0 1 0 -7.6 0M1050.7 287.0a3.8 3.8 0 1 0 7.6 0a3.8 3.8 0 1 0 -7.6 0"/>
<path fill="url(#g12)" d="M1087.3 114.9a3.8 3.8 0 1 0 7.6 0a3.8 3.8 0 1 0 -7.6 0M1087.3 118.6a3.8 3.8 0 1 0 7.6 0a3.8 3.8 0 1 0 -7.6 0M1087.3 122.2a3.8 3.8 0 1 0 7.6 0a3.8 3.8 0 1 0 -7.6 0M1087.3 125.9a3.8 3.8 0 1 0 7.6 0a3.8 3.8 0 1 0 -7.6 0M1087.3 129.5a3.8 3.8 0 1 0 7.6 0a3.8 3.8 0 1 0 -7.6 0M1087.3 133.2a3.8 3.8 0 1 0 7.6 0a3.8 3.8 0 1 0 -7.6 0M1087.3 136.8a3.8 3.8 0 1 0 7.6 0a3.8 3.8 0 1 0 -7.6 0M1087.3 140.5a3.8 3.8 0 1 0 7.6 0a3.8 3.8 0 1 0 -7.6 0M1087.3 144.1a3.8 3.8 0 1 0 7.6 0a3.8 3.8 0 1 0 -7.6 0M1087.3 147.8a3.8 3.8 0 1 0 7.6 0a3.8 3.8 0 1 0 -7.6 0M1087.3 151.5a3.8 3.8 0 1 0 7.6 0a3.8 3.8 0 1 0 -7.6 0M1087.3 155.1a3.8 3.8 0 1 0 7.6 0a3.8 3.8 0 1 0 -7.6 0M1087.3 158.8a3.8 3.8 0 1 0 7.6 0a3.8 3.8 0 1 0 -7.6 0M1087.3 162.4a3.8 3.8 0 1 0 7.6 0a3.8 3.8 0 1 0 -7.6 0M1087.3 166.1a3.8 3.8 0 1 0 7.6 0a3.8 3.8 0 1 0 -7.6 0M1087.3 169.7a3.8 3.8 0 1 0 7.6 0a3.8 3.8 0 1 0 -7.6 0M1087.3 173.4a3.8 3.8 0 1 0 7.6 0a3.8 3.8 0 1 0 -7.6 0M1087.3 177.1a3.8 3.8 0 1 0 7.6 0a3.8 3.8 0 1 0 -7.6 0M1087.3 180.7a3.8 3.8 0 1 0 7.6 0a3.8 3.8 0 1 0 -7.6 0M1087.3 184.4a3.8 3.8 0 1 0 7.6 0a3.8 3.8 0 1 0 -7.6 0M1087.3 188.0a3.8 3.8 0 1 0 7.6 0a3.8 3.8 0 1 0 -7.6 0M1087.3 191.7a3.8 3.8 0 1 0 7.6 0a3.8 3.8 0 1 0 -7.6 0M1087.3 195.3a3.8 3.8 0 1 0 7.6 0a3.8 3.8 0 1 0 -7.6 0M1087.3 199.0a3.8 3.8 0 1 0 7.6 0a3.8 3.8 0 1 0 -7.6 0M1087.3 202.6a3.8 3.8 0 1 0 7.6 0a3.8 3.8 0 1 0 -7.6 0M1087.3 206.3a3.8 3.8 0 1 0 7.6 0a3.8 3.8 0 1 0 -7.6 0M1087.3 210.0a3.8 3.8 0 1 0 7.6 0a3.8 3.8 0 1 0 -7.6 0M1087.3 213.6a3.8 3.8 0 1 0 7.6 0a3.8 3.8 0 1 0 -7.6 0M1087.3 217.3a3.8 3.8 0 1 0 7.6 0a3.8 3.8 0 1 0 -7.6 0M1087.3 220.9a3.8 3.8 0 1 0 7.6 0a3.8 3.8 0 1 0 -7.6 0M1087.3 224.6a3.8 3.8 0 1 0 7.6 0a3.8 3.8 0 1 0 -7.6 0M1087.3 228.2a3.8 3.8 0 1 0 7.6 0a3.8 3.8 0 1 0 -7.6 0M1087.3 231.9a3.8 3.8 0 1 0 7.6 0a3.8 3.8 0 1 0 -7.6 0M1087.3 235.5a3.8 3.8 0 1 0 7.6 0a3.8 3.8 0 1 0 -7.6 0M1087.3 239.2a3.8 3.8 0 1 0 7.6 0a3.8 3.8 0 1 0 -7.6 0M1087.3 242.9a3.8 3.8 0 1 0 7.6 0a3.8 3.8 0 1 0 -7.6 0M1087.3 246.5a3.8 3.8 0 1 0 7.6 0a3.8 3.8 0 1 0 -7.6 0M1087.3 250.2a3.8 3.8 0 1 0 7.6 0a3.8 3.8 0 1 0 -7.6 0M1087.3 253.8a3.8 3.8 0 1 0 7.6 0a3.8 3.8 0 1 0 -7.6 0M1087.3 257.5a3.8 3.8 0 1 0 7.6 0a3.8 3.8 0 1 0 -7.6 0M1087.3 261.1a3.8 3.8 0 1 0 7.6 0a3.8 3.8 0 1 0 -7.6 0M1087.3 264.8a3.8 3.8 0 1 0 7.6 0a3.8 3.8 0 1 0 -7.6 0M1087.3 268.5a3.8 3.8 0 1 0 7.6 0a3.8 3.8 0 1 0 -7.6 0M1087.3 272.1a3.8 3.8 0 1 0 7.6 0a3.8 3.8 0 1 0 -7.6 0M1087.3 275.8a3.8 3.8 0 1 0 7.6 0a3.8 3.8 0 1 0 -7.6 0M1087.3 279.4a3.8 3.8 0 1 0 7.6 0a3.8 3.8 0 1 0 -7.6 0M1087.3 283.1a3.8 3.8 0 1 0 7.6 0a3.8 3.8 0 1 0 -7.6 0M1087.3 286.7a3.8 3.8 0 1 0 7.6 0a3.8 3.8 0 1 0 -7.6 0M1087.3 290.4a3.8 3.8 0 1 0 7.6 0a3.8 3.8 0 1 0 -7.6 0M1087.3 294.0a3.8 3.8 0 1 0 7.6 0a3.8 3.8 0 1 0 -7.6 0M1087.3 297.7a3.8 3.8 0 1 0 7.6 0a3.8 3.8 0 1 0 -7.6 0M1087.3 301.4a3.8 3.8 0 1 0 7.6 0a3.8 3.8 0 1 0 -7.6 0M1087.3 305.0a3.8 3.8 0 1 0 7.6 0a3.8 3.8 0 1 0 -7.6 0M1087.3 308.7a3.8 3.8 0 1 0 7.6 0a3.8 3.8 0 1 0 -7.6 0M1087.3 312.3a3.8 3.8 0 1 0 7.6 0a3.8 3.8 0 1 0 -7.6 0M1087.3 316.0a3.8 3.8 0 1 0 7.6 0a3.8 3.8 0 1 0 -7.6 0M1087.3 319.6a3.8 3.8 0 1 0 7.6 0a3.8 3.8 0 1 0 -7.6 0M1087.3 323.3a3.8 3.8 0 1 0 7.6 0a3.8 3.8 0 1 0 -7.6 0M1087.3 327.0a3.8 3.8 0 1 0 7.6 0a3.8 3.8 0 1 0 -7.6 0M1087.3 330.6a3.8 3.8 0 1 0 7.6 0a3.8 3.8 0 1 0 -7.6 0M1087.3 334.3a3.8 3.8 0 1 0 7.6 0a3.8 3.8 0 1 0 -7.6 0M1087.3 337.9a3.8 3.8 0 1 0 7.6 0a3.8 3.8 0 1 0 -7.6 0M1087.3 341.6a3.8 3.8 0 1 0 7.6 0a3.8 3.8 0 1 0 -7.6 0M1087.3 345.2a3.8 3.8 0 1 0 7.6 0a3.8 3.8 0 1 0 -7.6 0M1087.3 348.9a3.8 3.8 0 1 0 7.6 0a3.8 3.8 0 1 0 -7.6 0M1087.3 352.5a3.8 3.8 0 1 0 7.6 0a3.8 3.8 0 1 0 -7.6 0M1087.3 356.2a3.8 3.8 0 1 0 7.6 0a3.8 3.8 0 1 0 -7.6 0"/>
<path fill="url(#g13)" d="M1137.6 114.9a3.8 3.8 0 1 0 7.6 0a3.8 3.8 0 1 0 -7.6 0M1137.6 118.6a3.8 3.8 0 1 0 7.6 0a3.8 3.8 0 1 0 -7.6 0M1137.6 122.2a3.8 3.8 0 1 0 7.6 0a3.8 3.8 0 1 0 -7.6 0M1137.6 125.9a3.8 3.8 0 1 0 7.6 0a3.8 3.8 0 1 0 -7.6 0M1137.6 129.5a3.8 3.8 0 1 0 7.6 0a3.8 3.8 0 1 0 -7.6 0M1137.6 133.2a3.8 3.8 0 1 0 7.6 0a3.8 3.8 0 1 0 -7.6 0M1137.6 136.8a3.8 3.8 0 1 0 7.6 0a3.8 3.8 0 1 0 -7.6 0M1137.6 140.5a3.8 3.8 0 1 0 7.6 0a3.8 3.8 0 1 0 -7.6 0M1137.6 144.2a3.8 3.8 0 1 0 7.6 0a3.8 3.8 0 1 0 -7.6 0M1137.6 147.8a3.8 3.8 0 1 0 7.6 0a3.8 3.8 0 1 0 -7.6 0M1137.6 151.5a3.8 3.8 0 1 0 7.6 0a3.8 3.8 0 1 0 -7.6 0M1137.6 155.1a3.8 3.8 0 1 0 7.6 0a3.8 3.8 0 1 0 -7.6 0M1137.6 158.8a3.8 3.8 0 1 0 7.6 0a3.8 3.8 0 1 0 -7.6 0M1137.6 162.4a3.8 3.8 0 1 0 7.6 0a3.8 3.8 0 1 0 -7.6 0M1137.6 166.1a3.8 3.8 0 1 0 7.6 0a3.8 3.8 0 1 0 -7.6 0M1137.6 169.7a3.8 3.8 0 1 0 7.6 0a3.8 3.8 0 1 0 -7.6 0M1137.6 173.4a3.8 3.8 0 1 0 7.6 0a3.8 3.8 0 1 0 -7.6 0M1137.6 177.1a3.8 3.8 0 1 0 7.6 0a3.8 3.8 0 1 0 -7.6 0M1137.6 180.7a3.8 3.8 0 1 0 7.6 0a3.8 3.8 0 1 0 -7.6 0M1137.6 184.4a3.8 3.8 0 1 0 7.6 0a3.8 3.8 0 1 0 -7.6 0M1137.6 188.0a3.8 3.8 0 1 0 7.6 0a3.8 3.8 0 1 0 -7.6 0M1137.6 191.7a3.8 3.8 0 1 0 7.6 0a3.8 3.8 0 1 0 -7.6 0M1137.6 195.3a3.8 3.8 0 1 0 7.6 0a3.8 3.8 0 1 0 -7.6 0M1137.6 199.0a3.8 3.8 0 1 0 7.6 0a3.8 3.8 0 1 0 -7.6 0M1137.6 202.7a3.8 3.8 0 1 0 7.6 0a3.8 3.8 0 1 0 -7.6 0M1137.6 206.3a3.8 3.8 0 1 0 7.6 0a3.8 3.8 0 1 0 -7.6 0M1137.6 210.0a3.8 3.8 0 1 0 7.6 0a3.8 3.8 0 1 0 -7.6 0M1137.6 213.6a3.8 3.8 0 1 0 7.6 0a3.8 3.8 0 1 0 -7.6 0M1137.6 217.3a3.8 3.8 0 1 0 7.6 0a3.8 3.8 0 1 0 -7.6 0M1137.6 220.9a3.8 3.8 0 1 0 7.6 0a3.8 3.8 0 1 0 -7.6 0M1137.6 224.6a3.8 3.8 0 1 0 7.6 0a3.8 3.8 0 1 0 -7.6 0M1137.6 228.2a3.8 3.8 0 1 0 7.6 0a3.8 3.8 0 1 0 -7.6 0M1137.6 231.9a3.8 3.8 0 1 0 7.6 0a3.8 3.8 0 1 0 -7.6 0M1137.6 235.6a3.8 3.8 0 1 0 7.6 0a3.8 3.8 0 1 0 -7.6 0M1137.6 239.2a3.8 3.8 0 1 0 7.6 0a3.8 3.8 0 1 0 -7.6 0M1137.6 242.9a3.8 3.8 0 1 0 7.6 0a3.8 3.8 0 1 0 -7.6 0M1137.6 246.5a3.8 3.8 0 1 0 7.6 0a3.8 3.8 0 1 0 -7.6 0M1137.6 250.2a3.8 3.8 0 1 0 7.6 0a3.8 3.8 0 1 0 -7.6 0M1137.6 253.8a3.8 3.8 0 1 0 7.6 0a3.8 3.8 0 1 0 -7.6 0M1137.6 257.5a3.8 3.8 0 1 0 7.6 0a3.8 3.8 0 1 0 -7.6 0M1137.6 261.2a3.8 3.8 0 1 0 7.6 0a3.8 3.8 0 1 0 -7.6 0M1137.6 264.8a3.8 3.8 0 1 0 7.6 0a3.8 3.8 0 1 0 -7.6 0M1137.6 268.5a3.8 3.8 0 1 0 7.6 0a3.8 3.8 0 1 0 -7.6 0M1137.6 272.1a3.8 3.8 0 1 0 7.6 0a3.8 3.8 0 1 0 -7.6 0M1137.6 275.8a3.8 3.8 0 1 0 7.6 0a3.8 3.8 0 1 0 -7.6 0M1137.6 279.4a3.8 3.8 0 1 0 7.6 0a3.8 3.8 0 1 0 -7.6 0M1137.6 283.1a3.8 3.8 0 1 0 7.6 0a3.8 3.8 0 1 0 -7.6 0M1137.6 286.7a3.8 3.8 0 1 0 7.6 0a3.8 3.8 0 1 0 -7.6 0M1137.6 290.4a3.8 3.8 0 1 0 7.6 0a3.8 3.8 0 1 0 -7.6 0M1137.6 294.1a3.8 3.8 0 1 0 7.6 0a3.8 3.8 0 1 0 -7.6 0M1137.6 297.7a3.8 3.8 0 1 0 7.6 0a3.8 3.8 0 1 0 -7.6 0M1137.6 301.4a3.8 3.8 0 1 0 7.6 0a3.8 3.8 0 1 0 -7.6 0M1137.6 305.0a3.8 3.8 0 1 0 7.6 0a3.8 3.8 0 1 0 -7.6 0M1137.6 308.7a3.8 3.8 0 1 0 7.6 0a3.8 3.8 0 1 0 -7.6 0M1137.6 312.3a3.8 3.8 0 1 0 7.6 0a3.8 3.8 0 1 0 -7.6 0M1137.6 316.0a3.8 3.8 0 1 0 7.6 0a3.8 3.8 0 1 0 -7.6 0M1137.6 319.7a3.8 3.8 0 1 0 7.6 0a3.8 3.8 0 1 0 -7.6 0M1137.6 323.3a3.8 3.8 0 1 0 7.6 0a3.8 3.8 0 1 0 -7.6 0M1137.6 327.0a3.8 3.8 0 1 0 7.6 0a3.8 3.8 0 1 0 -7.6 0M1137.6 330.6a3.8 3.8 0 1 0 7.6 0a3.8 3.8 0 1 0 -7.6 0M1137.6 334.3a3.8 3.8 0 1 0 7.6 0a3.8 3.8 0 1 0 -7.6 0M1137.6 337.9a3.8 3.8 0 1 0 7.6 0a3.8 3.8 0 1 0 -7.6 0M1137.6 341.6a3.8 3.8 0 1 0 7.6 0a3.8 3.8 0 1 0 -7.6 0M1137.6 345.2a3.8 3.8 0 1 0 7.6 0a3.8 3.8 0 1 0 -7.6 0M1137.6 348.9a3.8 3.8 0 1 0 7.6 0a3.8 3.8 0 1 0 -7.6 0M1137.6 352.6a3.8 3.8 0 1 0 7.6 0a3.8 3.8 0 1 0 -7.6 0M1137.6 356.2a3.8 3.8 0 1 0 7.6 0a3.8 3.8 0 1 0 -7.6 0M1137.6 359.9a3.8 3.8 0 1 0 7.6 0a3.8 3.8 0 1 0 -7.6 0M1137.6 363.5a3.8 3.8 0 1 0 7.6 0a3.8 3.8 0 1 0 -7.6 0M1137.6 367.2a3.8 3.8 0 1 0 7.6 0a3.8 3.8 0 1 0 -7.6 0M1137.6 370.8a3.8 3.8 0 1 0 7.6 0a3.8 3.8 0 1 0 -7.6 0M1137.6 374.5a3.8 3.8 0 1 0 7.6 0a3.8 3.8 0 1 0 -7.6 0M1137.6 378.2a3.8 3.8 0 1 0 7.6 0a3.8 3.8 0 1 0 -7.6 0M1137.6 381.8a3.8 3.8 0 1 0 7.6 0a3.8 3.8 0 1 0 -7.6 0M1137.6 385.5a3.8 3.8 0 1 0 7.6 0a3.8 3.8 0 1 0 -7.6 0M1137.6 389.1a3.8 3.8 0 1 0 7.6 0a3.8 3.8 0 1 0 -7.6 0M1137.6 392.8a3.8 3.8 0 1 0 7.6 0a3.8 3.8 0 1 0 -7.6 0M1137.6 396.4a3.8 3.8 0 1 0 7.6 0a3.8 3.8 0 1 0 -7.6 0M1137.6 400.1a3.8 3.8 0 1 0 7.6 0a3.8 3.8 0 1 0 -7.6 0M1137.6 403.7a3.8 3.8 0 1 0 7.6 0a3.8 3.8 0 1 0 -7.6 0M1137.6 407.4a3.8 3.8 0 1 0 7.6 0a3.8 3.8 0 1 0 -7.6 0M1137.6 411.1a3.8 3.8 0 1 0 7.6 0a3.8 3.8 0 1 0 -7.6 0M1137.6 414.7a3.8 3.8 0 1 0 7.6 0a3.8 3.8 0 1 0 -7.6 0M1137.6 418.4a3.8 3.8 0 1 0 7.6 0a3.8 3.8 0 1 0 -7.6 0M1137.6 422.0a3.8 3.8 0 1 0 7.6 0a3.8 3.8 0 1 0 -7.6 0M1137.6 425.7a3.8 3.8 0 1 0 7.6 0a3.8 3.8 0 1 0 -7.6 0"/>
<path fill="url(#g14)" d="M1175.0 114.9a3.8 3.8 0 1 0 7.6 0a3.8 3.8 0 1 0 -7.6 0M1175.0 118.6a3.8 3.8 0 1 0 7.6 0a3.8 3.8 0 1 0 -7.6 0M1175.0 122.2a3.8 3.8 0 1 0 7.6 0a3.8 3.8 0 1 0 -7.6 0M1175.0 125.9a3.8 3.8 0 1 0 7.6 0a3.8 3.8 0 1 0 -7.6 0M1175.0 129.5a3.8 3.8 0 1 0 7.6 0a3.8 3.8 0 1 0 -7.6 0M1175.0 133.2a3.8 3.8 0 1 0 7.6 0a3.8 3.8 0 1 0 -7.6 0M1175.0 136.8a3.8 3.8 0 1 0 7.6 0a3.8 3.8 0 1 0 -7.6 0M1175.0 140.5a3.8 3.8 0 1 0 7.6 0a3.8 3.8 0 1 0 -7.6 0M1175.0 144.1a3.8 3.8 0 1 0 7.6 0a3.8 3.8 0 1 0 -7.6 0M1175.0 147.8a3.8 3.8 0 1 0 7.6 0a3.8 3.8 0 1 0 -7.6 0M1175.0 151.4a3.8 3.8 0 1 0 7.6 0a3.8 3.8 0 1 0 -7.6 0M1175.0 155.1a3.8 3.8 0 1 0 7.6 0a3.8 3.8 0 1 0 -7.6 0M1175.0 158.7a3.8 3.8 0 1 0 7.6 0a3.8 3.8 0 1 0 -7.6 0M1175.0 162.4a3.8 3.8 0 1 0 7.6 0a3.8 3.8 0 1 0 -7.6 0M1175.0 166.0a3.8 3.8 0 1 0 7.6 0a3.8 3.8 0 1 0 -7.6 0M1175.0 169.7a3.8 3.8 0 1 0 7.6 0a3.8 3.8 0 1 0 -7.6 0M1175.0 173.3a3.8 3.8 0 1 0 7.6 0a3.8 3.8 0 1 0 -7.6 0M1175.0 177.0a3.8 3.8 0 1 0 7.6 0a3.8 3.8 0 1 0 -7.6 0M1175.0 180.6a3.8 3.8 0 1 0 7.6 0a3.8 3.8 0 1 0 -7.6 0M1175.0 184.3a3.8 3.8 0 1 0 7.6 0a3.8 3.8 0 1 0 -7.6 0M1175.0 187.9a3.8 3.8 0 1 0 7.6 0a3.8 3.8 0 1 0 -7.6 0M1175.0 191.6a3.8 3.8 0 1 0 7.6 0a3.8 3.8 0 1 0 -7.6 0M1175.0 195.2a3.8 3.8 0 1 0 7.6 0a3.8 3.8 0 1 0 -7.6 0M1175.0 198.9a3.8 3.8 0 1 0 7.6 0a3.8 3.8 0 1 0 -7.6 0M1175.0 202.6a3.8 3.8 0 1 0 7.6 0a3.8 3.8 0 1 0 -7.6 0M1175.0 206.2a3.8 3.8 0 1 0 7.6 0a3.8 3.8 0 1 0 -7.6 0M1175.0 209.9a3.8 3.8 0 1 0 7.6 0a3.8 3.8 0 1 0 -7.6 0M1175.0 213.5a3.8 3.8 0 1 0 7.6 0a3.8 3.8 0 1 0 -7.6 0M1175.0 217.2a3.8 3.8 0 1 0 7.6 0a3.8 3.8 0 1 0 -7.6 0M1175.0 220.8a3.8 3.8 0 1 0 7.6 0a3.8 3.8 0 1 0 -7.6 0M1175.0 224.5a3.8 3.8 0 1 0 7.6 0a3.8 3.8 0 1 0 -7.6 0M1175.0 228.1a3.8 3.8 0 1 0 7.6 0a3.8 3.8 0 1 0 -7.6 0M1175.0 231.8a3.8 3.8 0 1 0 7.6 0a3.8 3.8 0 1 0 -7.6 0M1175.0 235.4a3.8 3.8 0 1 0 7.6 0a3.8 3.8 0 1 0 -7.6 0M1175.0 239.1a3.8 3.8 0 1 0 7.6 0a3.8 3.8 0 1 0 -7.6 0M1175.0 242.7a3.8 3.8 0 1 0 7.6 0a3.8 3.8 0 1 0 -7.6 0M1175.0 246.4a3.8 3.8 0 1 0 7.6 0a3.8 3.8 0 1 0 -7.6 0M1175.0 250.0a3.8 3.8 0 1 0 7.6 0a3.8 3.8 0 1 0 -7.6 0M1175.0 253.7a3.8 3.8 0 1 0 7.6 0a3.8 3.8 0 1 0 -7.6 0M1175.0 257.3a3.8 3.8 0 1 0 7.6 0a3.8 3.8 0 1 0 -7.6 0M1175.0 261.0a3.8 3.8 0 1 0 7.6 0a3.8 3.8 0 1 0 -7.6 0M1175.0 264.6a3.8 3.8 0 1 0 7.6 0a3.8 3.8 0 1 0 -7.6 0M1175.0 268.3a3.8 3.8 0 1 0 7.6 0a3.8 3.8 0 1 0 -7.6 0M1175.0 271.9a3.8 3.8 0 1 0 7.6 0a3.8 3.8 0 1 0 -7.6 0M1175.0 275.6a3.8 3.8 0 1 0 7.6 0a3.8 3.8 0 1 0 -7.6 0M1175.0 279.2a3.8 3.8 0 1 0 7.6 0a3.8 3.8 0 1 0 -7.6 0M1175.0 282.9a3.8 3.8 0 1 0 7.6 0a3.8 3.8 0 1 0 -7.6 0M1175.0 286.5a3.8 3.8 0 1 0 7.6 0a3.8 3.8 0 1 0 -7.6 0M1175.0 290.2a3.8 3.8 0 1 0 7.6 0a3.8 3.8 0 1 0 -7.6 0M1175.0 293.9a3.8 3.8 0 1 0 7.6 0a3.8 3.8 0 1 0 -7.6 0M1175.0 297.5a3.8 3.8 0 1 0 7.6 0a3.8 3.8 0 1 0 -7.6 0M1175.0 301.2a3.8 3.8 0 1 0 7.6 0a3.8 3.8 0 1 0 -7.6 0M1175.0 304.8a3.8 3.8 0 1 0 7.6 0a3.8 3.8 0 1 0 -7.6 0M1175.0 308.5a3.8 3.8 0 1 0 7.6 0a3.8 3.8 0 1 0 -7.6 0M1175.0 312.1a3.8 3.8 0 1 0 7.6 0a3.8 3.8 0 1 0 -7.6 0M1175.0 315.8a3.8 3.8 0 1 0 7.6 0a3.8 3.8 0 1 0 -7.6 0M1175.0 319.4a3.8 3.8 0 1 0 7.6 0a3.8 3.8 0 1 0 -7.6 0M1175.0 323.1a3.8 3.8 0 1 0 7.6 0a3.8 3.8 0 1 0 -7.6 0M1175.0 326.7a3.8 3.8 0 1 0 7.6 0a3.8 3.8 0 1 0 -7.6 0M1175.0 330.4a3.8 3.8 0 1 0 7.6 0a3.8 3.8 0 1 0 -7.6 0M1175.0 334.0a3.8 3.8 0 1 0 7.6 0a3.8 3.8 0 1 0 -7.6 0M1175.0 337.7a3.8 3.8 0 1 0 7.6 0a3.8 3.8 0 1 0 -7.6 0M1175.0 341.3a3.8 3.8 0 1 0 7.6 0a3.8 3.8 0 1 0 -7.6 0M1175.0 345.0a3.8 3.8 0 1 0 7.6 0a3.8 3.8 0 1 0 -7.6 0M1175.0 348.6a3.8 3.8 0 1 0 7.6 0a3.8 3.8 0 1 0 -7.6 0M1175.0 352.3a3.8 3.8 0 1 0 7.6 0a3.8 3.8 0 1 0 -7.6 0M1175.0 355.9a3.8 3.8 0 1 0 7.6 0a3.8 3.8 0 1 0 -7.6 0M1175.0 359.6a3.8 3.8 0 1 0 7.6 0a3.8 3.8 0 1 0 -7.6 0M1175.0 363.2a3.8 3.8 0 1 0 7.6 0a3.8 3.8 0 1 0 -7.6 0M1175.0 366.9a3.8 3.8 0 1 0 7.6 0a3.8 3.8 0 1 0 -7.6 0M1175.0 370.5a3.8 3.8 0 1 0 7.6 0a3.8 3.8 0 1 0 -7.6 0M1175.0 374.2a3.8 3.8 0 1 0 7.6 0a3.8 3.8 0 1 0 -7.6 0M1175.0 377.9a3.8 3.8 0 1 0 7.6 0a3.8 3.8 0 1 0 -7.6 0M1175.0 381.5a3.8 3.8 0 1 0 7.6 0a3.8 3.8 0 1 0 -7.6 0M1175.0 385.2a3.8 3.8 0 1 0 7.6 0a3.8 3.8 0 1 0 -7.6 0M1175.0 388.8a3.8 3.8 0 1 0 7.6 0a3.8 3.8 0 1 0 -7.6 0M1175.0 392.5a3.8 3.8 0 1 0 7.6 0a3.8 3.8 0 1 0 -7.6 0M1175.0 396.1a3.8 3.8 0 1 0 7.6 0a3.8 3.8 0 1 0 -7.6 0M1175.0 399.8a3.8 3.8 0 1 0 7.6 0a3.8 3.8 0 1 0 -7.6 0M1175.0 403.4a3.8 3.8 0 1 0 7.6 0a3.8 3.8 0 1 0 -7.6 0M1175.0 407.1a3.8 3.8 0 1 0 7.6 0a3.8 3.8 0 1 0 -7.6 0M1175.0 410.7a3.8 3.8 0 1 0 7.6 0a3.8 3.8 0 1 0 -7.6 0M1175.0 414.4a3.8 3.8 0 1 0 7.6 0a3.8 3.8 0 1 0 -7.6 0M1175.0 418.0a3.8 3.8 0 1 0 7.6 0a3.8 3.8 0 1 0 -7.6 0M1175.0 421.7a3.8 3.8 0 1 0 7.6 0a3.8 3.8 0 1 0 -7.6 0M1175.0 425.3a3.8 3.8 0 1 0 7.6 0a3.8 3.8 0 1 0 -7.6 0M1175.0 429.0a3.8 3.8 0 1 0 7.6 0a3.8 3.8 0 1 0 -7.6 0"/>
<path fill="url(#g15)" d="M1224.1 114.9a3.8 3.8 0 1 0 7.6 0a3.8 3.8 0 1 0 -7.6 0M1224.1 118.6a3.8 3.8 0 1 0 7.6 0a3.8 3.8 0 1 0 -7.6 0M1224.1 122.2a3.8 3.8 0 1 0 7.6 0a3.8 3.8 0 1 0 -7.6 0M1224.1 125.9a3.8 3.8 0 1 0 7.6 0a3.8 3.8 0 1 0 -7.6 0M1224.1 129.5a3.8 3.8 0 1 0 7.6 0a3.8 3.8 0 1 0 -7.6 0M1224.1 133.2a3.8 3.8 0 1 0 7.6 0a3.8 3.8 0 1 0 -7.6 0M1224.1 136.8a3.8 3.8 0 1 0 7.6 0a3.8 3.8 0 1 0 -7.6 0M1224.1 140.5a3.8 3.8 0 1 0 7.6 0a3.8 3.8 0 1 0 -7.6 0M1224.1 144.1a3.8 3.8 0 1 0 7.6 0a3.8 3.8 0 1 0 -7.6 0M1224.1 147.8a3.8 3.8 0 1 0 7.6 0a3.8 3.8 0 1 0 -7.6 0M1224.1 151.4a3.8 3.8 0 1 0 7.6 0a3.8 3.8 0 1 0 -7.6 0M1224.1 155.1a3.8 3.8 0 1 0 7.6 0a3.8 3.8 0 1 0 -7.6 0M1224.1 158.7a3.8 3.8 0 1 0 7.6 0a3.8 3.8 0 1 0 -7.6 0M1224.1 162.4a3.8 3.8 0 1 0 7.6 0a3.8 3.8 0 1 0 -7.6 0M1224.1 166.0a3.8 3.8 0 1 0 7.6 0a3.8 3.8 0 1 0 -7.6 0M1224.1 169.7a3.8 3.8 0 1 0 7.6 0a3.8 3.8 0 1 0 -7.6 0M1224.1 173.4a3.8 3.8 0 1 0 7.6 0a3.8 3.8 0 1 0 -7.6 0M1224.1 177.0a3.8 3.8 0 1 0 7.6 0a3.8 3.8 0 1 0 -7.6 0M1224.1 180.7a3.8 3.8 0 1 0 7.6 0a3.8 3.8 0 1 0 -7.6 0M1224.1 184.3a3.8 3.8 0 1 0 7.6 0a3.8 3.8 0 1 0 -7.6 0M1224.1 188.0a3.8 3.8 0 1 0 7.6 0a3.8 3.8 0 1 0 -7.6 0M1224.1 191.6a3.8 3.8 0 1 0 7.6 0a3.8 3.8 0 1 0 -7.6 0M1224.1 195.3a3.8 3.8 0 1 0 7.6 0a3.8 3.8 0 1 0 -7.6 0M1224.1 198.9a3.8 3.8 0 1 0 7.6 0a3.8 3.8 0 1 0 -7.6 0M1224.1 202.6a3.8 3.8 0 1 0 7.6 0a3.8 3.8 0 1 0 -7.6 0M1224.1 206.2a3.8 3.8 0 1 0 7.6 0a3.8 3.8 0 1 0 -7.6 0M1224.1 209.9a3.8 3.8 0 1 0 7.6 0a3.8 3.8 0 1 0 -7.6 0M1224.1 213.5a3.8 3.8 0 1 0 7.6 0a3.8 3.8 0 1 0 -7.6 0M1224.1 217.2a3.8 3.8 0 1 0 7.6 0a3.8 3.8 0 1 0 -7.6 0M1224.1 220.9a3.8 3.8 0 1 0 7.6 0a3.8 3.8 0 1 0 -7.6 0M1224.1 224.5a3.8 3.8 0 1 0 7.6 0a3.8 3.8 0 1 0 -7.6 0M1224.1 228.2a3.8 3.8 0 1 0 7.6 0a3.8 3.8 0 1 0 -7.6 0M1224.1 231.8a3.8 3.8 0 1 0 7.6 0a3.8 3.8 0 1 0 -7.6 0M1224.1 235.5a3.8 3.8 0 1 0 7.6 0a3.8 3.8 0 1 0 -7.6 0M1224.1 239.1a3.8 3.8 0 1 0 7.6 0a3.8 3.8 0 1 0 -7.6 0M1224.1 242.8a3.8 3.8 0 1 0 7.6 0a3.8 3.8 0 1 0 -7.6 0M1224.1 246.4a3.8 3.8 0 1 0 7.6 0a3.8 3.8 0 1 0 -7.6 0M1224.1 250.1a3.8 3.8 0 1 0 7.6 0a3.8 3.8 0 1 0 -7.6 0M1224.1 253.7a3.8 3.8 0 1 0 7.6 0a3.8 3.8 0 1 0 -7.6 0M1224.1 257.4a3.8 3.8 0 1 0 7.6 0a3.8 3.8 0 1 0 -7.6 0M1224.1 261.0a3.8 3.8 0 1 0 7.6 0a3.8 3.8 0 1 0 -7.6 0M1224.1 264.7a3.8 3.8 0 1 0 7.6 0a3.8 3.8 0 1 0 -7.6 0M1224.1 268.3a3.8 3.8 0 1 0 7.6 0a3.8 3.8 0 1 0 -7.6 0M1224.1 272.0a3.8 3.8 0 1 0 7.6 0a3.8 3.8 0 1 0 -7.6 0M1224.1 275.7a3.8 3.8 0 1 0 7.6 0a3.8 3.8 0 1 0 -7.6 0M1224.1 279.3a3.8 3.8 0 1 0 7.6 0a3.8 3.8 0 1 0 -7.6 0M1224.1 283.0a3.8 3.8 0 1 0 7.6 0a3.8 3.8 0 1 0 -7.6 0M1224.1 286.6a3.8 3.8 0 1 0 7.6 0a3.8 3.8 0 1 0 -7.6 0M1224.1 290.3a3.8 3.8 0 1 0 7.6 0a3.8 3.8 0 1 0 -7.6 0M1224.1 293.9a3.8 3.8 0 1 0 7.6 0a3.8 3.8 0 1 0 -7.6 0M1224.1 297.6a3.8 3.8 0 1 0 7.6 0a3.8 3.8 0 1 0 -7.6 0M1224.1 301.2a3.8 3.8 0 1 0 7.6 0a3.8 3.8 0 1 0 -7.6 0M1224.1 304.9a3.8 3.8 0 1 0 7.6 0a3.8 3.8 0 1 0 -7.6 0M1224.1 308.5a3.8 3.8 0 1 0 7.6 0a3.8 3.8 0 1 0 -7.6 0M1224.1 312.2a3.8 3.8 0 1 0 7.6 0a3.8 3.8 0 1 0 -7.6 0M1224.1 315.8a3.8 3.8 0 1 0 7.6 0a3.8 3.8 0 1 0 -7.6 0M1224.1 319.5a3.8 3.8 0 1 0 7.6 0a3.8 3.8 0 1 0 -7.6 0M1224.1 323.2a3.8 3.8 0 1 0 7.6 0a3.8 3.8 0 1 0 -7.6 0M1224.1 326.8a3.8 3.8 0 1 0 7.6 0a3.8 3.8 0 1 0 -7.6 0M1224.1 330.5a3.8 3.8 0 1 0 7.6 0a3.8 3.8 0 1 0 -7.6 0M1224.1 334.1a3.8 3.8 0 1 0 7.6 0a3.8 3.8 0 1 0 -7.6 0M1224.1 337.8a3.8 3.8 0 1 0 7.6 0a3.8 3.8 0 1 0 -7.6 0M1224.1 341.4a3.8 3.8 0 1 0 7.6 0a3.8 3.8 0 1 0 -7.6 0M1224.1 345.1a3.8 3.8 0 1 0 7.6 0a3.8 3.8 0 1 0 -7.6 0M1224.1 348.7a3.8 3.8 0 1 0 7.6 0a3.8 3.8 0 1 0 -7.6 0M1224.1 352.4a3.8 3.8 0 1 0 7.6 0a3.8 3.8 0 1 0 -7.6 0M1224.1 356.0a3.8 3.8 0 1 0 7.6 0a3.8 3.8 0 1 0 -7.6 0M1224.1 359.7a3.8 3.8 0 1 0 7.6 0a3.8 3.8 0 1 0 -7.6 0M1224.1 363.3a3.8 3.8 0 1 0 7.6 0a3.8 3.8 0 1 0 -7.6 0M1224.1 367.0a3.8 3.8 0 1 0 7.6 0a3.8 3.8 0 1 0 -7.6 0M1224.1 370.6a3.8 3.8 0 1 0 7.6 0a3.8 3.8 0 1 0 -7.6 0M1224.1 374.3a3.8 3.8 0 1 0 7.6 0a3.8 3.8 0 1 0 -7.6 0M1224.1 378.0a3.8 3.8 0 1 0 7.6 0a3.8 3.8 0 1 0 -7.6 0M1224.1 381.6a3.8 3.8 0 1 0 7.6 0a3.8 3.8 0 1 0 -7.6 0M1224.1 385.3a3.8 3.8 0 1 0 7.6 0a3.8 3.8 0 1 0 -7.6 0M1224.1 388.9a3.8 3.8 0 1 0 7.6 0a3.8 3.8 0 1 0 -7.6 0M1224.1 392.6a3.8 3.8 0 1 0 7.6 0a3.8 3.8 0 1 0 -7.6 0M1224.1 396.2a3.8 3.8 0 1 0 7.6 0a3.8 3.8 0 1 0 -7.6 0M1224.1 399.9a3.8 3.8 0 1 0 7.6 0a3.8 3.8 0 1 0 -7.6 0M1224.1 403.5a3.8 3.8 0 1 0 7.6 0a3.8 3.8 0 1 0 -7.6 0M1224.1 407.2a3.8 3.8 0 1 0 7.6 0a3.8 3.8 0 1 0 -7.6 0M1224.1 410.8a3.8 3.8 0 1 0 7.6 0a3.8 3.8 0 1 0 -7.6 0M1224.1 414.5a3.8 3.8 0 1 0 7.6 0a3.8 3.8 0 1 0 -7.6 0M1224.1 418.1a3.8 3.8 0 1 0 7.6 0a3.8 3.8 0 1 0 -7.6 0M1224.1 421.8a3.8 3.8 0 1 0 7.6 0a3.8 3.8 0 1 0 -7.6 0M1224.1 425.5a3.8 3.8 0 1 0 7.6 0a3.8 3.8 0 1 0 -7.6 0M1224.1 429.1a3.8 3.8 0 1 0 7.6 0a3.8 3.8 0 1 0 -7.6 0M1224.1 432.8a3.8 3.8 0 1 0 7.6 0a3.8 3.8 0 1 0 -7.6 0M1224.1 436.4a3.8 3.8 0 1 0 7.6 0a3.8 3.8 0 1 0 -7.6 0M1224.1 440.1a3.8 3.8 0 1 0 7.6 0a3.8 3.8 0 1 0 -7.6 0"/>
<path fill="url(#g16)" d="M1273.1 114.9a3.8 3.8 0 1 0 7.6 0a3.8 3.8 0 1 0 -7.6 0M1273.1 118.6a3.8 3.8 0 1 0 7.6 0a3.8 3.8 0 1 0 -7.6 0M1273.1 122.2a3.8 3.8 0 1 0 7.6 0a3.8 3.8 0 1 0 -7.6 0M1273.1 125.9a3.8 3.8 0 1 0 7.6 0a3.8 3.8 0 1 0 -7.6 0M1273.1 129.5a3.8 3.8 0 1 0 7.6 0a3.8 3.8 0 1 0 -7.6 0M1273.1 133.2a3.8 3.8 0 1 0 7.6 0a3.8 3.8 0 1 0 -7.6 0M1273.1 136.8a3.8 3.8 0 1 0 7.6 0a3.8 3.8 0 1 0 -7.6 0M1273.1 140.5a3.8 3.8 0 1 0 7.6 0a3.8 3.8 0 1 0 -7.6 0M1273.1 144.1a3.8 3.8 0 1 0 7.6 0a3.8 3.8 0 1 0 -7.6 0M1273.1 147.8a3.8 3.8 0 1 0 7.6 0a3.8 3.8 0 1 0 -7.6 0M1273.1 151.4a3.8 3.8 0 1 0 7.6 0a3.8 3.8 0 1 0 -7.6 0M1273.1 155.1a3.8 3.8 0 1 0 7.6 0a3.8 3.8 0 1 0 -7.6 0M1273.1 158.7a3.8 3.8 0 1 0 7.6 0a3.8 3.8 0 1 0 -7.6 0M1273.1 162.4a3.8 3.8 0 1 0 7.6 0a3.8 3.8 0 1 0 -7.6 0M1273.1 166.1a3.8 3.8 0 1 0 7.6 0a3.8 3.8 0 1 0 -7.6 0M1273.1 169.7a3.8 3.8 0 1 0 7.6 0a3.8 3.8 0 1 0 -7.6 0M1273.1 173.4a3.8 3.8 0 1 0 7.6 0a3.8 3.8 0 1 0 -7.6 0M1273.1 177.0a3.8 3.8 0 1 0 7.6 0a3.8 3.8 0 1 0 -7.6 0M1273.1 180.7a3.8 3.8 0 1 0 7.6 0a3.8 3.8 0 1 0 -7.6 0M1273.1 184.3a3.8 3.8 0 1 0 7.6 0a3.8 3.8 0 1 0 -7.6 0M1273.1 188.0a3.8 3.8 0 1 0 7.6 0a3.8 3.8 0 1 0 -7.6 0M1273.1 191.6a3.8 3.8 0 1 0 7.6 0a3.8 3.8 0 1 0 -7.6 0M1273.1 195.3a3.8 3.8 0 1 0 7.6 0a3.8 3.8 0 1 0 -7.6 0M1273.1 198.9a3.8 3.8 0 1 0 7.6 0a3.8 3.8 0 1 0 -7.6 0M1273.1 202.6a3.8 3.8 0 1 0 7.6 0a3.8 3.8 0 1 0 -7.6 0M1273.1 206.3a3.8 3.8 0 1 0 7.6 0a3.8 3.8 0 1 0 -7.6 0M1273.1 209.9a3.8 3.8 0 1 0 7.6 0a3.8 3.8 0 1 0 -7.6 0M1273.1 213.6a3.8 3.8 0 1 0 7.6 0a3.8 3.8 0 1 0 -7.6 0M1273.1 217.2a3.8 3.8 0 1 0 7.6 0a3.8 3.8 0 1 0 -7.6 0M1273.1 220.9a3.8 3.8 0 1 0 7.6 0a3.8 3.8 0 1 0 -7.6 0M1273.1 224.5a3.8 3.8 0 1 0 7.6 0a3.8 3.8 0 1 0 -7.6 0M1273.1 228.2a3.8 3.8 0 1 0 7.6 0a3.8 3.8 0 1 0 -7.6 0M1273.1 231.8a3.8 3.8 0 1 0 7.6 0a3.8 3.8 0 1 0 -7.6 0M1273.1 235.5a3.8 3.8 0 1 0 7.6 0a3.8 3.8 0 1 0 -7.6 0M1273.1 239.1a3.8 3.8 0 1 0 7.6 0a3.8 3.8 0 1 0 -7.6 0M1273.1 242.8a3.8 3.8 0 1 0 7.6 0a3.8 3.8 0 1 0 -7.6 0M1273.1 246.4a3.8 3.8 0 1 0 7.6 0a3.8 3.8 0 1 0 -7.6 0M1273.1 250.1a3.8 3.8 0 1 0 7.6 0a3.8 3.8 0 1 0 -7.6 0M1273.1 253.8a3.8 3.8 0 1 0 7.6 0a3.8 3.8 0 1 0 -7.6 0M1273.1 257.4a3.8 3.8 0 1 0 7.6 0a3.8 3.8 0 1 0 -7.6 0M1273.1 261.1a3.8 3.8 0 1 0 7.6 0a3.8 3.8 0 1 0 -7.6 0M1273.1 264.7a3.8 3.8 0 1 0 7.6 0a3.8 3.8 0 1 0 -7.6 0M1273.1 268.4a3.8 3.8 0 1 0 7.6 0a3.8 3.8 0 1 0 -7.6 0M1273.1 272.0a3.8 3.8 0 1 0 7.6 0a3.8 3.8 0 1 0 -7.6 0M1273.1 275.7a3.8 3.8 0 1 0 7.6 0a3.8 3.8 0 1 0 -7.6 0M1273.1 279.3a3.8 3.8 0 1 0 7.6 0a3.8 3.8 0 1 0 -7.6 0M1273.1 283.0a3.8 3.8 0 1 0 7.6 0a3.8 3.8 0 1 0 -7.6 0M1273.1 286.6a3.8 3.8 0 1 0 7.6 0a3.8 3.8 0 1 0 -7.6 0M1273.1 290.3a3.8 3.8 0 1 0 7.6 0a3.8 3.8 0 1 0 -7.6 0M1273.1 294.0a3.8 3.8 0 1 0 7.6 0a3.8 3.8 0 1 0 -7.6 0M1273.1 297.6a3.8 3.8 0 1 0 7.6 0a3.8 3.8 0 1 0 -7.6 0M1273.1 301.3a3.8 3.8 0 1 0 7.6 0a3.8 3.8 0 1 0 -7.6 0M1273.1 304.9a3.8 3.8 0 1 0 7.6 0a3.8 3.8 0 1 0 -7.6 0M1273.1 308.6a3.8 3.8 0 1 0 7.6 0a3.8 3.8 0 1 0 -7.6 0M1273.1 312.2a3.8 3.8 0 1 0 7.6 0a3.8 3.8 0 1 0 -7.6 0M1273.1 315.9a3.8 3.8 0 1 0 7.6 0a3.8 3.8 0 1 0 -7.6 0M1273.1 319.5a3.8 3.8 0 1 0 7.6 0a3.8 3.8 0 1 0 -7.6 0M1273.1 323.2a3.8 3.8 0 1 0 7.6 0a3.8 3.8 0 1 0 -7.6 0M1273.1 326.8a3.8 3.8 0 1 0 7.6 0a3.8 3.8 0 1 0 -7.6 0M1273.1 330.5a3.8 3.8 0 1 0 7.6 0a3.8 3.8 0 1 0 -7.6 0M1273.1 334.1a3.8 3.8 0 1 0 7.6 0a3.8 3.8 0 1 0 -7.6 0M1273.1 337.8a3.8 3.8 0 1 0 7.6 0a3.8 3.8 0 1 0 -7.6 0M1273.1 341.5a3.8 3.8 0 1 0 7.6 0a3.8 3.8 0 1 0 -7.6 0M1273.1 345.1a3.8 3.8 0 1 0 7.6 0a3.8 3.8 0 1 0 -7.6 0M1273.1 348.8a3.8 3.8 0 1 0 7.6 0a3.8 3.8 0 1 0 -7.6 0M1273.1 352.4a3.8 3.8 0 1 0 7.6 0a3.8 3.8 0 1 0 -7.6 0M1273.1 356.1a3.8 3.8 0 1 0 7.6 0a3.8 3.8 0 1 0 -7.6 0M1273.1 359.7a3.8 3.8 0 1 0 7.6 0a3.8 3.8 0 1 0 -7.6 0M1273.1 363.4a3.8 3.8 0 1 0 7.6 0a3.8 3.8 0 1 0 -7.6 0M1273.1 367.0a3.8 3.8 0 1 0 7.6 0a3.8 3.8 0 1 0 -7.6 0M1273.1 370.7a3.8 3.8 0 1 0 7.6 0a3.8 3.8 0 1 0 -7.6 0M1273.1 374.3a3.8 3.8 0 1 0 7.6 0a3.8 3.8 0 1 0 -7.6 0M1273.1 378.0a3.8 3.8 0 1 0 7.6 0a3.8 3.8 0 1 0 -7.6 0M1273.1 381.6a3.8 3.8 0 1 0 7.6 0a3.8 3.8 0 1 0 -7.6 0M1273.1 385.3a3.8 3.8 0 1 0 7.6 0a3.8 3.8 0 1 0 -7.6 0M1273.1 389.0a3.8 3.8 0 1 0 7.6 0a3.8 3.8 0 1 0 -7.6 0M1273.1 392.6a3.8 3.8 0 1 0 7.6 0a3.8 3.8 0 1 0 -7.6 0M1273.1 396.3a3.8 3.8 0 1 0 7.6 0a3.8 3.8 0 1 0 -7.6 0M1273.1 399.9a3.8 3.8 0 1 0 7.6 0a3.8 3.8 0 1 0 -7.6 0M1273.1 403.6a3.8 3.8 0 1 0 7.6 0a3.8 3.8 0 1 0 -7.6 0M1273.1 407.2a3.8 3.8 0 1 0 7.6 0a3.8 3.8 0 1 0 -7.6 0M1273.1 410.9a3.8 3.8 0 1 0 7.6 0a3.8 3.8 0 1 0 -7.6 0M1273.1 414.5a3.8 3.8 0 1 0 7.6 0a3.8 3.8 0 1 0 -7.6 0M1273.1 418.2a3.8 3.8 0 1 0 7.6 0a3.8 3.8 0 1 0 -7.6 0M1273.1 421.8a3.8 3.8 0 1 0 7.6 0a3.8 3.8 0 1 0 -7.6 0M1273.1 425.5a3.8 3.8 0 1 0 7.6 0a3.8 3.8 0 1 0 -7.6 0M1273.1 429.2a3.8 3.8 0 1 0 7.6 0a3.8 3.8 0 1 0 -7.6 0M1273.1 432.8a3.8 3.8 0 1 0 7.6 0a3.8 3.8 0 1 0 -7.6 0M1273.1 436.5a3.8 3.8 0 1 0 7.6 0a3.8 3.8 0 1 0 -7.6 0M1273.1 440.1a3.8 3.8 0 1 0 7.6 0a3.8 3.8 0 1 0 -7.6 0M1273.1 443.8a3.8 3.8 0 1 0 7.6 0a3.8 3.8 0 1 0 -7.6 0M1273.1 447.4a3.8 3.8 0 1 0 7.6 0a3.8 3.8 0 1 0 -7.6 0"/>
<path fill="url(#g17)" d="M1322.2 114.9a3.8 3.8 0 1 0 7.6 0a3.8 3.8 0 1 0 -7.6 0M1322.2 118.6a3.8 3.8 0 1 0 7.6 0a3.8 3.8 0 1 0 -7.6 0M1322.2 122.2a3.8 3.8 0 1 0 7.6 0a3.8 3.8 0 1 0 -7.6 0M1322.2 125.9a3.8 3.8 0 1 0 7.6 0a3.8 3.8 0 1 0 -7.6 0M1322.2 129.5a3.8 3.8 0 1 0 7.6 0a3.8 3.8 0 1 0 -7.6 0M1322.2 133.2a3.8 3.8 0 1 0 7.6 0a3.8 3.8 0 1 0 -7.6 0M1322.2 136.8a3.8 3.8 0 1 0 7.6 0a3.8 3.8 0 1 0 -7.6 0M1322.2 140.5a3.8 3.8 0 1 0 7.6 0a3.8 3.8 0 1 0 -7.6 0M1322.2 144.1a3.8 3.8 0 1 0 7.6 0a3.8 3.8 0 1 0 -7.6 0M1322.2 147.8a3.8 3.8 0 1 0 7.6 0a3.8 3.8 0 1 0 -7.6 0M1322.2 151.4a3.8 3.8 0 1 0 7.6 0a3.8 3.8 0 1 0 -7.6 0M1322.2 155.1a3.8 3.8 0 1 0 7.6 0a3.8 3.8 0 1 0 -7.6 0M1322.2 158.7a3.8 3.8 0 1 0 7.6 0a3.8 3.8 0 1 0 -7.6 0M1322.2 162.4a3.8 3.8 0 1 0 7.6 0a3.8 3.8 0 1 0 -7.6 0M1322.2 166.1a3.8 3.8 0 1 0 7.6 0a3.8 3.8 0 1 0 -7.6 0M1322.2 169.7a3.8 3.8 0 1 0 7.6 0a3.8 3.8 0 1 0 -7.6 0M1322.2 173.4a3.8 3.8 0 1 0 7.6 0a3.8 3.8 0 1 0 -7.6 0M1322.2 177.0a3.8 3.8 0 1 0 7.6 0a3.8 3.8 0 1 0 -7.6 0M1322.2 180.7a3.8 3.8 0 1 0 7.6 0a3.8 3.8 0 1 0 -7.6 0M1322.2 184.3a3.8 3.8 0 1 0 7.6 0a3.8 3.8 0 1 0 -7.6 0M1322.2 188.0a3.8 3.8 0 1 0 7.6 0a3.8 3.8 0 1 0 -7.6 0M1322.2 191.6a3.8 3.8 0 1 0 7.6 0a3.8 3.8 0 1 0 -7.6 0M1322.2 195.3a3.8 3.8 0 1 0 7.6 0a3.8 3.8 0 1 0 -7.6 0M1322.2 198.9a3.8 3.8 0 1 0 7.6 0a3.8 3.8 0 1 0 -7.6 0M1322.2 202.6a3.8 3.8 0 1 0 7.6 0a3.8 3.8 0 1 0 -7.6 0M1322.2 206.3a3.8 3.8 0 1 0 7.6 0a3.8 3.8 0 1 0 -7.6 0M1322.2 209.9a3.8 3.8 0 1 0 7.6 0a3.8 3.8 0 1 0 -7.6 0M1322.2 213.6a3.8 3.8 0 1 0 7.6 0a3.8 3.8 0 1 0 -7.6 0M1322.2 217.2a3.8 3.8 0 1 0 7.6 0a3.8 3.8 0 1 0 -7.6 0M1322.2 220.9a3.8 3.8 0 1 0 7.6 0a3.8 3.8 0 1 0 -7.6 0M1322.2 224.5a3.8 3.8 0 1 0 7.6 0a3.8 3.8 0 1 0 -7.6 0M1322.2 228.2a3.8 3.8 0 1 0 7.6 0a3.8 3.8 0 1 0 -7.6 0M1322.2 231.8a3.8 3.8 0 1 0 7.6 0a3.8 3.8 0 1 0 -7.6 0M1322.2 235.5a3.8 3.8 0 1 0 7.6 0a3.8 3.8 0 1 0 -7.6 0M1322.2 239.1a3.8 3.8 0 1 0 7.6 0a3.8 3.8 0 1 0 -7.6 0M1322.2 242.8a3.8 3.8 0 1 0 7.6 0a3.8 3.8 0 1 0 -7.6 0M1322.2 246.4a3.8 3.8 0 1 0 7.6 0a3.8 3.8 0 1 0 -7.6 0M1322.2 250.1a3.8 3.8 0 1 0 7.6 0a3.8 3.8 0 1 0 -7.6 0M1322.2 253.8a3.8 3.8 0 1 0 7.6 0a3.8 3.8 0 1 0 -7.6 0M1322.2 257.4a3.8 3.8 0 1 0 7.6 0a3.8 3.8 0 1 0 -7.6 0M1322.2 261.1a3.8 3.8 0 1 0 7.6 0a3.8 3.8 0 1 0 -7.6 0M1322.2 264.7a3.8 3.8 0 1 0 7.6 0a3.8 3.8 0 1 0 -7.6 0M1322.2 268.4a3.8 3.8 0 1 0 7.6 0a3.8 3.8 0 1 0 -7.6 0M1322.2 272.0a3.8 3.8 0 1 0 7.6 0a3.8 3.8 0 1 0 -7.6 0M1322.2 275.7a3.8 3.8 0 1 0 7.6 0a3.8 3.8 0 1 0 -7.6 0M1322.2 279.3a3.8 3.8 0 1 0 7.6 0a3.8 3.8 0 1 0 -7.6 0M1322.2 283.0a3.8 3.8 0 1 0 7.6 0a3.8 3.8 0 1 0 -7.6 0M1322.2 286.6a3.8 3.8 0 1 0 7.6 0a3.8 3.8 0 1 0 -7.6 0M1322.2 290.3a3.8 3.8 0 1 0 7.6 0a3.8 3.8 0 1 0 -7.6 0M1322.2 294.0a3.8 3.8 0 1 0 7.6 0a3.8 3.8 0 1 0 -7.6 0M1322.2 297.6a3.8 3.8 0 1 0 7.6 0a3.8 3.8 0 1 0 -7.6 0M1322.2 301.3a3.8 3.8 0 1 0 7.6 0a3.8 3.8 0 1 0 -7.6 0M1322.2 304.9a3.8 3.8 0 1 0 7.6 0a3.8 3.8 0 1 0 -7.6 0M1322.2 308.6a3.8 3.8 0 1 0 7.6 0a3.8 3.8 0 1 0 -7.6 0M1322.2 312.2a3.8 3.8 0 1 0 7.6 0a3.8 3.8 0 1 0 -7.6 0M1322.2 315.9a3.8 3.8 0 1 0 7.6 0a3.8 3.8 0 1 0 -7.6 0M1322.2 319.5a3.8 3.8 0 1 0 7.6 0a3.8 3.8 0 1 0 -7.6 0M1322.2 323.2a3.8 3.8 0 1 0 7.6 0a3.8 3.8 0 1 0 -7.6 0M1322.2 326.8a3.8 3.8 0 1 0 7.6 0a3.8 3.8 0 1 0 -7.6 0M1322.2 330.5a3.8 3.8 0 1 0 7.6 0a3.8 3.8 0 1 0 -7.6 0M1322.2 334.1a3.8 3.8 0 1 0 7.6 0a3.8 3.8 0 1 0 -7.6 0M1322.2 337.8a3.8 3.8 0 1 0 7.6 0a3.8 3.8 0 1 0 -7.6 0M1322.2 341.5a3.8 3.8 0 1 0 7.6 0a3.8 3.8 0 1 0 -7.6 0M1322.2 345.1a3.8 3.8 0 1 0 7.6 0a3.8 3.8 0 1 0 -7.6 0M1322.2 348.8a3.8 3.8 0 1 0 7.6 0a3.8 3.8 0 1 0 -7.6 0M1322.2 352.4a3.8 3.8 0 1 0 7.6 0a3.8 3.8 0 1 0 -7.6 0M1322.2 356.1a3.8 3.8 0 1 0 7.6 0a3.8 3.8 0 1 0 -7.6 0M1322.2 359.7a3.8 3.8 0 1 0 7.6 0a3.8 3.8 0 1 0 -7.6 0M1322.2 363.4a3.8 3.8 0 1 0 7.6 0a3.8 3.8 0 1 0 -7.6 0M1322.2 367.0a3.8 3.8 0 1 0 7.6 0a3.8 3.8 0 1 0 -7.6 0M1322.2 370.7a3.8 3.8 0 1 0 7.6 0a3.8 3.8 0 1 0 -7.6 0M1322.2 374.3a3.8 3.8 0 1 0 7.6 0a3.8 3.8 0 1 0 -7.6 0M1322.2 378.0a3.8 3.8 0 1 0 7.6 0a3.8 3.8 0 1 0 -7.6 0M1322.2 381.6a3.8 3.8 0 1 0 7.6 0a3.8 3.8 0 1 0 -7.6 0M1322.2 385.3a3.8 3.8 0 1 0 7.6 0a3.8 3.8 0 1 0 -7.6 0M1322.2 389.0a3.8 3.8 0 1 0 7.6 0a3.8 3.8 0 1 0 -7.6 0M1322.2 392.6a3.8 3.8 0 1 0 7.6 0a3.8 3.8 0 1 0 -7.6 0M1322.2 396.3a3.8 3.8 0 1 0 7.6 0a3.8 3.8 0 1 0 -7.6 0M1322.2 399.9a3.8 3.8 0 1 0 7.6 0a3.8 3.8 0 1 0 -7.6 0M1322.2 403.6a3.8 3.8 0 1 0 7.6 0a3.8 3.8 0 1 0 -7.6 0M1322.2 407.2a3.8 3.8 0 1 0 7.6 0a3.8 3.8 0 1 0 -7.6 0M1322.2 410.9a3.8 3.8 0 1 0 7.6 0a3.8 3.8 0 1 0 -7.6 0M1322.2 414.5a3.8 3.8 0 1 0 7.6 0a3.8 3.8 0 1 0 -7.6 0M1322.2 418.2a3.8 3.8 0 1 0 7.6 0a3.8 3.8 0 1 0 -7.6 0M1322.2 421.8a3.8 3.8 0 1 0 7.6 0a3.8 3.8 0 1 0 -7.6 0M1322.2 425.5a3.8 3.8 0 1 0 7.6 0a3.8 3.8 0 1 0 -7.6 0M1322.2 429.2a3.8 3.8 0 1 0 7.6 0a3.8 3.8 0 1 0 -7.6 0M1322.2 432.8a3.8 3.8 0 1 0 7.6 0a3.8 3.8 0 1 0 -7.6 0M1322.2 436.5a3.8 3.8 0 1 0 7.6 0a3.8 3.8 0 1 0 -7.6 0M1322.2 440.1a3.8 3.8 0 1 0 7.6 0a3.8 3.8 0 1 0 -7.6 0M1322.2 443.8a3.8 3.8 0 1 0 7.6 0a3.8 3.8 0 1 0 -7.6 0M1322.2 447.4a3.8 3.8 0 1 0 7.6 0a3.8 3.8 0 1 0 -7.6 0"/>
<path fill="url(#g18)" d="M1372.1 114.9a3.8 3.8 0 1 0 7.6 0a3.8 3.8 0 1 0 -7.6 0M1372.1 118.6a3.8 3.8 0 1 0 7.6 0a3.8 3.8 0 1 0 -7.6 0M1372.1 122.2a3.8 3.8 0 1 0 7.6 0a3.8 3.8 0 1 0 -7.6 0M1372.1 125.9a3.8 3.8 0 1 0 7.6 0a3.8 3.8 0 1 0 -7.6 0M1372.1 129.5a3.8 3.8 0 1 0 7.6 0a3.8 3.8 0 1 0 -7.6 0M1372.1 133.2a3.8 3.8 0 1 0 7.6 0a3.8 3.8 0 1 0 -7.6 0M1372.1 136.8a3.8 3.8 0 1 0 7.6 0a3.8 3.8 0 1 0 -7.6 0M1372.1 140.5a3.8 3.8 0 1 0 7.6 0a3.8 3.8 0 1 0 -7.6 0M1372.1 144.1a3.8 3.8 0 1 0 7.6 0a3.8 3.8 0 1 0 -7.6 0M1372.1 147.8a3.8 3.8 0 1 0 7.6 0a3.8 3.8 0 1 0 -7.6 0M1372.1 151.4a3.8 3.8 0 1 0 7.6 0a3.8 3.8 0 1 0 -7.6 0M1372.1 155.1a3.8 3.8 0 1 0 7.6 0a3.8 3.8 0 1 0 -7.6 0M1372.1 158.7a3.8 3.8 0 1 0 7.6 0a3.8 3.8 0 1 0 -7.6 0M1372.1 162.4a3.8 3.8 0 1 0 7.6 0a3.8 3.8 0 1 0 -7.6 0M1372.1 166.0a3.8 3.8 0 1 0 7.6 0a3.8 3.8 0 1 0 -7.6 0M1372.1 169.7a3.8 3.8 0 1 0 7.6 0a3.8 3.8 0 1 0 -7.6 0M1372.1 173.3a3.8 3.8 0 1 0 7.6 0a3.8 3.8 0 1 0 -7.6 0M1372.1 177.0a3.8 3.8 0 1 0 7.6 0a3.8 3.8 0 1 0 -7.6 0M1372.1 180.6a3.8 3.8 0 1 0 7.6 0a3.8 3.8 0 1 0 -7.6 0M1372.1 184.3a3.8 3.8 0 1 0 7.6 0a3.8 3.8 0 1 0 -7.6 0M1372.1 187.9a3.8 3.8 0 1 0 7.6 0a3.8 3.8 0 1 0 -7.6 0M1372.1 191.6a3.8 3.8 0 1 0 7.6 0a3.8 3.8 0 1 0 -7.6 0M1372.1 195.2a3.8 3.8 0 1 0 7.6 0a3.8 3.8 0 1 0 -7.6 0M1372.1 198.9a3.8 3.8 0 1 0 7.6 0a3.8 3.8 0 1 0 -7.6 0M1372.1 202.6a3.8 3.8 0 1 0 7.6 0a3.8 3.8 0 1 0 -7.6 0M1372.1 206.2a3.8 3.8 0 1 0 7.6 0a3.8 3.8 0 1 0 -7.6 0M1372.1 209.9a3.8 3.8 0 1 0 7.6 0a3.8 3.8 0 1 0 -7.6 0M1372.1 213.5a3.8 3.8 0 1 0 7.6 0a3.8 3.8 0 1 0 -7.6 0M1372.1 217.2a3.8 3.8 0 1 0 7.6 0a3.8 3.8 0 1 0 -7.6 0M1372.1 220.8a3.8 3.8 0 1 0 7.6 0a3.8 3.8 0 1 0 -7.6 0M1372.1 224.5a3.8 3.8 0 1 0 7.6 0a3.8 3.8 0 1 0 -7.6 0M1372.1 228.1a3.8 3.8 0 1 0 7.6 0a3.8 3.8 0 1 0 -7.6 0M1372.1 231.8a3.8 3.8 0 1 0 7.6 0a3.8 3.8 0 1 0 -7.6 0M1372.1 235.4a3.8 3.8 0 1 0 7.6 0a3.8 3.8 0 1 0 -7.6 0M1372.1 239.1a3.8 3.8 0 1 0 7.6 0a3.8 3.8 0 1 0 -7.6 0M1372.1 242.7a3.8 3.8 0 1 0 7.6 0a3.8 3.8 0 1 0 -7.6 0M1372.1 246.4a3.8 3.8 0 1 0 7.6 0a3.8 3.8 0 1 0 -7.6 0M1372.1 250.0a3.8 3.8 0 1 0 7.6 0a3.8 3.8 0 1 0 -7.6 0M1372.1 253.7a3.8 3.8 0 1 0 7.6 0a3.8 3.8 0 1 0 -7.6 0M1372.1 257.3a3.8 3.8 0 1 0 7.6 0a3.8 3.8 0 1 0 -7.6 0M1372.1 261.0a3.8 3.8 0 1 0 7.6 0a3.8 3.8 0 1 0 -7.6 0M1372.1 264.6a3.8 3.8 0 1 0 7.6 0a3.8 3.8 0 1 0 -7.6 0M1372.1 268.3a3.8 3.8 0 1 0 7.6 0a3.8 3.8 0 1 0 -7.6 0M1372.1 271.9a3.8 3.8 0 1 0 7.6 0a3.8 3.8 0 1 0 -7.6 0M1372.1 275.6a3.8 3.8 0 1 0 7.6 0a3.8 3.8 0 1 0 -7.6 0M1372.1 279.2a3.8 3.8 0 1 0 7.6 0a3.8 3.8 0 1 0 -7.6 0M1372.1 282.9a3.8 3.8 0 1 0 7.6 0a3.8 3.8 0 1 0 -7.6 0M1372.1 286.5a3.8 3.8 0 1 0 7.6 0a3.8 3.8 0 1 0 -7.6 0M1372.1 290.2a3.8 3.8 0 1 0 7.6 0a3.8 3.8 0 1 0 -7.6 0M1372.1 293.9a3.8 3.8 0 1 0 7.6 0a3.8 3.8 0 1 0 -7.6 0M1372.1 297.5a3.8 3.8 0 1 0 7.6 0a3.8 3.8 0 1 0 -7.6 0M1372.1 301.2a3.8 3.8 0 1 0 7.6 0a3.8 3.8 0 1 0 -7.6 0M1372.1 304.8a3.8 3.8 0 1 0 7.6 0a3.8 3.8 0 1 0 -7.6 0M1372.1 308.5a3.8 3.8 0 1 0 7.6 0a3.8 3.8 0 1 0 -7.6 0M1372.1 312.1a3.8 3.8 0 1 0 7.6 0a3.8 3.8 0 1 0 -7.6 0M1372.1 315.8a3.8 3.8 0 1 0 7.6 0a3.8 3.8 0 1 0 -7.6 0M1372.1 319.4a3.8 3.8 0 1 0 7.6 0a3.8 3.8 0 1 0 -7.6 0M1372.1 323.1a3.8 3.8 0 1 0 7.6 0a3.8 3.8 0 1 0 -7.6 0M1372.1 326.7a3.8 3.8 0 1 0 7.6 0a3.8 3.8 0 1 0 -7.6 0M1372.1 330.4a3.8 3.8 0 1 0 7.6 0a3.8 3.8 0 1 0 -7.6 0M1372.1 334.0a3.8 3.8 0 1 0 7.6 0a3.8 3.8 0 1 0 -7.6 0M1372.1 337.7a3.8 3.8 0 1 0 7.6 0a3.8 3.8 0 1 0 -7.6 0M1372.1 341.3a3.8 3.8 0 1 0 7.6 0a3.8 3.8 0 1 0 -7.6 0M1372.1 345.0a3.8 3.8 0 1 0 7.6 0a3.8 3.8 0 1 0 -7.6 0M1372.1 348.6a3.8 3.8 0 1 0 7.6 0a3.8 3.8 0 1 0 -7.6 0M1372.1 352.3a3.8 3.8 0 1 0 7.6 0a3.8 3.8 0 1 0 -7.6 0M1372.1 355.9a3.8 3.8 0 1 0 7.6 0a3.8 3.8 0 1 0 -7.6 0M1372.1 359.6a3.8 3.8 0 1 0 7.6 0a3.8 3.8 0 1 0 -7.6 0M1372.1 363.2a3.8 3.8 0 1 0 7.6 0a3.8 3.8 0 1 0 -7.6 0M1372.1 366.9a3.8 3.8 0 1 0 7.6 0a3.8 3.8 0 1 0 -7.6 0M1372.1 370.5a3.8 3.8 0 1 0 7.6 0a3.8 3.8 0 1 0 -7.6 0M1372.1 374.2a3.8 3.8 0 1 0 7.6 0a3.8 3.8 0 1 0 -7.6 0M1372.1 377.9a3.8 3.8 0 1 0 7.6 0a3.8 3.8 0 1 0 -7.6 0M1372.1 381.5a3.8 3.8 0 1 0 7.6 0a3.8 3.8 0 1 0 -7.6 0M1372.1 385.2a3.8 3.8 0 1 0 7.6 0a3.8 3.8 0 1 0 -7.6 0M1372.1 388.8a3.8 3.8 0 1 0 7.6 0a3.8 3.8 0 1 0 -7.6 0M1372.1 392.5a3.8 3.8 0 1 0 7.6 0a3.8 3.8 0 1 0 -7.6 0M1372.1 396.1a3.8 3.8 0 1 0 7.6 0a3.8 3.8 0 1 0 -7.6 0M1372.1 399.8a3.8 3.8 0 1 0 7.6 0a3.8 3.8 0 1 0 -7.6 0M1372.1 403.4a3.8 3.8 0 1 0 7.6 0a3.8 3.8 0 1 0 -7.6 0M1372.1 407.1a3.8 3.8 0 1 0 7.6 0a3.8 3.8 0 1 0 -7.6 0M1372.1 410.7a3.8 3.8 0 1 0 7.6 0a3.8 3.8 0 1 0 -7.6 0M1372.1 414.4a3.8 3.8 0 1 0 7.6 0a3.8 3.8 0 1 0 -7.6 0M1372.1 418.0a3.8 3.8 0 1 0 7.6 0a3.8 3.8 0 1 0 -7.6 0M1372.1 421.7a3.8 3.8 0 1 0 7.6 0a3.8 3.8 0 1 0 -7.6 0M1372.1 425.3a3.8 3.8 0 1 0 7.6 0a3.8 3.8 0 1 0 -7.6 0M1372.1 429.0a3.8 3.8 0 1 0 7.6 0a3.8 3.8 0 1 0 -7.6 0"/>
<path fill="url(#g19)" d="M1470.7 114.9a3.8 3.8 0 1 0 7.6 0a3.8 3.8 0 1 0 -7.6 0M1470.7 118.6a3.8 3.8 0 1 0 7.6 0a3.8 3.8 0 1 0 -7.6 0M1470.7 122.2a3.8 3.8 0 1 0 7.6 0a3.8 3.8 0 1 0 -7.6 0M1470.7 125.9a3.8 3.8 0 1 0 7.6 0a3.8 3.8 0 1 0 -7.6 0M1470.7 129.5a3.8 3.8 0 1 0 7.6 0a3.8 3.8 0 1 0 -7.6 0M1470.7 133.2a3.8 3.8 0 1 0 7.6 0a3.8 3.8 0 1 0 -7.6 0M1470.7 136.9a3.8 3.8 0 1 0 7.6 0a3.8 3.8 0 1 0 -7.6 0M1470.7 140.5a3.8 3.8 0 1 0 7.6 0a3.8 3.8 0 1 0 -7.6 0M1470.7 144.2a3.8 3.8 0 1 0 7.6 0a3.8 3.8 0 1 0 -7.6 0M1470.7 147.8a3.8 3.8 0 1 0 7.6 0a3.8 3.8 0 1 0 -7.6 0M1470.7 151.5a3.8 3.8 0 1 0 7.6 0a3.8 3.8 0 1 0 -7.6 0M1470.7 155.1a3.8 3.8 0 1 0 7.6 0a3.8 3.8 0 1 0 -7.6 0M1470.7 158.8a3.8 3.8 0 1 0 7.6 0a3.8 3.8 0 1 0 -7.6 0M1470.7 162.5a3.8 3.8 0 1 0 7.6 0a3.8 3.8 0 1 0 -7.6 0M1470.7 166.1a3.8 3.8 0 1 0 7.6 0a3.8 3.8 0 1 0 -7.6 0M1470.7 169.8a3.8 3.8 0 1 0 7.6 0a3.8 3.8 0 1 0 -7.6 0M1470.7 173.4a3.8 3.8 0 1 0 7.6 0a3.8 3.8 0 1 0 -7.6 0M1470.7 177.1a3.8 3.8 0 1 0 7.6 0a3.8 3.8 0 1 0 -7.6 0M1470.7 180.8a3.8 3.8 0 1 0 7.6 0a3.8 3.8 0 1 0 -7.6 0M1470.7 184.4a3.8 3.8 0 1 0 7.6 0a3.8 3.8 0 1 0 -7.6 0M1470.7 188.1a3.8 3.8 0 1 0 7.6 0a3.8 3.8 0 1 0 -7.6 0M1470.7 191.7a3.8 3.8 0 1 0 7.6 0a3.8 3.8 0 1 0 -7.6 0M1470.7 195.4a3.8 3.8 0 1 0 7.6 0a3.8 3.8 0 1 0 -7.6 0M1470.7 199.1a3.8 3.8 0 1 0 7.6 0a3.8 3.8 0 1 0 -7.6 0M1470.7 202.7a3.8 3.8 0 1 0 7.6 0a3.8 3.8 0 1 0 -7.6 0M1470.7 206.4a3.8 3.8 0 1 0 7.6 0a3.8 3.8 0 1 0 -7.6 0M1470.7 210.0a3.8 3.8 0 1 0 7.6 0a3.8 3.8 0 1 0 -7.6 0M1470.7 213.7a3.8 3.8 0 1 0 7.6 0a3.8 3.8 0 1 0 -7.6 0M1470.7 217.3a3.8 3.8 0 1 0 7.6 0a3.8 3.8 0 1 0 -7.6 0M1470.7 221.0a3.8 3.8 0 1 0 7.6 0a3.8 3.8 0 1 0 -7.6 0M1470.7 224.7a3.8 3.8 0 1 0 7.6 0a3.8 3.8 0 1 0 -7.6 0M1470.7 228.3a3.8 3.8 0 1 0 7.6 0a3.8 3.8 0 1 0 -7.6 0M1470.7 232.0a3.8 3.8 0 1 0 7.6 0a3.8 3.8 0 1 0 -7.6 0M1470.7 235.6a3.8 3.8 0 1 0 7.6 0a3.8 3.8 0 1 0 -7.6 0M1470.7 239.3a3.8 3.8 0 1 0 7.6 0a3.8 3.8 0 1 0 -7.6 0M1470.7 243.0a3.8 3.8 0 1 0 7.6 0a3.8 3.8 0 1 0 -7.6 0M1470.7 246.6a3.8 3.8 0 1 0 7.6 0a3.8 3.8 0 1 0 -7.6 0M1470.7 250.3a3.8 3.8 0 1 0 7.6 0a3.8 3.8 0 1 0 -7.6 0M1470.7 253.9a3.8 3.8 0 1 0 7.6 0a3.8 3.8 0 1 0 -7.6 0M1470.7 257.6a3.8 3.8 0 1 0 7.6 0a3.8 3.8 0 1 0 -7.6 0M1470.7 261.2a3.8 3.8 0 1 0 7.6 0a3.8 3.8 0 1 0 -7.6 0M1470.7 264.9a3.8 3.8 0 1 0 7.6 0a3.8 3.8 0 1 0 -7.6 0M1470.7 268.6a3.8 3.8 0 1 0 7.6 0a3.8 3.8 0 1 0 -7.6 0M1470.7 272.2a3.8 3.8 0 1 0 7.6 0a3.8 3.8 0 1 0 -7.6 0M1470.7 275.9a3.8 3.8 0 1 0 7.6 0a3.8 3.8 0 1 0 -7.6 0M1470.7 279.5a3.8 3.8 0 1 0 7.6 0a3.8 3.8 0 1 0 -7.6 0M1470.7 283.2a3.8 3.8 0 1 0 7.6 0a3.8 3.8 0 1 0 -7.6 0M1470.7 286.9a3.8 3.8 0 1 0 7.6 0a3.8 3.8 0 1 0 -7.6 0M1470.7 290.5a3.8 3.8 0 1 0 7.6 0a3.8 3.8 0 1 0 -7.6 0M1470.7 294.2a3.8 3.8 0 1 0 7.6 0a3.8 3.8 0 1 0 -7.6 0"/>
</g>
<rect x="79.5" y="115.5" width="463.0" height="333.0" fill="none" stroke="#000" stroke-width="1.1"/>
<rect x="557.5" y="115.5" width="462.0" height="333.0" fill="none" stroke="#000" stroke-width="1.1"/>
<rect x="1034.5" y="115.5" width="462.0" height="333.0" fill="none" stroke="#000" stroke-width="1.1"/>
<path d="M74.60 127.5H79.5M74.60 193.5H79.5M74.60 260.5H79.5M74.60 326.5H79.5M74.60 393.5H79.5M552.60 127.5H557.5M552.60 193.5H557.5M552.60 260.5H557.5M552.60 326.5H557.5M552.60 393.5H557.5M1029.60 185.5H1034.5M1029.60 258.5H1034.5M1029.60 331.5H1034.5M1029.60 404.5H1034.5M100.50 448.5V453.40M207.50 448.5V453.40M314.50 448.5V453.40M421.50 448.5V453.40M528.50 448.5V453.40M578.50 448.5V453.40M685.50 448.5V453.40M791.50 448.5V453.40M898.50 448.5V453.40M1005.50 448.5V453.40M1055.50 448.5V453.40M1162.50 448.5V453.40M1268.50 448.5V453.40M1375.50 448.5V453.40M1482.50 448.5V453.40" stroke="#000" stroke-width="1.1" fill="none"/>
<rect x="314.5" y="521.5" width="470.00" height="24.00" fill="url(#cm1)" stroke="#000" stroke-width="1.1"/>
<rect x="1034.5" y="521.5" width="462.00" height="24.00" fill="url(#cm2)" stroke="#000" stroke-width="1.1"/>
<path d="M328.50 545.5V550.4M410.50 545.5V550.4M491.50 545.5V550.4M572.50 545.5V550.4M653.50 545.5V550.4M735.50 545.5V550.4M1108.50 545.5V550.4M1186.50 545.5V550.4M1265.50 545.5V550.4M1343.50 545.5V550.4M1422.50 545.5V550.4" stroke="#000" stroke-width="1.1" fill="none"/>
<text transform="translate(288.65,21.85) scale(1.0555,1)" font-size="23.8">transect_9-2022-03-22:</text>
<text transform="translate(557.83,21.85) scale(1.0331,1)" font-size="23.8">bias:</text>
<text transform="translate(618.30,21.85) scale(1.0152,1)" font-size="23.8">0.5</text>
<text transform="translate(667.64,21.85) scale(1.0541,1)" font-size="23.8">corr:</text>
<text transform="translate(726.16,21.85) scale(1.0195,1)" font-size="23.8">0.3</text>
<text transform="translate(775.52,21.85) scale(1.0382,1)" font-size="23.8">ioa:</text>
<text transform="translate(823.79,21.85) scale(1.0070,1)" font-size="23.8">0.2</text>
<text transform="translate(873.02,21.85) scale(1.0341,1)" font-size="23.8">mse:</text>
<text transform="translate(934.77,21.85) scale(1.0071,1)" font-size="23.8">0.2</text>
<text transform="translate(984.02,21.85) scale(0.9740,1)" font-size="23.8">ss:</text>
<text transform="translate(1021.65,21.85) scale(1.0429,1)" font-size="23.8">-38.8</text>
<text transform="translate(1093.48,21.85) scale(1.0444,1)" font-size="23.8">rmse:</text>
<text transform="translate(1164.10,21.85) scale(1.0152,1)" font-size="23.8">0.5</text>
<text transform="translate(558.53,48.80) scale(1.0439,1)" font-size="23.8">2022-03-22</text>
<text transform="translate(694.75,48.80) scale(1.0518,1)" font-size="23.8">lon:</text>
<text transform="translate(742.98,48.80) scale(1.0505,1)" font-size="23.8">-151.36</text>
<text transform="translate(836.02,48.80) scale(1.0970,1)" font-size="23.8">lat:</text>
<text transform="translate(879.55,48.80) scale(1.0423,1)" font-size="23.8">59.57</text>
<text transform="translate(571.07,75.00) scale(1.0006,1)" font-size="23.8">Gwa:</text>
<text transform="translate(634.97,75.00) scale(1.0592,1)" font-size="23.8">Salinity</text>
<text transform="translate(724.20,75.00) scale(1.0777,1)" font-size="23.8">from</text>
<text transform="translate(783.46,75.00) scale(0.9255,1)" font-size="23.8">CTD</text>
<text transform="translate(836.79,75.00) scale(1.0784,1)" font-size="23.8">transect</text>
<text transform="translate(243.07,106.80) scale(1.0460,1)" font-size="23.8">Observation</text>
<text transform="translate(754.76,106.80) scale(0.8994,1)" font-size="23.8">CIOFS</text>
<text transform="translate(1199.04,106.80) scale(0.9706,1)" font-size="23.8">Obs</text>
<text transform="translate(1249.55,106.80) scale(0.9350,1)" font-size="23.8">-</text>
<text transform="translate(1264.85,106.80) scale(1.0198,1)" font-size="23.8">Model</text>
<text transform="translate(59.15,134.75) scale(0.9904,1)" font-size="19.9">0</text>
<text transform="translate(30.68,200.75) scale(1.1297,1)" font-size="19.9">−20</text>
<text transform="translate(30.68,267.75) scale(1.1297,1)" font-size="19.9">−40</text>
<text transform="translate(30.68,333.75) scale(1.1297,1)" font-size="19.9">−60</text>
<text transform="translate(30.68,400.75) scale(1.1297,1)" font-size="19.9">−80</text>
<text transform="translate(95.30,472.80) scale(1.0237,1)" font-size="19.9">0</text>
<text transform="translate(201.60,472.80) scale(0.9674,1)" font-size="19.9">1</text>
<text transform="translate(308.28,472.80) scale(0.9873,1)" font-size="19.9">2</text>
<text transform="translate(415.52,472.80) scale(1.0108,1)" font-size="19.9">3</text>
<text transform="translate(521.59,472.80) scale(1.0011,1)" font-size="19.9">4</text>
<text transform="translate(573.30,472.80) scale(1.0237,1)" font-size="19.9">0</text>
<text transform="translate(679.60,472.80) scale(0.9674,1)" font-size="19.9">1</text>
<text transform="translate(785.28,472.80) scale(0.9873,1)" font-size="19.9">2</text>
<text transform="translate(892.52,472.80) scale(1.0108,1)" font-size="19.9">3</text>
<text transform="translate(998.59,472.80) scale(1.0011,1)" font-size="19.9">4</text>
<text transform="translate(1050.30,472.80) scale(1.0237,1)" font-size="19.9">0</text>
<text transform="translate(1156.60,472.80) scale(0.9674,1)" font-size="19.9">1</text>
<text transform="translate(1262.28,472.80) scale(0.9873,1)" font-size="19.9">2</text>
<text transform="translate(1369.52,472.80) scale(1.0108,1)" font-size="19.9">3</text>
<text transform="translate(1475.59,472.80) scale(1.0011,1)" font-size="19.9">4</text>
<text transform="translate(170.17,497.00) scale(1.1159,1)" font-size="19.9">along-transect</text>
<text transform="translate(318.03,497.00) scale(1.1069,1)" font-size="19.9">distance</text>
<text transform="translate(406.44,497.00) scale(1.1987,1)" font-size="19.9">[km]</text>
<text transform="translate(647.67,497.00) scale(1.1159,1)" font-size="19.9">along-transect</text>
<text transform="translate(795.53,497.00) scale(1.1069,1)" font-size="19.9">distance</text>
<text transform="translate(883.94,497.00) scale(1.1987,1)" font-size="19.9">[km]</text>
<text transform="translate(1124.67,497.00) scale(1.1159,1)" font-size="19.9">along-transect</text>
<text transform="translate(1272.53,497.00) scale(1.1069,1)" font-size="19.9">distance</text>
<text transform="translate(1360.94,497.00) scale(1.1987,1)" font-size="19.9">[km]</text>
<text transform="translate(18.2,331.71) rotate(-90) scale(1.0975,1)" font-size="19.9">Depth</text>
<text transform="translate(18.2,266.74) rotate(-90) scale(1.2240,1)" font-size="19.9">[m]</text>
<text transform="translate(307.49,569.60) scale(1.0502,1)" font-size="19.9">31.3</text>
<text transform="translate(389.49,569.60) scale(1.0572,1)" font-size="19.9">31.4</text>
<text transform="translate(470.49,569.60) scale(1.0474,1)" font-size="19.9">31.5</text>
<text transform="translate(551.49,569.60) scale(1.0577,1)" font-size="19.9">31.6</text>
<text transform="translate(632.49,569.60) scale(1.0505,1)" font-size="19.9">31.7</text>
<text transform="translate(714.49,569.60) scale(1.0564,1)" font-size="19.9">31.8</text>
<text transform="translate(433.84,593.30) scale(0.9641,1)" font-size="19.9">Sea</text>
<text transform="translate(477.08,593.30) scale(1.1255,1)" font-size="19.9">water</text>
<text transform="translate(538.40,593.30) scale(1.1367,1)" font-size="19.9">salinity</text>
<text transform="translate(614.39,593.30) scale(1.1465,1)" font-size="19.9">[psu]</text>
<text transform="translate(1084.92,569.00) scale(1.1267,1)" font-size="19.9">−0.4</text>
<text transform="translate(1162.93,569.00) scale(1.1201,1)" font-size="19.9">−0.2</text>
<text transform="translate(1250.36,569.00) scale(1.0283,1)" font-size="19.9">0.0</text>
<text transform="translate(1328.38,569.00) scale(1.0098,1)" font-size="19.9">0.2</text>
<text transform="translate(1407.36,569.00) scale(1.0374,1)" font-size="19.9">0.4</text>
<text transform="translate(1097.64,593.20) scale(0.9622,1)" font-size="19.9">Sea</text>
<text transform="translate(1140.80,593.20) scale(1.1233,1)" font-size="19.9">water</text>
<text transform="translate(1201.99,593.20) scale(1.1345,1)" font-size="19.9">salinity</text>
<text transform="translate(1277.84,593.20) scale(1.1443,1)" font-size="19.9">[psu]</text>
<text transform="translate(1334.17,593.20) scale(1.1272,1)" font-size="19.9">difference</text>
</svg>
</body></html>
